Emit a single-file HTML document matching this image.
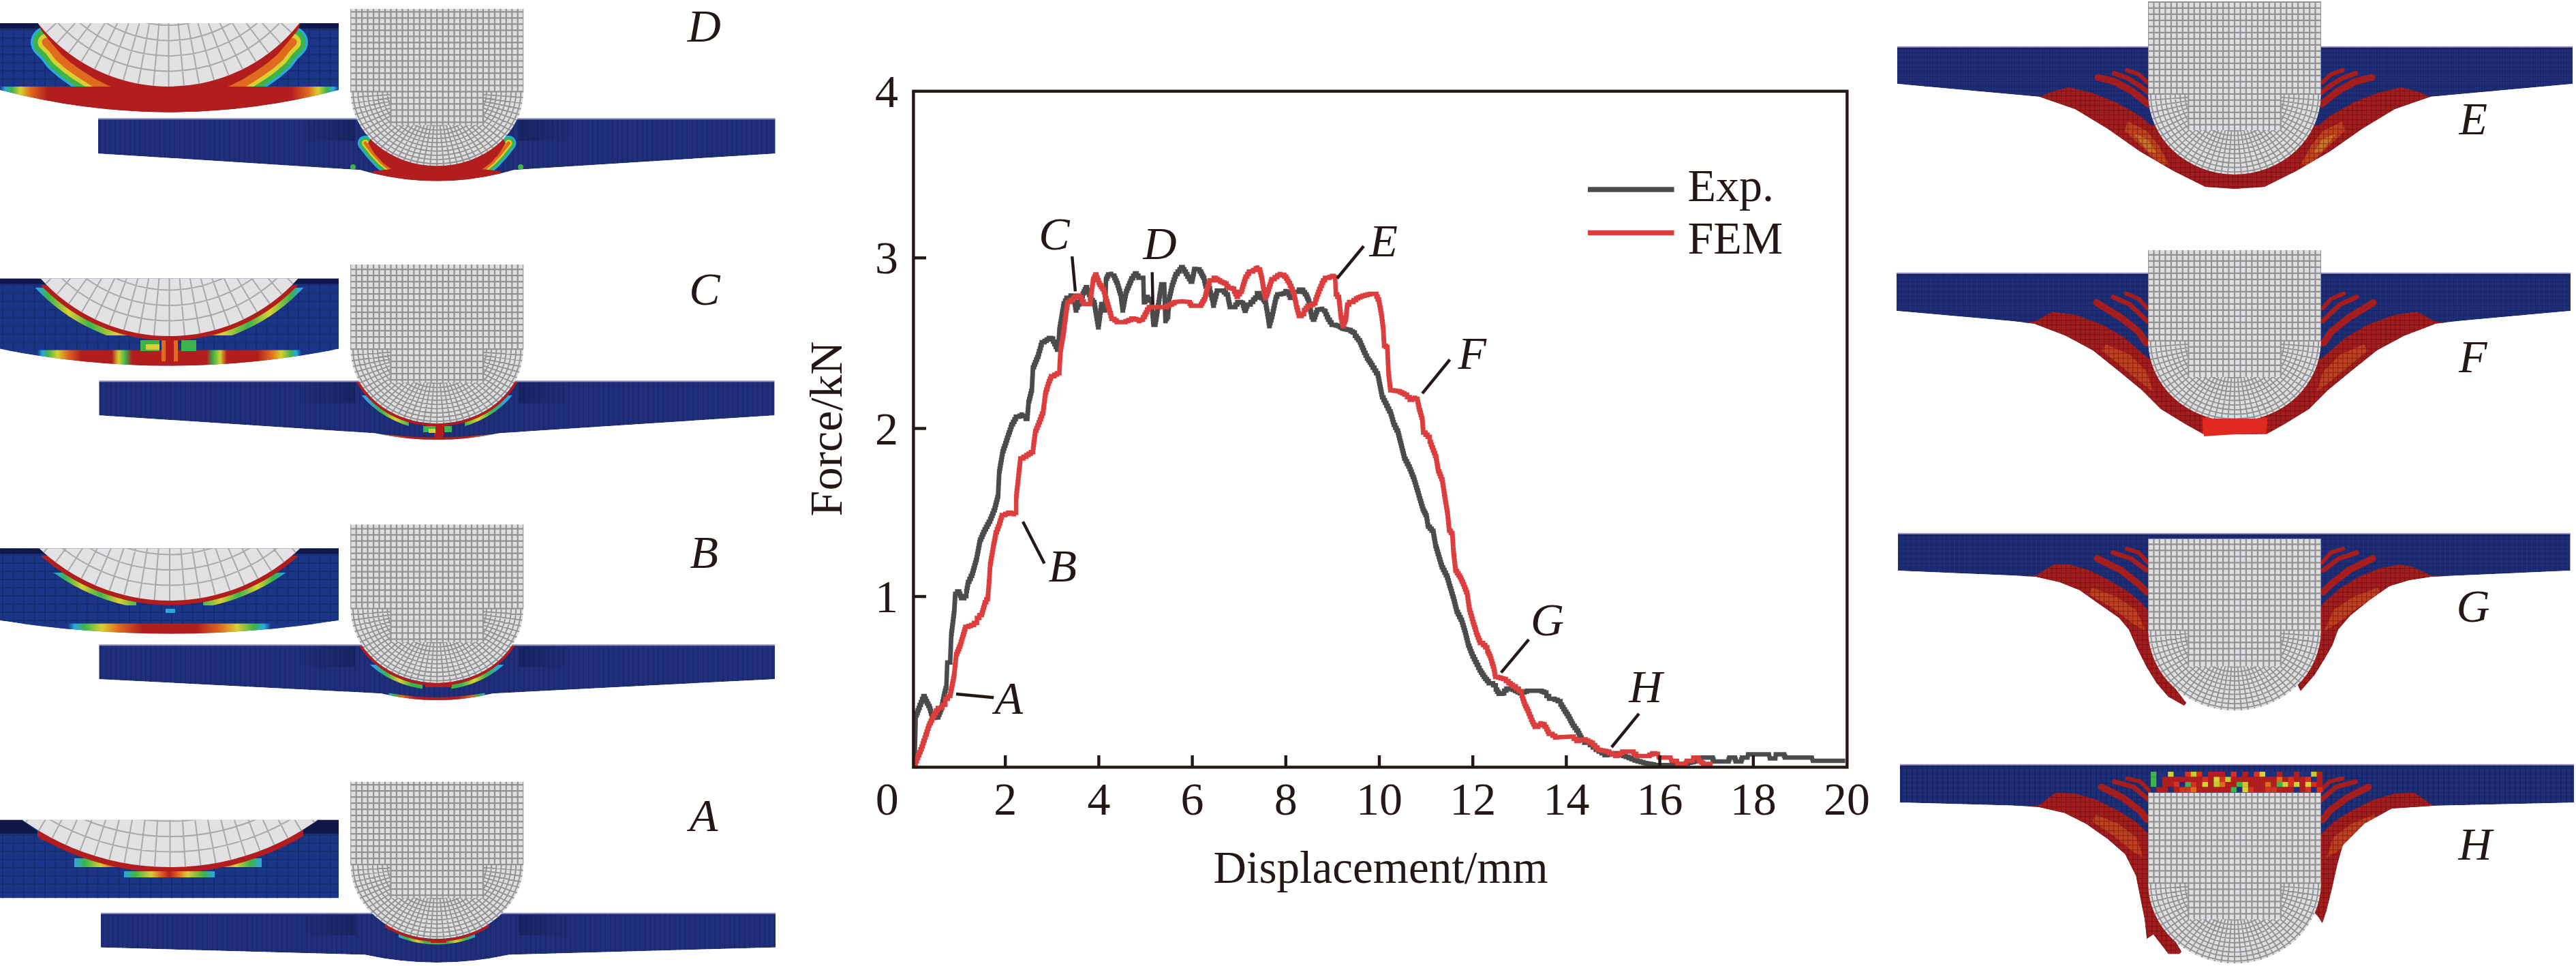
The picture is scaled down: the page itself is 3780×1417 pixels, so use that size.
<!DOCTYPE html>
<html><head><meta charset="utf-8"><title>Force-displacement</title>
<style>html,body{margin:0;padding:0;background:#fff;}svg{display:block;}</style></head>
<body>
<svg width="3780" height="1417" viewBox="0 0 3780 1417">
<defs>
<pattern id="redmesh" width="7" height="7" patternUnits="userSpaceOnUse"><path d="M0,0.5H7M0.5,0V7" stroke="#4a080c" stroke-width="1.5" opacity="0.42"/></pattern>
<pattern id="bluemesh" width="7.5" height="7" patternUnits="userSpaceOnUse"><path d="M0,0.5H7.5M0.5,0V7" stroke="#0c1440" stroke-width="1.2" opacity="0.35"/></pattern>
<linearGradient id="shL" x1="0" y1="0" x2="1" y2="0"><stop offset="0" stop-color="#0f1847" stop-opacity="0"/><stop offset="1" stop-color="#0f1847" stop-opacity="0.45"/></linearGradient>
<linearGradient id="shR" x1="0" y1="0" x2="1" y2="0"><stop offset="0" stop-color="#0f1847" stop-opacity="0.45"/><stop offset="1" stop-color="#0f1847" stop-opacity="0"/></linearGradient>
<linearGradient id="g1" gradientUnits="userSpaceOnUse" x1="0.0" y1="0" x2="497.0" y2="0"><stop offset="0.000" stop-color="#1b3688"/><stop offset="0.015" stop-color="#2aa8e0"/><stop offset="0.035" stop-color="#3cb44a"/><stop offset="0.060" stop-color="#d8d030"/><stop offset="0.090" stop-color="#e06a1e"/><stop offset="0.140" stop-color="#b21e1d"/><stop offset="0.860" stop-color="#b21e1d"/><stop offset="0.910" stop-color="#e06a1e"/><stop offset="0.940" stop-color="#d8d030"/><stop offset="0.965" stop-color="#3cb44a"/><stop offset="0.985" stop-color="#2aa8e0"/><stop offset="1.000" stop-color="#1b3688"/></linearGradient>
<linearGradient id="g2" gradientUnits="userSpaceOnUse" x1="55.0" y1="0" x2="442.0" y2="0"><stop offset="0.000" stop-color="#2aa8e0"/><stop offset="0.040" stop-color="#3cb44a"/><stop offset="0.120" stop-color="#d8d030"/><stop offset="0.200" stop-color="#3cb44a"/><stop offset="0.300" stop-color="#d8d030"/><stop offset="0.380" stop-color="#e06a1e"/><stop offset="0.620" stop-color="#e06a1e"/><stop offset="0.700" stop-color="#d8d030"/><stop offset="0.800" stop-color="#3cb44a"/><stop offset="0.880" stop-color="#d8d030"/><stop offset="0.960" stop-color="#3cb44a"/><stop offset="1.000" stop-color="#2aa8e0"/></linearGradient>
<linearGradient id="g3" gradientUnits="userSpaceOnUse" x1="0.0" y1="0" x2="497.0" y2="0"><stop offset="0.000" stop-color="#1b3688"/><stop offset="0.110" stop-color="#1b3688"/><stop offset="0.125" stop-color="#2aa8e0"/><stop offset="0.140" stop-color="#3cb44a"/><stop offset="0.170" stop-color="#d8d030"/><stop offset="0.200" stop-color="#e06a1e"/><stop offset="0.240" stop-color="#b21e1d"/><stop offset="0.330" stop-color="#b21e1d"/><stop offset="0.350" stop-color="#d8d030"/><stop offset="0.370" stop-color="#3cb44a"/><stop offset="0.390" stop-color="#b21e1d"/><stop offset="0.610" stop-color="#b21e1d"/><stop offset="0.630" stop-color="#3cb44a"/><stop offset="0.650" stop-color="#d8d030"/><stop offset="0.670" stop-color="#b21e1d"/><stop offset="0.760" stop-color="#b21e1d"/><stop offset="0.800" stop-color="#e06a1e"/><stop offset="0.830" stop-color="#d8d030"/><stop offset="0.860" stop-color="#3cb44a"/><stop offset="0.875" stop-color="#2aa8e0"/><stop offset="0.890" stop-color="#1b3688"/><stop offset="1.000" stop-color="#1b3688"/></linearGradient>
<clipPath id="cr4"><rect x="0.0" y="422.0" width="200.0" height="70.0"/><rect x="297.0" y="422.0" width="200.0" height="70.0"/></clipPath>
<clipPath id="cr5"><rect x="0.0" y="418.0" width="497.0" height="100.0"/></clipPath>
<linearGradient id="g6" gradientUnits="userSpaceOnUse" x1="540.0" y1="0" x2="742.0" y2="0"><stop offset="0.000" stop-color="#2aa8e0"/><stop offset="0.100" stop-color="#3cb44a"/><stop offset="0.200" stop-color="#d8d030"/><stop offset="0.300" stop-color="#3cb44a"/><stop offset="0.700" stop-color="#3cb44a"/><stop offset="0.800" stop-color="#d8d030"/><stop offset="0.900" stop-color="#3cb44a"/><stop offset="1.000" stop-color="#2aa8e0"/></linearGradient>
<clipPath id="cr7"><rect x="530.0" y="580.0" width="70.0" height="45.0"/><rect x="682.0" y="580.0" width="70.0" height="45.0"/></clipPath>
<linearGradient id="g8" gradientUnits="userSpaceOnUse" x1="555.0" y1="0" x2="727.0" y2="0"><stop offset="0.000" stop-color="#3cb44a"/><stop offset="0.100" stop-color="#e06a1e"/><stop offset="0.250" stop-color="#b21e1d"/><stop offset="0.750" stop-color="#b21e1d"/><stop offset="0.900" stop-color="#e06a1e"/><stop offset="1.000" stop-color="#3cb44a"/></linearGradient>
<linearGradient id="g9" gradientUnits="userSpaceOnUse" x1="80.0" y1="0" x2="418.0" y2="0"><stop offset="0.000" stop-color="#2aa8e0"/><stop offset="0.050" stop-color="#3cb44a"/><stop offset="0.120" stop-color="#d8d030"/><stop offset="0.200" stop-color="#3cb44a"/><stop offset="0.280" stop-color="#d8d030"/><stop offset="0.360" stop-color="#3cb44a"/><stop offset="0.400" stop-color="#2aa8e0"/><stop offset="0.600" stop-color="#2aa8e0"/><stop offset="0.640" stop-color="#3cb44a"/><stop offset="0.720" stop-color="#d8d030"/><stop offset="0.800" stop-color="#3cb44a"/><stop offset="0.880" stop-color="#d8d030"/><stop offset="0.950" stop-color="#3cb44a"/><stop offset="1.000" stop-color="#2aa8e0"/></linearGradient>
<linearGradient id="g10" gradientUnits="userSpaceOnUse" x1="0.0" y1="0" x2="497.0" y2="0"><stop offset="0.000" stop-color="#1b3688"/><stop offset="0.200" stop-color="#1b3688"/><stop offset="0.220" stop-color="#2aa8e0"/><stop offset="0.250" stop-color="#3cb44a"/><stop offset="0.300" stop-color="#d8d030"/><stop offset="0.350" stop-color="#e06a1e"/><stop offset="0.420" stop-color="#b21e1d"/><stop offset="0.580" stop-color="#b21e1d"/><stop offset="0.650" stop-color="#e06a1e"/><stop offset="0.700" stop-color="#d8d030"/><stop offset="0.750" stop-color="#3cb44a"/><stop offset="0.780" stop-color="#2aa8e0"/><stop offset="0.800" stop-color="#1b3688"/><stop offset="1.000" stop-color="#1b3688"/></linearGradient>
<clipPath id="cr11"><rect x="60.0" y="840.0" width="140.0" height="48.0"/><rect x="298.0" y="840.0" width="140.0" height="48.0"/></clipPath>
<clipPath id="cr12"><rect x="55.0" y="815.0" width="390.0" height="100.0"/></clipPath>
<linearGradient id="g13" gradientUnits="userSpaceOnUse" x1="550.0" y1="0" x2="732.0" y2="0"><stop offset="0.000" stop-color="#2aa8e0"/><stop offset="0.100" stop-color="#3cb44a"/><stop offset="0.200" stop-color="#d8d030"/><stop offset="0.300" stop-color="#3cb44a"/><stop offset="0.700" stop-color="#3cb44a"/><stop offset="0.800" stop-color="#d8d030"/><stop offset="0.900" stop-color="#3cb44a"/><stop offset="1.000" stop-color="#2aa8e0"/></linearGradient>
<clipPath id="cr14"><rect x="540.0" y="975.0" width="80.0" height="40.0"/><rect x="662.0" y="975.0" width="80.0" height="40.0"/></clipPath>
<linearGradient id="g15" gradientUnits="userSpaceOnUse" x1="570.0" y1="0" x2="712.0" y2="0"><stop offset="0.000" stop-color="#2aa8e0"/><stop offset="0.060" stop-color="#3cb44a"/><stop offset="0.140" stop-color="#e06a1e"/><stop offset="0.280" stop-color="#b21e1d"/><stop offset="0.720" stop-color="#b21e1d"/><stop offset="0.860" stop-color="#e06a1e"/><stop offset="0.940" stop-color="#3cb44a"/><stop offset="1.000" stop-color="#2aa8e0"/></linearGradient>
<linearGradient id="g16" gradientUnits="userSpaceOnUse" x1="109.0" y1="0" x2="384.0" y2="0"><stop offset="0.000" stop-color="#2aa8e0"/><stop offset="0.060" stop-color="#3cb44a"/><stop offset="0.140" stop-color="#d8d030"/><stop offset="0.200" stop-color="#e06a1e"/><stop offset="0.280" stop-color="#b21e1d"/><stop offset="0.720" stop-color="#b21e1d"/><stop offset="0.800" stop-color="#e06a1e"/><stop offset="0.860" stop-color="#d8d030"/><stop offset="0.940" stop-color="#3cb44a"/><stop offset="1.000" stop-color="#2aa8e0"/></linearGradient>
<linearGradient id="g17" gradientUnits="userSpaceOnUse" x1="182.0" y1="0" x2="315.0" y2="0"><stop offset="0.000" stop-color="#2aa8e0"/><stop offset="0.120" stop-color="#3cb44a"/><stop offset="0.300" stop-color="#d8d030"/><stop offset="0.400" stop-color="#e06a1e"/><stop offset="0.500" stop-color="#b21e1d"/><stop offset="0.600" stop-color="#e06a1e"/><stop offset="0.700" stop-color="#d8d030"/><stop offset="0.880" stop-color="#3cb44a"/><stop offset="1.000" stop-color="#2aa8e0"/></linearGradient>
<clipPath id="cr18"><rect x="55.0" y="1218.0" width="390.0" height="60.0"/></clipPath>
<linearGradient id="g19" gradientUnits="userSpaceOnUse" x1="585.0" y1="0" x2="697.0" y2="0"><stop offset="0.000" stop-color="#2aa8e0"/><stop offset="0.120" stop-color="#3cb44a"/><stop offset="0.250" stop-color="#d8d030"/><stop offset="0.350" stop-color="#3cb44a"/><stop offset="0.650" stop-color="#3cb44a"/><stop offset="0.750" stop-color="#d8d030"/><stop offset="0.880" stop-color="#3cb44a"/><stop offset="1.000" stop-color="#2aa8e0"/></linearGradient>
<clipPath id="cr20"><rect x="585.0" y="1360.0" width="112.0" height="30.0"/></clipPath>
<clipPath id="cr21"><rect x="565.0" y="1350.0" width="152.0" height="40.0"/></clipPath>
<clipPath id="ins22"><path d="M0,33.9 H497 V132.0 Q248.5,197.0 0,132.0 Z"/></clipPath>
<clipPath id="pl23"><path d="M143.9,174.4 H1137.7 V225.2 L754.2,249.3 Q641.2,281.9 528.2,249.3 L143.9,225.2 Z"/></clipPath>
<clipPath id="ind24"><path d="M514.2,13.0 H768.2 V134.3 A127.0,109.2 0 0 1 514.2,134.3 Z"/></clipPath>
<clipPath id="ring25"><path clip-rule="evenodd" d="M768.2,134.3 A127.0,109.2 0 0 1 514.2,134.3 Z M572.6,133.3 H709.8 V183.4 H572.6 Z"/></clipPath>
<clipPath id="ins26"><path d="M0,408.5 H497 V511.8 Q248.5,561.4 0,511.8 Z"/></clipPath>
<clipPath id="pl27"><path d="M145.3,559.4 H1136.6 V609.2 L732.4,635.5 Q641.2,654.5 550.0,635.5 L145.3,609.2 Z"/></clipPath>
<clipPath id="ind28"><path d="M514.2,388.0 H768.2 V512.2 A127.0,109.2 0 0 1 514.2,512.2 Z"/></clipPath>
<clipPath id="ring29"><path clip-rule="evenodd" d="M768.2,512.2 A127.0,109.2 0 0 1 514.2,512.2 Z M572.6,511.2 H709.8 V561.3 H572.6 Z"/></clipPath>
<clipPath id="ins30"><path d="M0,804.3 H497 V910.0 Q248.5,949.2 0,910.0 Z"/></clipPath>
<clipPath id="pl31"><path d="M145.3,946.4 H1137.0 V996.2 L723.4,1017.2 Q641.2,1036.8 559.0,1017.2 L145.3,996.2 Z"/></clipPath>
<clipPath id="ind32"><path d="M514.2,769.3 H768.2 V892.7 A127.0,109.2 0 0 1 514.2,892.7 Z"/></clipPath>
<clipPath id="ring33"><path clip-rule="evenodd" d="M768.2,892.7 A127.0,109.2 0 0 1 514.2,892.7 Z M572.6,891.7 H709.8 V941.8 H572.6 Z"/></clipPath>
<clipPath id="ins34"><path d="M0,1202.8 H497 V1317.6 H0 Z"/></clipPath>
<clipPath id="pl35"><path d="M148.0,1340.0 H1138.0 V1389.7 L746.7,1400.5 Q641.2,1423.5 535.7,1400.5 L148.0,1389.7 Z"/></clipPath>
<clipPath id="ind36"><path d="M514.2,1146.6 H768.2 V1268.1 A127.0,109.2 0 0 1 514.2,1268.1 Z"/></clipPath>
<clipPath id="ring37"><path clip-rule="evenodd" d="M768.2,1268.1 A127.0,109.2 0 0 1 514.2,1268.1 Z M572.6,1267.1 H709.8 V1317.2 H572.6 Z"/></clipPath>
<clipPath id="rp38"><path d="M2784.0,69.0 L3775.0,69.0 L3775.0,123.0 L3566.0,142.0 L3514.0,160.0 L3466.0,189.0 L3419.0,222.0 L3371.0,250.0 L3323.0,274.0 L3279.5,277.0 L3236.0,274.0 L3188.0,250.0 L3140.0,222.0 L3093.0,189.0 L3045.0,160.0 L2993.0,142.0 L2784.0,123.0 Z"/></clipPath>
<clipPath id="ind39"><path d="M3152.0,2.0 H3406.0 V137.9 A127.0,118.1 0 0 1 3152.0,137.9 Z"/></clipPath>
<clipPath id="ring40"><path clip-rule="evenodd" d="M3406.0,137.9 A127.0,118.1 0 0 1 3152.0,137.9 Z M3210.4,136.9 H3347.6 V191.0 H3210.4 Z"/></clipPath>
<clipPath id="rp41"><path d="M2783.0,401.0 L3772.0,401.0 L3772.0,456.0 L3609.0,470.8 L3574.0,474.8 L3528.2,492.3 L3487.8,513.9 L3447.5,546.2 L3415.1,573.1 L3388.2,600.0 L3353.2,621.6 L3326.3,636.4 L3279.5,637.0 L3232.7,636.4 L3205.8,621.6 L3170.8,600.0 L3143.9,573.1 L3111.5,546.2 L3071.2,513.9 L3030.8,492.3 L2985.0,474.8 L2950.0,470.8 L2783.0,456.0 Z"/></clipPath>
<clipPath id="ind42"><path d="M3152.0,367.0 H3406.0 V499.9 A127.0,118.1 0 0 1 3152.0,499.9 Z"/></clipPath>
<clipPath id="ring43"><path clip-rule="evenodd" d="M3406.0,499.9 A127.0,118.1 0 0 1 3152.0,499.9 Z M3210.4,498.9 H3347.6 V553.0 H3210.4 Z"/></clipPath>
<clipPath id="rp44"><path d="M2785.0,783.0 L3771.6,783.0 L3771.6,837.0 L3567.2,845.9 L3535.3,851.1 L3506.3,859.8 L3477.3,880.1 L3448.4,903.3 L3431.0,923.6 L3422.3,946.8 L3410.7,967.0 L3396.2,990.2 L3375.9,1013.4 L3370.1,1001.8 L3360.0,960.0 L3200.0,960.0 L3172.0,982.0 L3186.0,1002.0 L3208.0,1031.0 L3205.0,1035.1 L3181.8,1022.1 L3164.4,1001.8 L3150.0,978.6 L3135.5,949.7 L3123.9,923.6 L3109.4,906.2 L3080.4,885.9 L3051.4,865.6 L3022.4,854.0 L2987.7,845.9 L2950.0,843.9 L2785.0,837.0 Z"/></clipPath>
<clipPath id="ind45"><path d="M3152.0,790.3 H3406.0 V924.3 A127.0,118.1 0 0 1 3152.0,924.3 Z"/></clipPath>
<clipPath id="ring46"><path clip-rule="evenodd" d="M3406.0,924.3 A127.0,118.1 0 0 1 3152.0,924.3 Z M3210.4,923.3 H3347.6 V977.4 H3210.4 Z"/></clipPath>
<clipPath id="rp47"><path d="M2788.0,1122.0 L3777.0,1122.0 L3777.0,1177.2 L3569.7,1182.0 L3509.7,1186.0 L3469.7,1208.0 L3437.7,1240.0 L3429.7,1268.0 L3421.7,1304.0 L3413.7,1336.0 L3407.7,1354.0 L3402.0,1345.0 L3360.0,1300.0 L3200.0,1300.0 L3180.0,1360.0 L3201.0,1396.0 L3197.9,1399.3 L3182.0,1399.3 L3159.8,1370.6 L3150.3,1377.0 L3147.1,1348.4 L3140.7,1316.6 L3134.4,1284.8 L3118.5,1253.0 L3093.0,1230.8 L3061.3,1208.5 L3029.5,1192.6 L2991.3,1183.7 L2950.0,1181.5 L2788.0,1177.2 Z"/></clipPath>
<clipPath id="ind48"><path d="M3152.0,1162.4 H3406.0 V1295.4 A127.0,118.1 0 0 1 3152.0,1295.4 Z"/></clipPath>
<clipPath id="ring49"><path clip-rule="evenodd" d="M3406.0,1295.4 A127.0,118.1 0 0 1 3152.0,1295.4 Z M3210.4,1294.4 H3347.6 V1348.5 H3210.4 Z"/></clipPath>
</defs>
<rect width="3780" height="1417" fill="#fff"/>
<g clip-path="url(#ins22)">
<path d="M0,33.9 H497 V132.0 Q248.5,197.0 0,132.0 Z" fill="#1b3688"/>
<path d="M4.0,33.9V233.9M19.5,33.9V233.9M35.0,33.9V233.9M50.5,33.9V233.9M66.0,33.9V233.9M81.5,33.9V233.9M97.0,33.9V233.9M112.5,33.9V233.9M128.0,33.9V233.9M143.5,33.9V233.9M159.0,33.9V233.9M174.5,33.9V233.9M190.0,33.9V233.9M205.5,33.9V233.9M221.0,33.9V233.9M236.5,33.9V233.9M252.0,33.9V233.9M267.5,33.9V233.9M283.0,33.9V233.9M298.5,33.9V233.9M314.0,33.9V233.9M329.5,33.9V233.9M345.0,33.9V233.9M360.5,33.9V233.9M376.0,33.9V233.9M391.5,33.9V233.9M407.0,33.9V233.9M422.5,33.9V233.9M438.0,33.9V233.9M453.5,33.9V233.9M469.0,33.9V233.9M484.5,33.9V233.9M0,43.9H497M0,55.9H497M0,67.9H497M0,79.9H497M0,91.9H497M0,103.9H497M0,115.9H497M0,127.9H497M0,139.9H497M0,151.9H497M0,163.9H497M0,175.9H497M0,187.9H497M0,199.9H497M0,211.9H497M0,223.9H497" stroke="#141f55" stroke-width="1.6" opacity="0.5" fill="none"/>
<rect x="0" y="33.9" width="497" height="8" fill="#0f1847"/>
<polyline points="68.0,62.0 78.0,72.0 87.0,84.0 101.0,96.0 115.0,106.0 137.0,120.0 156.0,130.0" fill="none" stroke="#2aa8e0" stroke-width="46.0" stroke-linecap="round" stroke-linejoin="round"/>
<polyline points="429.0,62.0 419.0,72.0 410.0,84.0 396.0,96.0 382.0,106.0 360.0,120.0 341.0,130.0" fill="none" stroke="#2aa8e0" stroke-width="46.0" stroke-linecap="round" stroke-linejoin="round"/>
<polyline points="68.0,62.0 78.0,72.0 87.0,84.0 101.0,96.0 115.0,106.0 137.0,120.0 156.0,130.0" fill="none" stroke="#3cb44a" stroke-width="39.0" stroke-linecap="round" stroke-linejoin="round"/>
<polyline points="429.0,62.0 419.0,72.0 410.0,84.0 396.0,96.0 382.0,106.0 360.0,120.0 341.0,130.0" fill="none" stroke="#3cb44a" stroke-width="39.0" stroke-linecap="round" stroke-linejoin="round"/>
<polyline points="68.0,62.0 78.0,72.0 87.0,84.0 101.0,96.0 115.0,106.0 137.0,120.0 156.0,130.0" fill="none" stroke="#d8d030" stroke-width="25.0" stroke-linecap="round" stroke-linejoin="round"/>
<polyline points="429.0,62.0 419.0,72.0 410.0,84.0 396.0,96.0 382.0,106.0 360.0,120.0 341.0,130.0" fill="none" stroke="#d8d030" stroke-width="25.0" stroke-linecap="round" stroke-linejoin="round"/>
<polyline points="68.0,62.0 78.0,72.0 87.0,84.0 101.0,96.0 115.0,106.0 137.0,120.0 156.0,130.0" fill="none" stroke="#e06a1e" stroke-width="13.0" stroke-linecap="round" stroke-linejoin="round"/>
<polyline points="429.0,62.0 419.0,72.0 410.0,84.0 396.0,96.0 382.0,106.0 360.0,120.0 341.0,130.0" fill="none" stroke="#e06a1e" stroke-width="13.0" stroke-linecap="round" stroke-linejoin="round"/>
<rect x="0" y="127" width="497" height="45" fill="url(#g1)"/>
<path d="M56.0,34.0 L60.0,44.0 L68.0,54.0 L78.0,66.0 L90.0,80.0 L104.0,92.0 L118.0,102.0 L140.0,116.0 L160.0,126.0 L180.0,134.0 L248.5,300.0 L317.0,134.0 L337.0,126.0 L357.0,116.0 L379.0,102.0 L393.0,92.0 L407.0,80.0 L419.0,66.0 L429.0,54.0 L437.0,44.0 L441.0,34.0 Z" fill="#b21e1d" />
<circle cx="247.5" cy="-117.8" r="244.7" fill="#e2e2e4"/>
<path d="M25.3,-117.8 a222.2,222.2 0 1 0 444.4,0M47.8,-117.8 a199.7,199.7 0 1 0 399.4,0M70.3,-117.8 a177.2,177.2 0 1 0 354.4,0M92.8,-117.8 a154.7,154.7 0 1 0 309.4,0M115.3,-117.8 a132.2,132.2 0 1 0 264.4,0M137.8,-117.8 a109.7,109.7 0 1 0 219.4,0M160.3,-117.8 a87.2,87.2 0 1 0 174.4,0M182.8,-117.8 a64.7,64.7 0 1 0 129.4,0M247.5,-117.8L122.5,-328.1M247.5,-117.8L142.3,-338.7M247.5,-117.8L163.0,-347.5M247.5,-117.8L184.5,-354.2M247.5,-117.8L206.4,-359.0M247.5,-117.8L228.8,-361.8M247.5,-117.8L251.2,-362.5M247.5,-117.8L273.7,-361.1M247.5,-117.8L295.9,-357.7M247.5,-117.8L317.7,-352.2M247.5,-117.8L339.0,-344.8M247.5,-117.8L359.4,-335.4M247.5,-117.8L378.9,-324.2M247.5,-117.8L397.3,-311.3M247.5,-117.8L414.5,-296.7M247.5,-117.8L430.2,-280.6M247.5,-117.8L444.4,-263.1M247.5,-117.8L456.9,-244.5M247.5,-117.8L467.6,-224.7M247.5,-117.8L476.5,-204.0M247.5,-117.8L483.5,-182.6M247.5,-117.8L488.4,-160.7M247.5,-117.8L491.3,-138.4M247.5,-117.8L492.2,-115.9M247.5,-117.8L491.0,-93.5M247.5,-117.8L487.7,-71.2M247.5,-117.8L482.4,-49.4M247.5,-117.8L475.2,-28.1M247.5,-117.8L466.0,-7.5M247.5,-117.8L454.9,12.0M247.5,-117.8L442.1,30.5M247.5,-117.8L427.7,47.8M247.5,-117.8L411.7,63.6M247.5,-117.8L394.3,77.9M247.5,-117.8L375.8,90.6M247.5,-117.8L356.1,101.5M247.5,-117.8L335.5,110.5M247.5,-117.8L314.1,117.6M247.5,-117.8L292.2,122.8M247.5,-117.8L270.0,125.9M247.5,-117.8L247.5,126.9M247.5,-117.8L225.0,125.9M247.5,-117.8L202.8,122.8M247.5,-117.8L180.9,117.6M247.5,-117.8L159.5,110.5M247.5,-117.8L138.9,101.5M247.5,-117.8L119.2,90.6M247.5,-117.8L100.7,77.9M247.5,-117.8L83.3,63.6M247.5,-117.8L67.3,47.8M247.5,-117.8L52.9,30.5M247.5,-117.8L40.1,12.0M247.5,-117.8L29.0,-7.5M247.5,-117.8L19.8,-28.1M247.5,-117.8L12.6,-49.4M247.5,-117.8L7.3,-71.2M247.5,-117.8L4.0,-93.5M247.5,-117.8L2.8,-115.9M247.5,-117.8L3.7,-138.4M247.5,-117.8L6.6,-160.7M247.5,-117.8L11.5,-182.6M247.5,-117.8L18.5,-204.0M247.5,-117.8L27.4,-224.7M247.5,-117.8L38.1,-244.5M247.5,-117.8L50.6,-263.1M247.5,-117.8L64.8,-280.6M247.5,-117.8L80.5,-296.7M247.5,-117.8L97.7,-311.3M247.5,-117.8L116.1,-324.2M247.5,-117.8L135.6,-335.4M247.5,-117.8L156.0,-344.8M247.5,-117.8L177.3,-352.2M247.5,-117.8L199.1,-357.7M247.5,-117.8L221.3,-361.1M247.5,-117.8L243.8,-362.5M247.5,-117.8L266.2,-361.8M247.5,-117.8L288.6,-359.0M247.5,-117.8L310.5,-354.2M247.5,-117.8L332.0,-347.5M247.5,-117.8L352.7,-338.7M247.5,-117.8L372.5,-328.1" stroke="#a9a9a9" stroke-width="2" fill="none"/>
</g>
<g clip-path="url(#pl23)">
<path d="M143.9,174.4 H1137.7 V225.2 L754.2,249.3 Q641.2,281.9 528.2,249.3 L143.9,225.2 Z" fill="#1f2f7a"/>
<path d="M146.9,174.4V294.4M154.2,174.4V294.4M161.5,174.4V294.4M168.8,174.4V294.4M176.1,174.4V294.4M183.4,174.4V294.4M190.7,174.4V294.4M198.0,174.4V294.4M205.3,174.4V294.4M212.6,174.4V294.4M219.9,174.4V294.4M227.2,174.4V294.4M234.5,174.4V294.4M241.8,174.4V294.4M249.1,174.4V294.4M256.4,174.4V294.4M263.7,174.4V294.4M271.0,174.4V294.4M278.3,174.4V294.4M285.6,174.4V294.4M292.9,174.4V294.4M300.2,174.4V294.4M307.5,174.4V294.4M314.8,174.4V294.4M322.1,174.4V294.4M329.4,174.4V294.4M336.7,174.4V294.4M344.0,174.4V294.4M351.3,174.4V294.4M358.6,174.4V294.4M365.9,174.4V294.4M373.2,174.4V294.4M380.5,174.4V294.4M387.8,174.4V294.4M395.1,174.4V294.4M402.4,174.4V294.4M409.7,174.4V294.4M417.0,174.4V294.4M424.3,174.4V294.4M431.6,174.4V294.4M438.9,174.4V294.4M446.2,174.4V294.4M453.5,174.4V294.4M460.8,174.4V294.4M468.1,174.4V294.4M475.4,174.4V294.4M482.7,174.4V294.4M490.0,174.4V294.4M497.3,174.4V294.4M504.6,174.4V294.4M511.9,174.4V294.4M519.2,174.4V294.4M526.5,174.4V294.4M533.8,174.4V294.4M541.1,174.4V294.4M548.4,174.4V294.4M555.7,174.4V294.4M563.0,174.4V294.4M570.3,174.4V294.4M577.6,174.4V294.4M584.9,174.4V294.4M592.2,174.4V294.4M599.5,174.4V294.4M606.8,174.4V294.4M614.1,174.4V294.4M621.4,174.4V294.4M628.7,174.4V294.4M636.0,174.4V294.4M643.3,174.4V294.4M650.6,174.4V294.4M657.9,174.4V294.4M665.2,174.4V294.4M672.5,174.4V294.4M679.8,174.4V294.4M687.1,174.4V294.4M694.4,174.4V294.4M701.7,174.4V294.4M709.0,174.4V294.4M716.3,174.4V294.4M723.6,174.4V294.4M730.9,174.4V294.4M738.2,174.4V294.4M745.5,174.4V294.4M752.8,174.4V294.4M760.1,174.4V294.4M767.4,174.4V294.4M774.7,174.4V294.4M782.0,174.4V294.4M789.3,174.4V294.4M796.6,174.4V294.4M803.9,174.4V294.4M811.2,174.4V294.4M818.5,174.4V294.4M825.8,174.4V294.4M833.1,174.4V294.4M840.4,174.4V294.4M847.7,174.4V294.4M855.0,174.4V294.4M862.3,174.4V294.4M869.6,174.4V294.4M876.9,174.4V294.4M884.2,174.4V294.4M891.5,174.4V294.4M898.8,174.4V294.4M906.1,174.4V294.4M913.4,174.4V294.4M920.7,174.4V294.4M928.0,174.4V294.4M935.3,174.4V294.4M942.6,174.4V294.4M949.9,174.4V294.4M957.2,174.4V294.4M964.5,174.4V294.4M971.8,174.4V294.4M979.1,174.4V294.4M986.4,174.4V294.4M993.7,174.4V294.4M1001.0,174.4V294.4M1008.3,174.4V294.4M1015.6,174.4V294.4M1022.9,174.4V294.4M1030.2,174.4V294.4M1037.5,174.4V294.4M1044.8,174.4V294.4M1052.1,174.4V294.4M1059.4,174.4V294.4M1066.7,174.4V294.4M1074.0,174.4V294.4M1081.3,174.4V294.4M1088.6,174.4V294.4M1095.9,174.4V294.4M1103.2,174.4V294.4M1110.5,174.4V294.4M1117.8,174.4V294.4M1125.1,174.4V294.4M1132.4,174.4V294.4" stroke="#141f55" stroke-width="1.3" opacity="0.45" fill="none"/>
<rect x="441.2" y="176.4" width="80" height="30" fill="url(#shL)"/>
<rect x="761.2" y="176.4" width="80" height="30" fill="url(#shR)"/>
<polyline points="536.0,210.0 547.0,224.0 559.0,237.0 571.0,247.0" fill="none" stroke="#2aa8e0" stroke-width="22.0" stroke-linecap="round" stroke-linejoin="round"/>
<polyline points="746.4,210.0 735.4,224.0 723.4,237.0 711.4,247.0" fill="none" stroke="#2aa8e0" stroke-width="22.0" stroke-linecap="round" stroke-linejoin="round"/>
<polyline points="536.0,210.0 547.0,224.0 559.0,237.0 571.0,247.0" fill="none" stroke="#3cb44a" stroke-width="17.0" stroke-linecap="round" stroke-linejoin="round"/>
<polyline points="746.4,210.0 735.4,224.0 723.4,237.0 711.4,247.0" fill="none" stroke="#3cb44a" stroke-width="17.0" stroke-linecap="round" stroke-linejoin="round"/>
<polyline points="536.0,210.0 547.0,224.0 559.0,237.0 571.0,247.0" fill="none" stroke="#d8d030" stroke-width="10.0" stroke-linecap="round" stroke-linejoin="round"/>
<polyline points="746.4,210.0 735.4,224.0 723.4,237.0 711.4,247.0" fill="none" stroke="#d8d030" stroke-width="10.0" stroke-linecap="round" stroke-linejoin="round"/>
<polyline points="536.0,210.0 547.0,224.0 559.0,237.0 571.0,247.0" fill="none" stroke="#e06a1e" stroke-width="5.0" stroke-linecap="round" stroke-linejoin="round"/>
<polyline points="746.4,210.0 735.4,224.0 723.4,237.0 711.4,247.0" fill="none" stroke="#e06a1e" stroke-width="5.0" stroke-linecap="round" stroke-linejoin="round"/>
<circle cx="518" cy="245" r="4" fill="#3cb44a"/><circle cx="764" cy="245" r="4" fill="#3cb44a"/>
<path d="M548.0,196.0 L540.0,210.0 L550.0,226.0 L562.0,239.0 L574.0,248.0 L548.0,251.0 L535.0,275.0 L747.0,275.0 L734.0,251.0 L708.0,248.0 L720.0,239.0 L732.0,226.0 L742.0,210.0 L734.0,196.0 L641.0,150.0 Z" fill="#b21e1d" />
</g>
<rect x="143.9" y="173.2" width="993.8" height="2.2" fill="#8a84bd" opacity="0.85"/>
<g clip-path="url(#ind24)">
<path d="M514.2,13.0 H768.2 V134.3 A127.0,109.2 0 0 1 514.2,134.3 Z" fill="#dddee1"/>
<path d="M514.2,13.0V134.3M522.7,13.0V134.3M531.1,13.0V134.3M539.6,13.0V134.3M548.1,13.0V134.3M556.5,13.0V134.3M565.0,13.0V134.3M573.5,13.0V183.4M581.9,13.0V183.4M590.4,13.0V183.4M598.9,13.0V183.4M607.3,13.0V183.4M615.8,13.0V183.4M624.3,13.0V183.4M632.7,13.0V183.4M641.2,13.0V183.4M649.7,13.0V183.4M658.1,13.0V183.4M666.6,13.0V183.4M675.1,13.0V183.4M683.5,13.0V183.4M692.0,13.0V183.4M700.5,13.0V183.4M708.9,13.0V183.4M717.4,13.0V134.3M725.9,13.0V134.3M734.3,13.0V134.3M742.8,13.0V134.3M751.3,13.0V134.3M759.7,13.0V134.3M768.2,13.0V134.3M514.2,134.3H768.2M514.2,125.3H768.2M514.2,116.3H768.2M514.2,107.3H768.2M514.2,98.3H768.2M514.2,89.3H768.2M514.2,80.3H768.2M514.2,71.3H768.2M514.2,62.3H768.2M514.2,53.3H768.2M514.2,44.3H768.2M514.2,35.3H768.2M514.2,26.3H768.2M514.2,17.3H768.2M572.6,143.3H709.8M572.6,152.3H709.8M572.6,161.3H709.8M572.6,170.3H709.8M572.6,179.3H709.8" stroke="#929292" stroke-width="2.2" fill="none"/>
<g clip-path="url(#ring25)"><path d="M518.0,134.3 A123.2,105.9 0 0 0 764.4,134.3M525.2,134.3 A116.0,99.8 0 0 0 757.2,134.3M532.4,134.3 A108.8,93.6 0 0 0 750.0,134.3M539.6,134.3 A101.6,87.4 0 0 0 742.8,134.3M546.8,134.3 A94.4,81.2 0 0 0 735.6,134.3M554.0,134.3 A87.2,75.0 0 0 0 728.4,134.3M561.2,134.3 A80.0,68.8 0 0 0 721.2,134.3M568.4,134.3 A72.8,62.6 0 0 0 714.0,134.3M575.6,134.3 A65.6,56.4 0 0 0 706.8,134.3M582.8,134.3 A58.4,50.2 0 0 0 699.6,134.3M641.2,134.3L774.1,143.3M641.2,134.3L772.9,152.2M641.2,134.3L770.9,161.1M641.2,134.3L768.0,169.7M641.2,134.3L764.4,178.2M641.2,134.3L760.0,186.3M641.2,134.3L754.9,194.2M641.2,134.3L749.1,201.7M641.2,134.3L742.6,208.8M641.2,134.3L735.5,215.4M641.2,134.3L727.8,221.5M641.2,134.3L719.6,227.1M641.2,134.3L710.9,232.1M641.2,134.3L701.7,236.5M641.2,134.3L692.2,240.2M641.2,134.3L682.4,243.3M641.2,134.3L672.3,245.8M641.2,134.3L662.1,247.5M641.2,134.3L651.7,248.6M641.2,134.3L641.2,249.0M641.2,134.3L630.7,248.6M641.2,134.3L620.3,247.5M641.2,134.3L610.1,245.8M641.2,134.3L600.0,243.3M641.2,134.3L590.2,240.2M641.2,134.3L580.7,236.5M641.2,134.3L571.5,232.1M641.2,134.3L562.8,227.1M641.2,134.3L554.6,221.5M641.2,134.3L546.9,215.4M641.2,134.3L539.8,208.8M641.2,134.3L533.3,201.7M641.2,134.3L527.5,194.2M641.2,134.3L522.4,186.3M641.2,134.3L518.0,178.2M641.2,134.3L514.4,169.7M641.2,134.3L511.5,161.1M641.2,134.3L509.5,152.2M641.2,134.3L508.3,143.3" stroke="#929292" stroke-width="1.9" fill="none"/></g>
</g>
<text x="1008.8" y="61.4" style="font-family:'Liberation Serif',serif;font-style:italic;font-size:68px" fill="#231815">D</text>
<g clip-path="url(#ins26)">
<path d="M0,408.5 H497 V511.8 Q248.5,561.4 0,511.8 Z" fill="#1b3688"/>
<path d="M4.0,408.5V608.5M19.5,408.5V608.5M35.0,408.5V608.5M50.5,408.5V608.5M66.0,408.5V608.5M81.5,408.5V608.5M97.0,408.5V608.5M112.5,408.5V608.5M128.0,408.5V608.5M143.5,408.5V608.5M159.0,408.5V608.5M174.5,408.5V608.5M190.0,408.5V608.5M205.5,408.5V608.5M221.0,408.5V608.5M236.5,408.5V608.5M252.0,408.5V608.5M267.5,408.5V608.5M283.0,408.5V608.5M298.5,408.5V608.5M314.0,408.5V608.5M329.5,408.5V608.5M345.0,408.5V608.5M360.5,408.5V608.5M376.0,408.5V608.5M391.5,408.5V608.5M407.0,408.5V608.5M422.5,408.5V608.5M438.0,408.5V608.5M453.5,408.5V608.5M469.0,408.5V608.5M484.5,408.5V608.5M0,418.5H497M0,430.5H497M0,442.5H497M0,454.5H497M0,466.5H497M0,478.5H497M0,490.5H497M0,502.5H497M0,514.5H497M0,526.5H497M0,538.5H497M0,550.5H497M0,562.5H497M0,574.5H497M0,586.5H497M0,598.5H497" stroke="#141f55" stroke-width="1.6" opacity="0.5" fill="none"/>
<rect x="0" y="408.5" width="497" height="8" fill="#0f1847"/>
<circle cx="248.5" cy="239.4" r="263.6" fill="none" stroke="url(#g2)" stroke-width="10.0" clip-path="url(#cr4)"/>
<rect x="0" y="513.5" width="497" height="30" fill="url(#g3)"/>
<rect x="237" y="490" width="24" height="40" fill="#e06a1e"/>
<rect x="243" y="490" width="12" height="40" fill="#b21e1d"/>
<rect x="206" y="499" width="28" height="16" fill="#3cb44a"/>
<rect x="214" y="505" width="20" height="8" fill="#d8d030"/>
<rect x="266" y="499" width="22" height="16" fill="#3cb44a"/>
<circle cx="248.5" cy="239.4" r="256.6" fill="none" stroke="#b21e1d" stroke-width="7.0" clip-path="url(#cr5)"/>
<circle cx="248.5" cy="239.4" r="253.6" fill="#e2e2e4"/>
<path d="M17.4,239.4 a231.1,231.1 0 1 0 462.2,0M39.9,239.4 a208.6,208.6 0 1 0 417.2,0M62.4,239.4 a186.1,186.1 0 1 0 372.2,0M84.9,239.4 a163.6,163.6 0 1 0 327.2,0M107.4,239.4 a141.1,141.1 0 1 0 282.2,0M129.9,239.4 a118.6,118.6 0 1 0 237.2,0M152.4,239.4 a96.1,96.1 0 1 0 192.2,0M174.9,239.4 a73.6,73.6 0 1 0 147.2,0M248.5,239.4L148.0,6.5M248.5,239.4L169.1,-1.4M248.5,239.4L190.7,-7.5M248.5,239.4L212.8,-11.7M248.5,239.4L235.2,-13.9M248.5,239.4L257.7,-14.0M248.5,239.4L280.1,-12.2M248.5,239.4L302.3,-8.4M248.5,239.4L324.0,-2.7M248.5,239.4L345.2,5.0M248.5,239.4L365.6,14.4M248.5,239.4L385.1,25.7M248.5,239.4L403.5,38.6M248.5,239.4L420.6,53.2M248.5,239.4L436.5,69.2M248.5,239.4L450.8,86.5M248.5,239.4L463.6,105.0M248.5,239.4L474.6,124.6M248.5,239.4L483.9,145.1M248.5,239.4L491.3,166.3M248.5,239.4L496.9,188.1M248.5,239.4L500.4,210.3M248.5,239.4L502.0,232.8M248.5,239.4L501.6,255.2M248.5,239.4L499.2,277.6M248.5,239.4L494.8,299.7M248.5,239.4L488.5,321.3M248.5,239.4L480.3,342.2M248.5,239.4L470.3,362.3M248.5,239.4L458.5,381.5M248.5,239.4L445.1,399.6M248.5,239.4L430.2,416.4M248.5,239.4L413.8,431.8M248.5,239.4L396.1,445.6M248.5,239.4L377.2,457.9M248.5,239.4L357.3,468.5M248.5,239.4L336.6,477.2M248.5,239.4L315.2,484.1M248.5,239.4L293.3,489.0M248.5,239.4L271.0,492.0M248.5,239.4L248.5,493.0M248.5,239.4L226.0,492.0M248.5,239.4L203.7,489.0M248.5,239.4L181.8,484.1M248.5,239.4L160.4,477.2M248.5,239.4L139.7,468.5M248.5,239.4L119.8,457.9M248.5,239.4L100.9,445.6M248.5,239.4L83.2,431.8M248.5,239.4L66.8,416.4M248.5,239.4L51.9,399.6M248.5,239.4L38.5,381.5M248.5,239.4L26.7,362.3M248.5,239.4L16.7,342.2M248.5,239.4L8.5,321.3M248.5,239.4L2.2,299.7M248.5,239.4L-2.2,277.6M248.5,239.4L-4.6,255.2M248.5,239.4L-5.0,232.8M248.5,239.4L-3.4,210.3M248.5,239.4L0.1,188.1M248.5,239.4L5.7,166.3M248.5,239.4L13.1,145.1M248.5,239.4L22.4,124.6M248.5,239.4L33.4,105.0M248.5,239.4L46.2,86.5M248.5,239.4L60.5,69.2M248.5,239.4L76.4,53.2M248.5,239.4L93.5,38.6M248.5,239.4L111.9,25.7M248.5,239.4L131.4,14.4M248.5,239.4L151.8,5.0M248.5,239.4L173.0,-2.7M248.5,239.4L194.7,-8.4M248.5,239.4L216.9,-12.2M248.5,239.4L239.3,-14.0M248.5,239.4L261.8,-13.9M248.5,239.4L284.2,-11.7M248.5,239.4L306.3,-7.5M248.5,239.4L327.9,-1.4M248.5,239.4L349.0,6.5" stroke="#a9a9a9" stroke-width="2" fill="none"/>
</g>
<g clip-path="url(#pl27)">
<path d="M145.3,559.4 H1136.6 V609.2 L732.4,635.5 Q641.2,654.5 550.0,635.5 L145.3,609.2 Z" fill="#1f2f7a"/>
<path d="M148.3,559.4V679.4M155.6,559.4V679.4M162.9,559.4V679.4M170.2,559.4V679.4M177.5,559.4V679.4M184.8,559.4V679.4M192.1,559.4V679.4M199.4,559.4V679.4M206.7,559.4V679.4M214.0,559.4V679.4M221.3,559.4V679.4M228.6,559.4V679.4M235.9,559.4V679.4M243.2,559.4V679.4M250.5,559.4V679.4M257.8,559.4V679.4M265.1,559.4V679.4M272.4,559.4V679.4M279.7,559.4V679.4M287.0,559.4V679.4M294.3,559.4V679.4M301.6,559.4V679.4M308.9,559.4V679.4M316.2,559.4V679.4M323.5,559.4V679.4M330.8,559.4V679.4M338.1,559.4V679.4M345.4,559.4V679.4M352.7,559.4V679.4M360.0,559.4V679.4M367.3,559.4V679.4M374.6,559.4V679.4M381.9,559.4V679.4M389.2,559.4V679.4M396.5,559.4V679.4M403.8,559.4V679.4M411.1,559.4V679.4M418.4,559.4V679.4M425.7,559.4V679.4M433.0,559.4V679.4M440.3,559.4V679.4M447.6,559.4V679.4M454.9,559.4V679.4M462.2,559.4V679.4M469.5,559.4V679.4M476.8,559.4V679.4M484.1,559.4V679.4M491.4,559.4V679.4M498.7,559.4V679.4M506.0,559.4V679.4M513.3,559.4V679.4M520.6,559.4V679.4M527.9,559.4V679.4M535.2,559.4V679.4M542.5,559.4V679.4M549.8,559.4V679.4M557.1,559.4V679.4M564.4,559.4V679.4M571.7,559.4V679.4M579.0,559.4V679.4M586.3,559.4V679.4M593.6,559.4V679.4M600.9,559.4V679.4M608.2,559.4V679.4M615.5,559.4V679.4M622.8,559.4V679.4M630.1,559.4V679.4M637.4,559.4V679.4M644.7,559.4V679.4M652.0,559.4V679.4M659.3,559.4V679.4M666.6,559.4V679.4M673.9,559.4V679.4M681.2,559.4V679.4M688.5,559.4V679.4M695.8,559.4V679.4M703.1,559.4V679.4M710.4,559.4V679.4M717.7,559.4V679.4M725.0,559.4V679.4M732.3,559.4V679.4M739.6,559.4V679.4M746.9,559.4V679.4M754.2,559.4V679.4M761.5,559.4V679.4M768.8,559.4V679.4M776.1,559.4V679.4M783.4,559.4V679.4M790.7,559.4V679.4M798.0,559.4V679.4M805.3,559.4V679.4M812.6,559.4V679.4M819.9,559.4V679.4M827.2,559.4V679.4M834.5,559.4V679.4M841.8,559.4V679.4M849.1,559.4V679.4M856.4,559.4V679.4M863.7,559.4V679.4M871.0,559.4V679.4M878.3,559.4V679.4M885.6,559.4V679.4M892.9,559.4V679.4M900.2,559.4V679.4M907.5,559.4V679.4M914.8,559.4V679.4M922.1,559.4V679.4M929.4,559.4V679.4M936.7,559.4V679.4M944.0,559.4V679.4M951.3,559.4V679.4M958.6,559.4V679.4M965.9,559.4V679.4M973.2,559.4V679.4M980.5,559.4V679.4M987.8,559.4V679.4M995.1,559.4V679.4M1002.4,559.4V679.4M1009.7,559.4V679.4M1017.0,559.4V679.4M1024.3,559.4V679.4M1031.6,559.4V679.4M1038.9,559.4V679.4M1046.2,559.4V679.4M1053.5,559.4V679.4M1060.8,559.4V679.4M1068.1,559.4V679.4M1075.4,559.4V679.4M1082.7,559.4V679.4M1090.0,559.4V679.4M1097.3,559.4V679.4M1104.6,559.4V679.4M1111.9,559.4V679.4M1119.2,559.4V679.4M1126.5,559.4V679.4M1133.8,559.4V679.4" stroke="#141f55" stroke-width="1.3" opacity="0.45" fill="none"/>
<rect x="441.2" y="561.4" width="80" height="30" fill="url(#shL)"/>
<rect x="761.2" y="561.4" width="80" height="30" fill="url(#shR)"/>
<ellipse cx="641.2" cy="512.0" rx="132.0" ry="115.4" fill="none" stroke="url(#g6)" stroke-width="6.0" clip-path="url(#cr7)"/>
<ellipse cx="641.2" cy="512.0" rx="128.5" ry="111.5" fill="none" stroke="#b21e1d" stroke-width="4.0" />
<path d="M555,642 Q641,652 727,642" fill="none" stroke="url(#g8)" stroke-width="11"/>
<rect x="637" y="620" width="14" height="24" fill="#b21e1d"/>
<rect x="621" y="625" width="18" height="9" fill="#3cb44a"/>
<rect x="629" y="629" width="10" height="6" fill="#d8d030"/>
<rect x="652" y="625" width="11" height="9" fill="#3cb44a"/>
</g>
<rect x="145.3" y="558.2" width="991.3" height="2.2" fill="#8a84bd" opacity="0.85"/>
<g clip-path="url(#ind28)">
<path d="M514.2,388.0 H768.2 V512.2 A127.0,109.2 0 0 1 514.2,512.2 Z" fill="#dddee1"/>
<path d="M514.2,388.0V512.2M522.7,388.0V512.2M531.1,388.0V512.2M539.6,388.0V512.2M548.1,388.0V512.2M556.5,388.0V512.2M565.0,388.0V512.2M573.5,388.0V561.3M581.9,388.0V561.3M590.4,388.0V561.3M598.9,388.0V561.3M607.3,388.0V561.3M615.8,388.0V561.3M624.3,388.0V561.3M632.7,388.0V561.3M641.2,388.0V561.3M649.7,388.0V561.3M658.1,388.0V561.3M666.6,388.0V561.3M675.1,388.0V561.3M683.5,388.0V561.3M692.0,388.0V561.3M700.5,388.0V561.3M708.9,388.0V561.3M717.4,388.0V512.2M725.9,388.0V512.2M734.3,388.0V512.2M742.8,388.0V512.2M751.3,388.0V512.2M759.7,388.0V512.2M768.2,388.0V512.2M514.2,512.2H768.2M514.2,503.2H768.2M514.2,494.2H768.2M514.2,485.2H768.2M514.2,476.2H768.2M514.2,467.2H768.2M514.2,458.2H768.2M514.2,449.2H768.2M514.2,440.2H768.2M514.2,431.2H768.2M514.2,422.2H768.2M514.2,413.2H768.2M514.2,404.2H768.2M514.2,395.2H768.2M572.6,521.2H709.8M572.6,530.2H709.8M572.6,539.2H709.8M572.6,548.2H709.8M572.6,557.2H709.8" stroke="#929292" stroke-width="2.2" fill="none"/>
<g clip-path="url(#ring29)"><path d="M518.0,512.2 A123.2,105.9 0 0 0 764.4,512.2M525.2,512.2 A116.0,99.8 0 0 0 757.2,512.2M532.4,512.2 A108.8,93.6 0 0 0 750.0,512.2M539.6,512.2 A101.6,87.4 0 0 0 742.8,512.2M546.8,512.2 A94.4,81.2 0 0 0 735.6,512.2M554.0,512.2 A87.2,75.0 0 0 0 728.4,512.2M561.2,512.2 A80.0,68.8 0 0 0 721.2,512.2M568.4,512.2 A72.8,62.6 0 0 0 714.0,512.2M575.6,512.2 A65.6,56.4 0 0 0 706.8,512.2M582.8,512.2 A58.4,50.2 0 0 0 699.6,512.2M641.2,512.2L774.1,521.2M641.2,512.2L772.9,530.1M641.2,512.2L770.9,539.0M641.2,512.2L768.0,547.6M641.2,512.2L764.4,556.1M641.2,512.2L760.0,564.2M641.2,512.2L754.9,572.1M641.2,512.2L749.1,579.6M641.2,512.2L742.6,586.7M641.2,512.2L735.5,593.3M641.2,512.2L727.8,599.4M641.2,512.2L719.6,605.0M641.2,512.2L710.9,610.0M641.2,512.2L701.7,614.4M641.2,512.2L692.2,618.1M641.2,512.2L682.4,621.2M641.2,512.2L672.3,623.7M641.2,512.2L662.1,625.4M641.2,512.2L651.7,626.5M641.2,512.2L641.2,626.9M641.2,512.2L630.7,626.5M641.2,512.2L620.3,625.4M641.2,512.2L610.1,623.7M641.2,512.2L600.0,621.2M641.2,512.2L590.2,618.1M641.2,512.2L580.7,614.4M641.2,512.2L571.5,610.0M641.2,512.2L562.8,605.0M641.2,512.2L554.6,599.4M641.2,512.2L546.9,593.3M641.2,512.2L539.8,586.7M641.2,512.2L533.3,579.6M641.2,512.2L527.5,572.1M641.2,512.2L522.4,564.2M641.2,512.2L518.0,556.1M641.2,512.2L514.4,547.6M641.2,512.2L511.5,539.0M641.2,512.2L509.5,530.1M641.2,512.2L508.3,521.2" stroke="#929292" stroke-width="1.9" fill="none"/></g>
</g>
<text x="1011.2" y="447.0" style="font-family:'Liberation Serif',serif;font-style:italic;font-size:68px" fill="#231815">C</text>
<g clip-path="url(#ins30)">
<path d="M0,804.3 H497 V910.0 Q248.5,949.2 0,910.0 Z" fill="#1b3688"/>
<path d="M4.0,804.3V1004.3M19.5,804.3V1004.3M35.0,804.3V1004.3M50.5,804.3V1004.3M66.0,804.3V1004.3M81.5,804.3V1004.3M97.0,804.3V1004.3M112.5,804.3V1004.3M128.0,804.3V1004.3M143.5,804.3V1004.3M159.0,804.3V1004.3M174.5,804.3V1004.3M190.0,804.3V1004.3M205.5,804.3V1004.3M221.0,804.3V1004.3M236.5,804.3V1004.3M252.0,804.3V1004.3M267.5,804.3V1004.3M283.0,804.3V1004.3M298.5,804.3V1004.3M314.0,804.3V1004.3M329.5,804.3V1004.3M345.0,804.3V1004.3M360.5,804.3V1004.3M376.0,804.3V1004.3M391.5,804.3V1004.3M407.0,804.3V1004.3M422.5,804.3V1004.3M438.0,804.3V1004.3M453.5,804.3V1004.3M469.0,804.3V1004.3M484.5,804.3V1004.3M0,814.3H497M0,826.3H497M0,838.3H497M0,850.3H497M0,862.3H497M0,874.3H497M0,886.3H497M0,898.3H497M0,910.3H497M0,922.3H497M0,934.3H497M0,946.3H497M0,958.3H497M0,970.3H497M0,982.3H497M0,994.3H497" stroke="#141f55" stroke-width="1.6" opacity="0.5" fill="none"/>
<rect x="0" y="804.3" width="497" height="8" fill="#0f1847"/>
<circle cx="249.0" cy="603.6" r="287.4" fill="none" stroke="url(#g9)" stroke-width="8.0" clip-path="url(#cr11)"/>
<rect x="0" y="914.7" width="497" height="25" fill="url(#g10)"/>
<rect x="243" y="893" width="14" height="6" fill="#2aa8e0"/>
<circle cx="249.0" cy="603.6" r="280.4" fill="none" stroke="#b21e1d" stroke-width="7.0" clip-path="url(#cr12)"/>
<circle cx="249.0" cy="603.6" r="277.4" fill="#e2e2e4"/>
<path d="M-5.9,603.6 a254.9,254.9 0 1 0 509.8,0M16.6,603.6 a232.4,232.4 0 1 0 464.8,0M39.1,603.6 a209.9,209.9 0 1 0 419.8,0M61.6,603.6 a187.4,187.4 0 1 0 374.8,0M84.1,603.6 a164.9,164.9 0 1 0 329.8,0M106.6,603.6 a142.4,142.4 0 1 0 284.8,0M129.1,603.6 a119.9,119.9 0 1 0 239.8,0M151.6,603.6 a97.4,97.4 0 1 0 194.8,0M249.0,603.6L220.5,327.7M249.0,603.6L243.0,326.3M249.0,603.6L265.5,326.7M249.0,603.6L287.8,328.9M249.0,603.6L310.0,333.0M249.0,603.6L331.7,338.8M249.0,603.6L352.9,346.4M249.0,603.6L373.4,355.6M249.0,603.6L393.1,366.5M249.0,603.6L411.8,379.0M249.0,603.6L429.5,392.9M249.0,603.6L445.9,408.2M249.0,603.6L461.1,424.8M249.0,603.6L474.9,442.6M249.0,603.6L487.2,461.4M249.0,603.6L497.9,481.2M249.0,603.6L507.0,501.8M249.0,603.6L514.4,523.0M249.0,603.6L520.1,544.8M249.0,603.6L524.0,566.9M249.0,603.6L526.0,589.3M249.0,603.6L526.3,611.8M249.0,603.6L524.7,634.3M249.0,603.6L521.3,656.5M249.0,603.6L516.1,678.4M249.0,603.6L509.2,699.8M249.0,603.6L500.5,720.6M249.0,603.6L490.2,740.6M249.0,603.6L478.3,759.7M249.0,603.6L464.9,777.7M249.0,603.6L450.1,794.6M249.0,603.6L434.0,810.3M249.0,603.6L416.6,824.6M249.0,603.6L398.2,837.5M249.0,603.6L378.7,848.8M249.0,603.6L358.4,858.5M249.0,603.6L337.4,866.5M249.0,603.6L315.8,872.8M249.0,603.6L293.8,877.4M249.0,603.6L271.5,880.1M249.0,603.6L249.0,881.0M249.0,603.6L226.5,880.1M249.0,603.6L204.2,877.4M249.0,603.6L182.2,872.8M249.0,603.6L160.6,866.5M249.0,603.6L139.6,858.5M249.0,603.6L119.3,848.8M249.0,603.6L99.8,837.5M249.0,603.6L81.4,824.6M249.0,603.6L64.0,810.3M249.0,603.6L47.9,794.6M249.0,603.6L33.1,777.7M249.0,603.6L19.7,759.7M249.0,603.6L7.8,740.6M249.0,603.6L-2.5,720.6M249.0,603.6L-11.2,699.8M249.0,603.6L-18.1,678.4M249.0,603.6L-23.3,656.5M249.0,603.6L-26.7,634.3M249.0,603.6L-28.3,611.8M249.0,603.6L-28.0,589.3M249.0,603.6L-26.0,566.9M249.0,603.6L-22.1,544.8M249.0,603.6L-16.4,523.0M249.0,603.6L-9.0,501.8M249.0,603.6L0.1,481.2M249.0,603.6L10.8,461.4M249.0,603.6L23.1,442.6M249.0,603.6L36.9,424.8M249.0,603.6L52.1,408.2M249.0,603.6L68.5,392.9M249.0,603.6L86.2,379.0M249.0,603.6L104.9,366.5M249.0,603.6L124.6,355.6M249.0,603.6L145.1,346.4M249.0,603.6L166.3,338.8M249.0,603.6L188.0,333.0M249.0,603.6L210.2,328.9M249.0,603.6L232.5,326.7M249.0,603.6L255.0,326.3M249.0,603.6L277.5,327.7" stroke="#a9a9a9" stroke-width="2" fill="none"/>
</g>
<g clip-path="url(#pl31)">
<path d="M145.3,946.4 H1137.0 V996.2 L723.4,1017.2 Q641.2,1036.8 559.0,1017.2 L145.3,996.2 Z" fill="#1f2f7a"/>
<path d="M148.3,946.4V1066.4M155.6,946.4V1066.4M162.9,946.4V1066.4M170.2,946.4V1066.4M177.5,946.4V1066.4M184.8,946.4V1066.4M192.1,946.4V1066.4M199.4,946.4V1066.4M206.7,946.4V1066.4M214.0,946.4V1066.4M221.3,946.4V1066.4M228.6,946.4V1066.4M235.9,946.4V1066.4M243.2,946.4V1066.4M250.5,946.4V1066.4M257.8,946.4V1066.4M265.1,946.4V1066.4M272.4,946.4V1066.4M279.7,946.4V1066.4M287.0,946.4V1066.4M294.3,946.4V1066.4M301.6,946.4V1066.4M308.9,946.4V1066.4M316.2,946.4V1066.4M323.5,946.4V1066.4M330.8,946.4V1066.4M338.1,946.4V1066.4M345.4,946.4V1066.4M352.7,946.4V1066.4M360.0,946.4V1066.4M367.3,946.4V1066.4M374.6,946.4V1066.4M381.9,946.4V1066.4M389.2,946.4V1066.4M396.5,946.4V1066.4M403.8,946.4V1066.4M411.1,946.4V1066.4M418.4,946.4V1066.4M425.7,946.4V1066.4M433.0,946.4V1066.4M440.3,946.4V1066.4M447.6,946.4V1066.4M454.9,946.4V1066.4M462.2,946.4V1066.4M469.5,946.4V1066.4M476.8,946.4V1066.4M484.1,946.4V1066.4M491.4,946.4V1066.4M498.7,946.4V1066.4M506.0,946.4V1066.4M513.3,946.4V1066.4M520.6,946.4V1066.4M527.9,946.4V1066.4M535.2,946.4V1066.4M542.5,946.4V1066.4M549.8,946.4V1066.4M557.1,946.4V1066.4M564.4,946.4V1066.4M571.7,946.4V1066.4M579.0,946.4V1066.4M586.3,946.4V1066.4M593.6,946.4V1066.4M600.9,946.4V1066.4M608.2,946.4V1066.4M615.5,946.4V1066.4M622.8,946.4V1066.4M630.1,946.4V1066.4M637.4,946.4V1066.4M644.7,946.4V1066.4M652.0,946.4V1066.4M659.3,946.4V1066.4M666.6,946.4V1066.4M673.9,946.4V1066.4M681.2,946.4V1066.4M688.5,946.4V1066.4M695.8,946.4V1066.4M703.1,946.4V1066.4M710.4,946.4V1066.4M717.7,946.4V1066.4M725.0,946.4V1066.4M732.3,946.4V1066.4M739.6,946.4V1066.4M746.9,946.4V1066.4M754.2,946.4V1066.4M761.5,946.4V1066.4M768.8,946.4V1066.4M776.1,946.4V1066.4M783.4,946.4V1066.4M790.7,946.4V1066.4M798.0,946.4V1066.4M805.3,946.4V1066.4M812.6,946.4V1066.4M819.9,946.4V1066.4M827.2,946.4V1066.4M834.5,946.4V1066.4M841.8,946.4V1066.4M849.1,946.4V1066.4M856.4,946.4V1066.4M863.7,946.4V1066.4M871.0,946.4V1066.4M878.3,946.4V1066.4M885.6,946.4V1066.4M892.9,946.4V1066.4M900.2,946.4V1066.4M907.5,946.4V1066.4M914.8,946.4V1066.4M922.1,946.4V1066.4M929.4,946.4V1066.4M936.7,946.4V1066.4M944.0,946.4V1066.4M951.3,946.4V1066.4M958.6,946.4V1066.4M965.9,946.4V1066.4M973.2,946.4V1066.4M980.5,946.4V1066.4M987.8,946.4V1066.4M995.1,946.4V1066.4M1002.4,946.4V1066.4M1009.7,946.4V1066.4M1017.0,946.4V1066.4M1024.3,946.4V1066.4M1031.6,946.4V1066.4M1038.9,946.4V1066.4M1046.2,946.4V1066.4M1053.5,946.4V1066.4M1060.8,946.4V1066.4M1068.1,946.4V1066.4M1075.4,946.4V1066.4M1082.7,946.4V1066.4M1090.0,946.4V1066.4M1097.3,946.4V1066.4M1104.6,946.4V1066.4M1111.9,946.4V1066.4M1119.2,946.4V1066.4M1126.5,946.4V1066.4M1133.8,946.4V1066.4" stroke="#141f55" stroke-width="1.3" opacity="0.45" fill="none"/>
<rect x="441.2" y="948.4" width="80" height="30" fill="url(#shL)"/>
<rect x="761.2" y="948.4" width="80" height="30" fill="url(#shR)"/>
<ellipse cx="641.2" cy="892.5" rx="133.0" ry="116.4" fill="none" stroke="url(#g13)" stroke-width="6.0" clip-path="url(#cr14)"/>
<ellipse cx="641.2" cy="892.5" rx="128.5" ry="111.5" fill="none" stroke="#b21e1d" stroke-width="4.0" />
<rect x="624" y="1000" width="39" height="8" fill="#b21e1d"/>
<path d="M570,1021 Q641,1034 712,1021" fill="none" stroke="url(#g15)" stroke-width="9"/>
</g>
<rect x="145.3" y="945.2" width="991.7" height="2.2" fill="#8a84bd" opacity="0.85"/>
<g clip-path="url(#ind32)">
<path d="M514.2,769.3 H768.2 V892.7 A127.0,109.2 0 0 1 514.2,892.7 Z" fill="#dddee1"/>
<path d="M514.2,769.3V892.7M522.7,769.3V892.7M531.1,769.3V892.7M539.6,769.3V892.7M548.1,769.3V892.7M556.5,769.3V892.7M565.0,769.3V892.7M573.5,769.3V941.8M581.9,769.3V941.8M590.4,769.3V941.8M598.9,769.3V941.8M607.3,769.3V941.8M615.8,769.3V941.8M624.3,769.3V941.8M632.7,769.3V941.8M641.2,769.3V941.8M649.7,769.3V941.8M658.1,769.3V941.8M666.6,769.3V941.8M675.1,769.3V941.8M683.5,769.3V941.8M692.0,769.3V941.8M700.5,769.3V941.8M708.9,769.3V941.8M717.4,769.3V892.7M725.9,769.3V892.7M734.3,769.3V892.7M742.8,769.3V892.7M751.3,769.3V892.7M759.7,769.3V892.7M768.2,769.3V892.7M514.2,892.7H768.2M514.2,883.7H768.2M514.2,874.7H768.2M514.2,865.7H768.2M514.2,856.7H768.2M514.2,847.7H768.2M514.2,838.7H768.2M514.2,829.7H768.2M514.2,820.7H768.2M514.2,811.7H768.2M514.2,802.7H768.2M514.2,793.7H768.2M514.2,784.7H768.2M514.2,775.7H768.2M572.6,901.7H709.8M572.6,910.7H709.8M572.6,919.7H709.8M572.6,928.7H709.8M572.6,937.7H709.8" stroke="#929292" stroke-width="2.2" fill="none"/>
<g clip-path="url(#ring33)"><path d="M518.0,892.7 A123.2,105.9 0 0 0 764.4,892.7M525.2,892.7 A116.0,99.8 0 0 0 757.2,892.7M532.4,892.7 A108.8,93.6 0 0 0 750.0,892.7M539.6,892.7 A101.6,87.4 0 0 0 742.8,892.7M546.8,892.7 A94.4,81.2 0 0 0 735.6,892.7M554.0,892.7 A87.2,75.0 0 0 0 728.4,892.7M561.2,892.7 A80.0,68.8 0 0 0 721.2,892.7M568.4,892.7 A72.8,62.6 0 0 0 714.0,892.7M575.6,892.7 A65.6,56.4 0 0 0 706.8,892.7M582.8,892.7 A58.4,50.2 0 0 0 699.6,892.7M641.2,892.7L774.1,901.7M641.2,892.7L772.9,910.6M641.2,892.7L770.9,919.5M641.2,892.7L768.0,928.1M641.2,892.7L764.4,936.6M641.2,892.7L760.0,944.7M641.2,892.7L754.9,952.6M641.2,892.7L749.1,960.1M641.2,892.7L742.6,967.2M641.2,892.7L735.5,973.8M641.2,892.7L727.8,979.9M641.2,892.7L719.6,985.5M641.2,892.7L710.9,990.5M641.2,892.7L701.7,994.9M641.2,892.7L692.2,998.6M641.2,892.7L682.4,1001.7M641.2,892.7L672.3,1004.2M641.2,892.7L662.1,1005.9M641.2,892.7L651.7,1007.0M641.2,892.7L641.2,1007.4M641.2,892.7L630.7,1007.0M641.2,892.7L620.3,1005.9M641.2,892.7L610.1,1004.2M641.2,892.7L600.0,1001.7M641.2,892.7L590.2,998.6M641.2,892.7L580.7,994.9M641.2,892.7L571.5,990.5M641.2,892.7L562.8,985.5M641.2,892.7L554.6,979.9M641.2,892.7L546.9,973.8M641.2,892.7L539.8,967.2M641.2,892.7L533.3,960.1M641.2,892.7L527.5,952.6M641.2,892.7L522.4,944.7M641.2,892.7L518.0,936.6M641.2,892.7L514.4,928.1M641.2,892.7L511.5,919.5M641.2,892.7L509.5,910.6M641.2,892.7L508.3,901.7" stroke="#929292" stroke-width="1.9" fill="none"/></g>
</g>
<text x="1012.4" y="833.0" style="font-family:'Liberation Serif',serif;font-style:italic;font-size:68px" fill="#231815">B</text>
<g clip-path="url(#ins34)">
<path d="M0,1202.8 H497 V1317.6 H0 Z" fill="#1b3688"/>
<path d="M4.0,1202.8V1402.8M19.5,1202.8V1402.8M35.0,1202.8V1402.8M50.5,1202.8V1402.8M66.0,1202.8V1402.8M81.5,1202.8V1402.8M97.0,1202.8V1402.8M112.5,1202.8V1402.8M128.0,1202.8V1402.8M143.5,1202.8V1402.8M159.0,1202.8V1402.8M174.5,1202.8V1402.8M190.0,1202.8V1402.8M205.5,1202.8V1402.8M221.0,1202.8V1402.8M236.5,1202.8V1402.8M252.0,1202.8V1402.8M267.5,1202.8V1402.8M283.0,1202.8V1402.8M298.5,1202.8V1402.8M314.0,1202.8V1402.8M329.5,1202.8V1402.8M345.0,1202.8V1402.8M360.5,1202.8V1402.8M376.0,1202.8V1402.8M391.5,1202.8V1402.8M407.0,1202.8V1402.8M422.5,1202.8V1402.8M438.0,1202.8V1402.8M453.5,1202.8V1402.8M469.0,1202.8V1402.8M484.5,1202.8V1402.8M0,1212.8H497M0,1224.8H497M0,1236.8H497M0,1248.8H497M0,1260.8H497M0,1272.8H497M0,1284.8H497M0,1296.8H497M0,1308.8H497M0,1320.8H497M0,1332.8H497M0,1344.8H497M0,1356.8H497M0,1368.8H497M0,1380.8H497M0,1392.8H497" stroke="#141f55" stroke-width="1.6" opacity="0.5" fill="none"/>
<rect x="0" y="1202.8" width="497" height="8" fill="#0f1847"/>
<path d="M0.0,1202.0 L32.0,1202.0 L59.0,1223.0 L0.0,1223.0 Z" fill="#0f1847" />
<path d="M497.0,1202.0 L465.0,1202.0 L438.0,1223.0 L497.0,1223.0 Z" fill="#0f1847" />
<rect x="109" y="1259" width="275" height="13" fill="url(#g16)"/>
<rect x="182" y="1278" width="133" height="9" fill="url(#g17)"/>
<circle cx="249.5" cy="898.3" r="377.8" fill="none" stroke="#b21e1d" stroke-width="8.0" clip-path="url(#cr18)"/>
<path d="M60.0,1222.0 L92.0,1222.0 L92.0,1240.0 L60.0,1232.0 Z" fill="#b21e1d" />
<path d="M437.0,1222.0 L405.0,1222.0 L405.0,1240.0 L437.0,1232.0 Z" fill="#b21e1d" />
<circle cx="249.5" cy="898.3" r="373.8" fill="#e2e2e4"/>
<path d="M-101.8,898.3 a351.3,351.3 0 1 0 702.6,0M-79.3,898.3 a328.8,328.8 0 1 0 657.6,0M-56.8,898.3 a306.3,306.3 0 1 0 612.6,0M-34.3,898.3 a283.8,283.8 0 1 0 567.6,0M-11.8,898.3 a261.3,261.3 0 1 0 522.6,0M10.7,898.3 a238.8,238.8 0 1 0 477.6,0M33.2,898.3 a216.3,216.3 0 1 0 432.6,0M55.7,898.3 a193.8,193.8 0 1 0 387.6,0M249.5,898.3L499.9,620.7M249.5,898.3L516.1,636.3M249.5,898.3L531.4,652.8M249.5,898.3L545.6,670.2M249.5,898.3L558.8,688.4M249.5,898.3L570.9,707.4M249.5,898.3L581.8,727.1M249.5,898.3L591.5,747.4M249.5,898.3L599.9,768.2M249.5,898.3L607.1,789.6M249.5,898.3L613.0,811.3M249.5,898.3L617.6,833.3M249.5,898.3L620.8,855.6M249.5,898.3L622.7,878.0M249.5,898.3L623.3,900.5M249.5,898.3L622.5,922.9M249.5,898.3L620.3,945.3M249.5,898.3L616.8,967.6M249.5,898.3L612.0,989.5M249.5,898.3L605.9,1011.2M249.5,898.3L598.4,1032.4M249.5,898.3L589.7,1053.2M249.5,898.3L579.8,1073.3M249.5,898.3L568.7,1092.9M249.5,898.3L556.4,1111.7M249.5,898.3L543.0,1129.8M249.5,898.3L528.5,1147.0M249.5,898.3L513.1,1163.4M249.5,898.3L496.6,1178.8M249.5,898.3L479.3,1193.1M249.5,898.3L461.2,1206.4M249.5,898.3L442.2,1218.6M249.5,898.3L422.6,1229.6M249.5,898.3L402.4,1239.4M249.5,898.3L381.6,1248.0M249.5,898.3L360.3,1255.3M249.5,898.3L338.6,1261.3M249.5,898.3L316.6,1266.0M249.5,898.3L294.4,1269.4M249.5,898.3L272.0,1271.4M249.5,898.3L249.5,1272.1M249.5,898.3L227.0,1271.4M249.5,898.3L204.6,1269.4M249.5,898.3L182.4,1266.0M249.5,898.3L160.4,1261.3M249.5,898.3L138.7,1255.3M249.5,898.3L117.4,1248.0M249.5,898.3L96.6,1239.4M249.5,898.3L76.4,1229.6M249.5,898.3L56.8,1218.6M249.5,898.3L37.8,1206.4M249.5,898.3L19.7,1193.1M249.5,898.3L2.4,1178.8M249.5,898.3L-14.1,1163.4M249.5,898.3L-29.5,1147.0M249.5,898.3L-44.0,1129.8M249.5,898.3L-57.4,1111.7M249.5,898.3L-69.7,1092.9M249.5,898.3L-80.8,1073.3M249.5,898.3L-90.7,1053.2M249.5,898.3L-99.4,1032.4M249.5,898.3L-106.9,1011.2M249.5,898.3L-113.0,989.5M249.5,898.3L-117.8,967.6M249.5,898.3L-121.3,945.3M249.5,898.3L-123.5,922.9M249.5,898.3L-124.3,900.5M249.5,898.3L-123.7,878.0M249.5,898.3L-121.8,855.6M249.5,898.3L-118.6,833.3M249.5,898.3L-114.0,811.3M249.5,898.3L-108.1,789.6M249.5,898.3L-100.9,768.2M249.5,898.3L-92.5,747.4M249.5,898.3L-82.8,727.1M249.5,898.3L-71.9,707.4M249.5,898.3L-59.8,688.4M249.5,898.3L-46.6,670.2M249.5,898.3L-32.4,652.8M249.5,898.3L-17.1,636.3M249.5,898.3L-0.9,620.7" stroke="#a9a9a9" stroke-width="2" fill="none"/>
</g>
<g clip-path="url(#pl35)">
<path d="M148.0,1340.0 H1138.0 V1389.7 L746.7,1400.5 Q641.2,1423.5 535.7,1400.5 L148.0,1389.7 Z" fill="#1f2f7a"/>
<path d="M151.0,1340.0V1460.0M158.3,1340.0V1460.0M165.6,1340.0V1460.0M172.9,1340.0V1460.0M180.2,1340.0V1460.0M187.5,1340.0V1460.0M194.8,1340.0V1460.0M202.1,1340.0V1460.0M209.4,1340.0V1460.0M216.7,1340.0V1460.0M224.0,1340.0V1460.0M231.3,1340.0V1460.0M238.6,1340.0V1460.0M245.9,1340.0V1460.0M253.2,1340.0V1460.0M260.5,1340.0V1460.0M267.8,1340.0V1460.0M275.1,1340.0V1460.0M282.4,1340.0V1460.0M289.7,1340.0V1460.0M297.0,1340.0V1460.0M304.3,1340.0V1460.0M311.6,1340.0V1460.0M318.9,1340.0V1460.0M326.2,1340.0V1460.0M333.5,1340.0V1460.0M340.8,1340.0V1460.0M348.1,1340.0V1460.0M355.4,1340.0V1460.0M362.7,1340.0V1460.0M370.0,1340.0V1460.0M377.3,1340.0V1460.0M384.6,1340.0V1460.0M391.9,1340.0V1460.0M399.2,1340.0V1460.0M406.5,1340.0V1460.0M413.8,1340.0V1460.0M421.1,1340.0V1460.0M428.4,1340.0V1460.0M435.7,1340.0V1460.0M443.0,1340.0V1460.0M450.3,1340.0V1460.0M457.6,1340.0V1460.0M464.9,1340.0V1460.0M472.2,1340.0V1460.0M479.5,1340.0V1460.0M486.8,1340.0V1460.0M494.1,1340.0V1460.0M501.4,1340.0V1460.0M508.7,1340.0V1460.0M516.0,1340.0V1460.0M523.3,1340.0V1460.0M530.6,1340.0V1460.0M537.9,1340.0V1460.0M545.2,1340.0V1460.0M552.5,1340.0V1460.0M559.8,1340.0V1460.0M567.1,1340.0V1460.0M574.4,1340.0V1460.0M581.7,1340.0V1460.0M589.0,1340.0V1460.0M596.3,1340.0V1460.0M603.6,1340.0V1460.0M610.9,1340.0V1460.0M618.2,1340.0V1460.0M625.5,1340.0V1460.0M632.8,1340.0V1460.0M640.1,1340.0V1460.0M647.4,1340.0V1460.0M654.7,1340.0V1460.0M662.0,1340.0V1460.0M669.3,1340.0V1460.0M676.6,1340.0V1460.0M683.9,1340.0V1460.0M691.2,1340.0V1460.0M698.5,1340.0V1460.0M705.8,1340.0V1460.0M713.1,1340.0V1460.0M720.4,1340.0V1460.0M727.7,1340.0V1460.0M735.0,1340.0V1460.0M742.3,1340.0V1460.0M749.6,1340.0V1460.0M756.9,1340.0V1460.0M764.2,1340.0V1460.0M771.5,1340.0V1460.0M778.8,1340.0V1460.0M786.1,1340.0V1460.0M793.4,1340.0V1460.0M800.7,1340.0V1460.0M808.0,1340.0V1460.0M815.3,1340.0V1460.0M822.6,1340.0V1460.0M829.9,1340.0V1460.0M837.2,1340.0V1460.0M844.5,1340.0V1460.0M851.8,1340.0V1460.0M859.1,1340.0V1460.0M866.4,1340.0V1460.0M873.7,1340.0V1460.0M881.0,1340.0V1460.0M888.3,1340.0V1460.0M895.6,1340.0V1460.0M902.9,1340.0V1460.0M910.2,1340.0V1460.0M917.5,1340.0V1460.0M924.8,1340.0V1460.0M932.1,1340.0V1460.0M939.4,1340.0V1460.0M946.7,1340.0V1460.0M954.0,1340.0V1460.0M961.3,1340.0V1460.0M968.6,1340.0V1460.0M975.9,1340.0V1460.0M983.2,1340.0V1460.0M990.5,1340.0V1460.0M997.8,1340.0V1460.0M1005.1,1340.0V1460.0M1012.4,1340.0V1460.0M1019.7,1340.0V1460.0M1027.0,1340.0V1460.0M1034.3,1340.0V1460.0M1041.6,1340.0V1460.0M1048.9,1340.0V1460.0M1056.2,1340.0V1460.0M1063.5,1340.0V1460.0M1070.8,1340.0V1460.0M1078.1,1340.0V1460.0M1085.4,1340.0V1460.0M1092.7,1340.0V1460.0M1100.0,1340.0V1460.0M1107.3,1340.0V1460.0M1114.6,1340.0V1460.0M1121.9,1340.0V1460.0M1129.2,1340.0V1460.0M1136.5,1340.0V1460.0" stroke="#141f55" stroke-width="1.3" opacity="0.45" fill="none"/>
<rect x="441.2" y="1342.0" width="80" height="30" fill="url(#shL)"/>
<rect x="761.2" y="1342.0" width="80" height="30" fill="url(#shR)"/>
<ellipse cx="641.2" cy="1267.9" rx="132.0" ry="115.0" fill="none" stroke="url(#g19)" stroke-width="5.0" clip-path="url(#cr20)"/>
<ellipse cx="641.2" cy="1267.9" rx="128.5" ry="111.5" fill="none" stroke="#b21e1d" stroke-width="4.0" clip-path="url(#cr21)"/>
<rect x="632" y="1376" width="23" height="7" fill="#b21e1d"/>
</g>
<rect x="148.0" y="1338.8" width="990.0" height="2.2" fill="#8a84bd" opacity="0.85"/>
<g clip-path="url(#ind36)">
<path d="M514.2,1146.6 H768.2 V1268.1 A127.0,109.2 0 0 1 514.2,1268.1 Z" fill="#dddee1"/>
<path d="M514.2,1146.6V1268.1M522.7,1146.6V1268.1M531.1,1146.6V1268.1M539.6,1146.6V1268.1M548.1,1146.6V1268.1M556.5,1146.6V1268.1M565.0,1146.6V1268.1M573.5,1146.6V1317.2M581.9,1146.6V1317.2M590.4,1146.6V1317.2M598.9,1146.6V1317.2M607.3,1146.6V1317.2M615.8,1146.6V1317.2M624.3,1146.6V1317.2M632.7,1146.6V1317.2M641.2,1146.6V1317.2M649.7,1146.6V1317.2M658.1,1146.6V1317.2M666.6,1146.6V1317.2M675.1,1146.6V1317.2M683.5,1146.6V1317.2M692.0,1146.6V1317.2M700.5,1146.6V1317.2M708.9,1146.6V1317.2M717.4,1146.6V1268.1M725.9,1146.6V1268.1M734.3,1146.6V1268.1M742.8,1146.6V1268.1M751.3,1146.6V1268.1M759.7,1146.6V1268.1M768.2,1146.6V1268.1M514.2,1268.1H768.2M514.2,1259.1H768.2M514.2,1250.1H768.2M514.2,1241.1H768.2M514.2,1232.1H768.2M514.2,1223.1H768.2M514.2,1214.1H768.2M514.2,1205.1H768.2M514.2,1196.1H768.2M514.2,1187.1H768.2M514.2,1178.1H768.2M514.2,1169.1H768.2M514.2,1160.1H768.2M514.2,1151.1H768.2M572.6,1277.1H709.8M572.6,1286.1H709.8M572.6,1295.1H709.8M572.6,1304.1H709.8M572.6,1313.1H709.8" stroke="#929292" stroke-width="2.2" fill="none"/>
<g clip-path="url(#ring37)"><path d="M518.0,1268.1 A123.2,105.9 0 0 0 764.4,1268.1M525.2,1268.1 A116.0,99.8 0 0 0 757.2,1268.1M532.4,1268.1 A108.8,93.6 0 0 0 750.0,1268.1M539.6,1268.1 A101.6,87.4 0 0 0 742.8,1268.1M546.8,1268.1 A94.4,81.2 0 0 0 735.6,1268.1M554.0,1268.1 A87.2,75.0 0 0 0 728.4,1268.1M561.2,1268.1 A80.0,68.8 0 0 0 721.2,1268.1M568.4,1268.1 A72.8,62.6 0 0 0 714.0,1268.1M575.6,1268.1 A65.6,56.4 0 0 0 706.8,1268.1M582.8,1268.1 A58.4,50.2 0 0 0 699.6,1268.1M641.2,1268.1L774.1,1277.1M641.2,1268.1L772.9,1286.0M641.2,1268.1L770.9,1294.9M641.2,1268.1L768.0,1303.5M641.2,1268.1L764.4,1312.0M641.2,1268.1L760.0,1320.1M641.2,1268.1L754.9,1328.0M641.2,1268.1L749.1,1335.5M641.2,1268.1L742.6,1342.6M641.2,1268.1L735.5,1349.2M641.2,1268.1L727.8,1355.3M641.2,1268.1L719.6,1360.9M641.2,1268.1L710.9,1365.9M641.2,1268.1L701.7,1370.3M641.2,1268.1L692.2,1374.0M641.2,1268.1L682.4,1377.1M641.2,1268.1L672.3,1379.6M641.2,1268.1L662.1,1381.3M641.2,1268.1L651.7,1382.4M641.2,1268.1L641.2,1382.8M641.2,1268.1L630.7,1382.4M641.2,1268.1L620.3,1381.3M641.2,1268.1L610.1,1379.6M641.2,1268.1L600.0,1377.1M641.2,1268.1L590.2,1374.0M641.2,1268.1L580.7,1370.3M641.2,1268.1L571.5,1365.9M641.2,1268.1L562.8,1360.9M641.2,1268.1L554.6,1355.3M641.2,1268.1L546.9,1349.2M641.2,1268.1L539.8,1342.6M641.2,1268.1L533.3,1335.5M641.2,1268.1L527.5,1328.0M641.2,1268.1L522.4,1320.1M641.2,1268.1L518.0,1312.0M641.2,1268.1L514.4,1303.5M641.2,1268.1L511.5,1294.9M641.2,1268.1L509.5,1286.0M641.2,1268.1L508.3,1277.1" stroke="#929292" stroke-width="1.9" fill="none"/></g>
</g>
<text x="1011.7" y="1218.6" style="font-family:'Liberation Serif',serif;font-style:italic;font-size:68px" fill="#231815">A</text>
<g clip-path="url(#rp38)">
<path d="M2784.0,69.0 L3775.0,69.0 L3775.0,123.0 L3566.0,142.0 L3514.0,160.0 L3466.0,189.0 L3419.0,222.0 L3371.0,250.0 L3323.0,274.0 L3279.5,277.0 L3236.0,274.0 L3188.0,250.0 L3140.0,222.0 L3093.0,189.0 L3045.0,160.0 L2993.0,142.0 L2784.0,123.0 Z" fill="#1f2f7a"/>
<path d="M2787.0,69.0V369.0M2794.5,69.0V369.0M2802.0,69.0V369.0M2809.5,69.0V369.0M2817.0,69.0V369.0M2824.5,69.0V369.0M2832.0,69.0V369.0M2839.5,69.0V369.0M2847.0,69.0V369.0M2854.5,69.0V369.0M2862.0,69.0V369.0M2869.5,69.0V369.0M2877.0,69.0V369.0M2884.5,69.0V369.0M2892.0,69.0V369.0M2899.5,69.0V369.0M2907.0,69.0V369.0M2914.5,69.0V369.0M2922.0,69.0V369.0M2929.5,69.0V369.0M2937.0,69.0V369.0M2944.5,69.0V369.0M2952.0,69.0V369.0M2959.5,69.0V369.0M2967.0,69.0V369.0M2974.5,69.0V369.0M2982.0,69.0V369.0M2989.5,69.0V369.0M2997.0,69.0V369.0M3004.5,69.0V369.0M3012.0,69.0V369.0M3019.5,69.0V369.0M3027.0,69.0V369.0M3034.5,69.0V369.0M3042.0,69.0V369.0M3049.5,69.0V369.0M3057.0,69.0V369.0M3064.5,69.0V369.0M3072.0,69.0V369.0M3079.5,69.0V369.0M3087.0,69.0V369.0M3094.5,69.0V369.0M3102.0,69.0V369.0M3109.5,69.0V369.0M3117.0,69.0V369.0M3124.5,69.0V369.0M3132.0,69.0V369.0M3139.5,69.0V369.0M3147.0,69.0V369.0M3154.5,69.0V369.0M3162.0,69.0V369.0M3169.5,69.0V369.0M3177.0,69.0V369.0M3184.5,69.0V369.0M3192.0,69.0V369.0M3199.5,69.0V369.0M3207.0,69.0V369.0M3214.5,69.0V369.0M3222.0,69.0V369.0M3229.5,69.0V369.0M3237.0,69.0V369.0M3244.5,69.0V369.0M3252.0,69.0V369.0M3259.5,69.0V369.0M3267.0,69.0V369.0M3274.5,69.0V369.0M3282.0,69.0V369.0M3289.5,69.0V369.0M3297.0,69.0V369.0M3304.5,69.0V369.0M3312.0,69.0V369.0M3319.5,69.0V369.0M3327.0,69.0V369.0M3334.5,69.0V369.0M3342.0,69.0V369.0M3349.5,69.0V369.0M3357.0,69.0V369.0M3364.5,69.0V369.0M3372.0,69.0V369.0M3379.5,69.0V369.0M3387.0,69.0V369.0M3394.5,69.0V369.0M3402.0,69.0V369.0M3409.5,69.0V369.0M3417.0,69.0V369.0M3424.5,69.0V369.0M3432.0,69.0V369.0M3439.5,69.0V369.0M3447.0,69.0V369.0M3454.5,69.0V369.0M3462.0,69.0V369.0M3469.5,69.0V369.0M3477.0,69.0V369.0M3484.5,69.0V369.0M3492.0,69.0V369.0M3499.5,69.0V369.0M3507.0,69.0V369.0M3514.5,69.0V369.0M3522.0,69.0V369.0M3529.5,69.0V369.0M3537.0,69.0V369.0M3544.5,69.0V369.0M3552.0,69.0V369.0M3559.5,69.0V369.0M3567.0,69.0V369.0M3574.5,69.0V369.0M3582.0,69.0V369.0M3589.5,69.0V369.0M3597.0,69.0V369.0M3604.5,69.0V369.0M3612.0,69.0V369.0M3619.5,69.0V369.0M3627.0,69.0V369.0M3634.5,69.0V369.0M3642.0,69.0V369.0M3649.5,69.0V369.0M3657.0,69.0V369.0M3664.5,69.0V369.0M3672.0,69.0V369.0M3679.5,69.0V369.0M3687.0,69.0V369.0M3694.5,69.0V369.0M3702.0,69.0V369.0M3709.5,69.0V369.0M3717.0,69.0V369.0M3724.5,69.0V369.0M3732.0,69.0V369.0M3739.5,69.0V369.0M3747.0,69.0V369.0M3754.5,69.0V369.0M3762.0,69.0V369.0M3769.5,69.0V369.0" stroke="#141f55" stroke-width="1.2" opacity="0.35" fill="none"/>
<rect x="2784.0" y="69.0" width="991.0" height="4" fill="#0f1847" opacity="0.35"/>
<path d="M2784.0,69.0 L3775.0,69.0 L3775.0,123.0 L3566.0,142.0 L3514.0,160.0 L3466.0,189.0 L3419.0,222.0 L3371.0,250.0 L3323.0,274.0 L3279.5,277.0 L3236.0,274.0 L3188.0,250.0 L3140.0,222.0 L3093.0,189.0 L3045.0,160.0 L2993.0,142.0 L2784.0,123.0 Z" fill="url(#bluemesh)"/>
<path d="M2993.0,142.0 L3012.0,134.0 L3036.0,128.0 L3069.0,136.0 L3105.0,150.0 L3140.0,170.0 L3157.0,184.0 L3279.5,194.0 L3279.5,1500.0 L2953.0,1500.0 L2953.0,145.0 Z" fill="#a61d1e"/>
<path d="M3566.0,142.0 L3547.0,134.0 L3523.0,128.0 L3490.0,136.0 L3454.0,150.0 L3419.0,170.0 L3402.0,184.0 L3279.5,194.0 L3279.5,1500.0 L3606.0,1500.0 L3606.0,145.0 Z" fill="#a61d1e"/>
<path d="M3122.0,178.0 L3150.0,192.0 L3168.0,214.0 L3182.0,240.0 L3170.0,244.0 L3148.0,220.0 L3118.0,192.0 Z" fill="#e06a1e" opacity="0.5"/>
<path d="M3437.0,178.0 L3409.0,192.0 L3391.0,214.0 L3377.0,240.0 L3389.0,244.0 L3411.0,220.0 L3441.0,192.0 Z" fill="#e06a1e" opacity="0.5"/>
<path d="M3130.0,195.0 L3152.0,205.0 L3165.0,225.0 L3152.0,222.0 Z" fill="#d8d030" opacity="0.35"/>
<path d="M3429.0,195.0 L3407.0,205.0 L3394.0,225.0 L3407.0,222.0 Z" fill="#d8d030" opacity="0.35"/>
<polyline points="3078.6,113.6 3102.4,119.5 3128.6,133.8 3152.4,152.9" fill="none" stroke="#a61d1e" stroke-width="10.0" stroke-linecap="round"/>
<polyline points="3480.4,113.6 3456.6,119.5 3430.4,133.8 3406.6,152.9" fill="none" stroke="#a61d1e" stroke-width="10.0" stroke-linecap="round"/>
<polyline points="3102.4,107.6 3121.4,114.3 3140.5,126.2 3152.4,135.7" fill="none" stroke="#a61d1e" stroke-width="7.0" stroke-linecap="round"/>
<polyline points="3456.6,107.6 3437.6,114.3 3418.5,126.2 3406.6,135.7" fill="none" stroke="#a61d1e" stroke-width="7.0" stroke-linecap="round"/>
<polyline points="3121.4,102.9 3138.1,108.8 3151.2,120.7" fill="none" stroke="#a61d1e" stroke-width="6.0" stroke-linecap="round"/>
<polyline points="3437.6,102.9 3420.9,108.8 3407.8,120.7" fill="none" stroke="#a61d1e" stroke-width="6.0" stroke-linecap="round"/>
<path d="M2993.0,142.0 L3012.0,134.0 L3036.0,128.0 L3069.0,136.0 L3105.0,150.0 L3140.0,170.0 L3157.0,184.0 L3279.5,194.0 L3279.5,1500.0 L2953.0,1500.0 L2953.0,145.0 Z" fill="url(#redmesh)"/>
<path d="M3566.0,142.0 L3547.0,134.0 L3523.0,128.0 L3490.0,136.0 L3454.0,150.0 L3419.0,170.0 L3402.0,184.0 L3279.5,194.0 L3279.5,1500.0 L3606.0,1500.0 L3606.0,145.0 Z" fill="url(#redmesh)"/>
</g>
<rect x="2784.0" y="67.8" width="991.0" height="2.2" fill="#8a84bd" opacity="0.85"/>
<g clip-path="url(#ind39)">
<path d="M3152.0,2.0 H3406.0 V137.9 A127.0,118.1 0 0 1 3152.0,137.9 Z" fill="#dddee1"/>
<path d="M3152.0,2.0V137.9M3160.5,2.0V137.9M3168.9,2.0V137.9M3177.4,2.0V137.9M3185.9,2.0V137.9M3194.3,2.0V137.9M3202.8,2.0V137.9M3211.3,2.0V191.0M3219.7,2.0V191.0M3228.2,2.0V191.0M3236.7,2.0V191.0M3245.1,2.0V191.0M3253.6,2.0V191.0M3262.1,2.0V191.0M3270.5,2.0V191.0M3279.0,2.0V191.0M3287.5,2.0V191.0M3295.9,2.0V191.0M3304.4,2.0V191.0M3312.9,2.0V191.0M3321.3,2.0V191.0M3329.8,2.0V191.0M3338.3,2.0V191.0M3346.7,2.0V191.0M3355.2,2.0V137.9M3363.7,2.0V137.9M3372.1,2.0V137.9M3380.6,2.0V137.9M3389.1,2.0V137.9M3397.5,2.0V137.9M3406.0,2.0V137.9M3152.0,137.9H3406.0M3152.0,128.9H3406.0M3152.0,119.9H3406.0M3152.0,110.9H3406.0M3152.0,101.9H3406.0M3152.0,92.9H3406.0M3152.0,83.9H3406.0M3152.0,74.9H3406.0M3152.0,65.9H3406.0M3152.0,56.9H3406.0M3152.0,47.9H3406.0M3152.0,38.9H3406.0M3152.0,29.9H3406.0M3152.0,20.9H3406.0M3152.0,11.9H3406.0M3152.0,2.9H3406.0M3210.4,146.9H3347.6M3210.4,155.9H3347.6M3210.4,164.9H3347.6M3210.4,173.9H3347.6M3210.4,182.9H3347.6" stroke="#929292" stroke-width="2.2" fill="none"/>
<g clip-path="url(#ring40)"><path d="M3155.8,137.9 A123.2,114.6 0 0 0 3402.2,137.9M3163.0,137.9 A116.0,107.9 0 0 0 3395.0,137.9M3170.2,137.9 A108.8,101.2 0 0 0 3387.8,137.9M3177.4,137.9 A101.6,94.5 0 0 0 3380.6,137.9M3184.6,137.9 A94.4,87.8 0 0 0 3373.4,137.9M3191.8,137.9 A87.2,81.1 0 0 0 3366.2,137.9M3199.0,137.9 A80.0,74.4 0 0 0 3359.0,137.9M3206.2,137.9 A72.8,67.7 0 0 0 3351.8,137.9M3213.4,137.9 A65.6,61.0 0 0 0 3344.6,137.9M3220.6,137.9 A58.4,54.3 0 0 0 3337.4,137.9M3279.0,137.9L3411.9,147.6M3279.0,137.9L3410.7,157.3M3279.0,137.9L3408.7,166.8M3279.0,137.9L3405.8,176.2M3279.0,137.9L3402.2,185.3M3279.0,137.9L3397.8,194.2M3279.0,137.9L3392.7,202.7M3279.0,137.9L3386.9,210.8M3279.0,137.9L3380.4,218.4M3279.0,137.9L3373.3,225.6M3279.0,137.9L3365.6,232.2M3279.0,137.9L3357.4,238.2M3279.0,137.9L3348.7,243.6M3279.0,137.9L3339.5,248.4M3279.0,137.9L3330.0,252.5M3279.0,137.9L3320.2,255.8M3279.0,137.9L3310.1,258.5M3279.0,137.9L3299.9,260.4M3279.0,137.9L3289.5,261.5M3279.0,137.9L3279.0,261.9M3279.0,137.9L3268.5,261.5M3279.0,137.9L3258.1,260.4M3279.0,137.9L3247.9,258.5M3279.0,137.9L3237.8,255.8M3279.0,137.9L3228.0,252.5M3279.0,137.9L3218.5,248.4M3279.0,137.9L3209.3,243.6M3279.0,137.9L3200.6,238.2M3279.0,137.9L3192.4,232.2M3279.0,137.9L3184.7,225.6M3279.0,137.9L3177.6,218.4M3279.0,137.9L3171.1,210.8M3279.0,137.9L3165.3,202.7M3279.0,137.9L3160.2,194.2M3279.0,137.9L3155.8,185.3M3279.0,137.9L3152.2,176.2M3279.0,137.9L3149.3,166.8M3279.0,137.9L3147.3,157.3M3279.0,137.9L3146.1,147.6" stroke="#929292" stroke-width="1.9" fill="none"/></g>
</g>
<text x="3608.4" y="196.7" style="font-family:'Liberation Serif',serif;font-style:italic;font-size:68px" fill="#231815">E</text>
<g clip-path="url(#rp41)">
<path d="M2783.0,401.0 L3772.0,401.0 L3772.0,456.0 L3609.0,470.8 L3574.0,474.8 L3528.2,492.3 L3487.8,513.9 L3447.5,546.2 L3415.1,573.1 L3388.2,600.0 L3353.2,621.6 L3326.3,636.4 L3279.5,637.0 L3232.7,636.4 L3205.8,621.6 L3170.8,600.0 L3143.9,573.1 L3111.5,546.2 L3071.2,513.9 L3030.8,492.3 L2985.0,474.8 L2950.0,470.8 L2783.0,456.0 Z" fill="#1f2f7a"/>
<path d="M2786.0,401.0V701.0M2793.5,401.0V701.0M2801.0,401.0V701.0M2808.5,401.0V701.0M2816.0,401.0V701.0M2823.5,401.0V701.0M2831.0,401.0V701.0M2838.5,401.0V701.0M2846.0,401.0V701.0M2853.5,401.0V701.0M2861.0,401.0V701.0M2868.5,401.0V701.0M2876.0,401.0V701.0M2883.5,401.0V701.0M2891.0,401.0V701.0M2898.5,401.0V701.0M2906.0,401.0V701.0M2913.5,401.0V701.0M2921.0,401.0V701.0M2928.5,401.0V701.0M2936.0,401.0V701.0M2943.5,401.0V701.0M2951.0,401.0V701.0M2958.5,401.0V701.0M2966.0,401.0V701.0M2973.5,401.0V701.0M2981.0,401.0V701.0M2988.5,401.0V701.0M2996.0,401.0V701.0M3003.5,401.0V701.0M3011.0,401.0V701.0M3018.5,401.0V701.0M3026.0,401.0V701.0M3033.5,401.0V701.0M3041.0,401.0V701.0M3048.5,401.0V701.0M3056.0,401.0V701.0M3063.5,401.0V701.0M3071.0,401.0V701.0M3078.5,401.0V701.0M3086.0,401.0V701.0M3093.5,401.0V701.0M3101.0,401.0V701.0M3108.5,401.0V701.0M3116.0,401.0V701.0M3123.5,401.0V701.0M3131.0,401.0V701.0M3138.5,401.0V701.0M3146.0,401.0V701.0M3153.5,401.0V701.0M3161.0,401.0V701.0M3168.5,401.0V701.0M3176.0,401.0V701.0M3183.5,401.0V701.0M3191.0,401.0V701.0M3198.5,401.0V701.0M3206.0,401.0V701.0M3213.5,401.0V701.0M3221.0,401.0V701.0M3228.5,401.0V701.0M3236.0,401.0V701.0M3243.5,401.0V701.0M3251.0,401.0V701.0M3258.5,401.0V701.0M3266.0,401.0V701.0M3273.5,401.0V701.0M3281.0,401.0V701.0M3288.5,401.0V701.0M3296.0,401.0V701.0M3303.5,401.0V701.0M3311.0,401.0V701.0M3318.5,401.0V701.0M3326.0,401.0V701.0M3333.5,401.0V701.0M3341.0,401.0V701.0M3348.5,401.0V701.0M3356.0,401.0V701.0M3363.5,401.0V701.0M3371.0,401.0V701.0M3378.5,401.0V701.0M3386.0,401.0V701.0M3393.5,401.0V701.0M3401.0,401.0V701.0M3408.5,401.0V701.0M3416.0,401.0V701.0M3423.5,401.0V701.0M3431.0,401.0V701.0M3438.5,401.0V701.0M3446.0,401.0V701.0M3453.5,401.0V701.0M3461.0,401.0V701.0M3468.5,401.0V701.0M3476.0,401.0V701.0M3483.5,401.0V701.0M3491.0,401.0V701.0M3498.5,401.0V701.0M3506.0,401.0V701.0M3513.5,401.0V701.0M3521.0,401.0V701.0M3528.5,401.0V701.0M3536.0,401.0V701.0M3543.5,401.0V701.0M3551.0,401.0V701.0M3558.5,401.0V701.0M3566.0,401.0V701.0M3573.5,401.0V701.0M3581.0,401.0V701.0M3588.5,401.0V701.0M3596.0,401.0V701.0M3603.5,401.0V701.0M3611.0,401.0V701.0M3618.5,401.0V701.0M3626.0,401.0V701.0M3633.5,401.0V701.0M3641.0,401.0V701.0M3648.5,401.0V701.0M3656.0,401.0V701.0M3663.5,401.0V701.0M3671.0,401.0V701.0M3678.5,401.0V701.0M3686.0,401.0V701.0M3693.5,401.0V701.0M3701.0,401.0V701.0M3708.5,401.0V701.0M3716.0,401.0V701.0M3723.5,401.0V701.0M3731.0,401.0V701.0M3738.5,401.0V701.0M3746.0,401.0V701.0M3753.5,401.0V701.0M3761.0,401.0V701.0M3768.5,401.0V701.0" stroke="#141f55" stroke-width="1.2" opacity="0.35" fill="none"/>
<rect x="2783.0" y="401.0" width="989.0" height="4" fill="#0f1847" opacity="0.35"/>
<path d="M2783.0,401.0 L3772.0,401.0 L3772.0,456.0 L3609.0,470.8 L3574.0,474.8 L3528.2,492.3 L3487.8,513.9 L3447.5,546.2 L3415.1,573.1 L3388.2,600.0 L3353.2,621.6 L3326.3,636.4 L3279.5,637.0 L3232.7,636.4 L3205.8,621.6 L3170.8,600.0 L3143.9,573.1 L3111.5,546.2 L3071.2,513.9 L3030.8,492.3 L2985.0,474.8 L2950.0,470.8 L2783.0,456.0 Z" fill="url(#bluemesh)"/>
<path d="M2985.0,472.0 L3011.9,457.3 L3044.2,461.4 L3084.6,476.2 L3116.9,495.0 L3138.5,513.9 L3153.0,526.0 L3279.5,536.0 L3279.5,1500.0 L2945.0,1500.0 L2945.0,475.0 Z" fill="#a61d1e"/>
<path d="M3574.0,472.0 L3547.1,457.3 L3514.8,461.4 L3474.4,476.2 L3442.1,495.0 L3420.5,513.9 L3406.0,526.0 L3279.5,536.0 L3279.5,1500.0 L3614.0,1500.0 L3614.0,475.0 Z" fill="#a61d1e"/>
<path d="M3090.0,505.0 L3125.0,520.0 L3150.0,545.0 L3160.0,575.0 L3140.0,560.0 L3110.0,535.0 L3085.0,515.0 Z" fill="#e06a1e" opacity="0.45"/>
<path d="M3469.0,505.0 L3434.0,520.0 L3409.0,545.0 L3399.0,575.0 L3419.0,560.0 L3449.0,535.0 L3474.0,515.0 Z" fill="#e06a1e" opacity="0.45"/>
<path d="M3232,612 L3327,612 L3327,636 L3232,638 Z" fill="#e02a20"/>
<polyline points="3076.5,443.9 3111.5,465.4 3138.5,486.9 3149.2,503.1" fill="none" stroke="#a61d1e" stroke-width="10.0" stroke-linecap="round"/>
<polyline points="3482.5,443.9 3447.5,465.4 3420.5,486.9 3409.8,503.1" fill="none" stroke="#a61d1e" stroke-width="10.0" stroke-linecap="round"/>
<polyline points="3100.8,435.8 3125.0,446.5 3150.6,470.8" fill="none" stroke="#a61d1e" stroke-width="7.0" stroke-linecap="round"/>
<polyline points="3458.2,435.8 3434.0,446.5 3408.4,470.8" fill="none" stroke="#a61d1e" stroke-width="7.0" stroke-linecap="round"/>
<polyline points="3119.6,430.4 3138.5,438.5 3150.6,451.9" fill="none" stroke="#a61d1e" stroke-width="6.0" stroke-linecap="round"/>
<polyline points="3439.4,430.4 3420.5,438.5 3408.4,451.9" fill="none" stroke="#a61d1e" stroke-width="6.0" stroke-linecap="round"/>
<path d="M2985.0,472.0 L3011.9,457.3 L3044.2,461.4 L3084.6,476.2 L3116.9,495.0 L3138.5,513.9 L3153.0,526.0 L3279.5,536.0 L3279.5,1500.0 L2945.0,1500.0 L2945.0,475.0 Z" fill="url(#redmesh)"/>
<path d="M3574.0,472.0 L3547.1,457.3 L3514.8,461.4 L3474.4,476.2 L3442.1,495.0 L3420.5,513.9 L3406.0,526.0 L3279.5,536.0 L3279.5,1500.0 L3614.0,1500.0 L3614.0,475.0 Z" fill="url(#redmesh)"/>
</g>
<rect x="2783.0" y="399.8" width="989.0" height="2.2" fill="#8a84bd" opacity="0.85"/>
<g clip-path="url(#ind42)">
<path d="M3152.0,367.0 H3406.0 V499.9 A127.0,118.1 0 0 1 3152.0,499.9 Z" fill="#dddee1"/>
<path d="M3152.0,367.0V499.9M3160.5,367.0V499.9M3168.9,367.0V499.9M3177.4,367.0V499.9M3185.9,367.0V499.9M3194.3,367.0V499.9M3202.8,367.0V499.9M3211.3,367.0V553.0M3219.7,367.0V553.0M3228.2,367.0V553.0M3236.7,367.0V553.0M3245.1,367.0V553.0M3253.6,367.0V553.0M3262.1,367.0V553.0M3270.5,367.0V553.0M3279.0,367.0V553.0M3287.5,367.0V553.0M3295.9,367.0V553.0M3304.4,367.0V553.0M3312.9,367.0V553.0M3321.3,367.0V553.0M3329.8,367.0V553.0M3338.3,367.0V553.0M3346.7,367.0V553.0M3355.2,367.0V499.9M3363.7,367.0V499.9M3372.1,367.0V499.9M3380.6,367.0V499.9M3389.1,367.0V499.9M3397.5,367.0V499.9M3406.0,367.0V499.9M3152.0,499.9H3406.0M3152.0,490.9H3406.0M3152.0,481.9H3406.0M3152.0,472.9H3406.0M3152.0,463.9H3406.0M3152.0,454.9H3406.0M3152.0,445.9H3406.0M3152.0,436.9H3406.0M3152.0,427.9H3406.0M3152.0,418.9H3406.0M3152.0,409.9H3406.0M3152.0,400.9H3406.0M3152.0,391.9H3406.0M3152.0,382.9H3406.0M3152.0,373.9H3406.0M3210.4,508.9H3347.6M3210.4,517.9H3347.6M3210.4,526.9H3347.6M3210.4,535.9H3347.6M3210.4,544.9H3347.6" stroke="#929292" stroke-width="2.2" fill="none"/>
<g clip-path="url(#ring43)"><path d="M3155.8,499.9 A123.2,114.6 0 0 0 3402.2,499.9M3163.0,499.9 A116.0,107.9 0 0 0 3395.0,499.9M3170.2,499.9 A108.8,101.2 0 0 0 3387.8,499.9M3177.4,499.9 A101.6,94.5 0 0 0 3380.6,499.9M3184.6,499.9 A94.4,87.8 0 0 0 3373.4,499.9M3191.8,499.9 A87.2,81.1 0 0 0 3366.2,499.9M3199.0,499.9 A80.0,74.4 0 0 0 3359.0,499.9M3206.2,499.9 A72.8,67.7 0 0 0 3351.8,499.9M3213.4,499.9 A65.6,61.0 0 0 0 3344.6,499.9M3220.6,499.9 A58.4,54.3 0 0 0 3337.4,499.9M3279.0,499.9L3411.9,509.6M3279.0,499.9L3410.7,519.3M3279.0,499.9L3408.7,528.8M3279.0,499.9L3405.8,538.2M3279.0,499.9L3402.2,547.3M3279.0,499.9L3397.8,556.2M3279.0,499.9L3392.7,564.7M3279.0,499.9L3386.9,572.8M3279.0,499.9L3380.4,580.4M3279.0,499.9L3373.3,587.6M3279.0,499.9L3365.6,594.2M3279.0,499.9L3357.4,600.2M3279.0,499.9L3348.7,605.6M3279.0,499.9L3339.5,610.4M3279.0,499.9L3330.0,614.5M3279.0,499.9L3320.2,617.8M3279.0,499.9L3310.1,620.5M3279.0,499.9L3299.9,622.4M3279.0,499.9L3289.5,623.5M3279.0,499.9L3279.0,623.9M3279.0,499.9L3268.5,623.5M3279.0,499.9L3258.1,622.4M3279.0,499.9L3247.9,620.5M3279.0,499.9L3237.8,617.8M3279.0,499.9L3228.0,614.5M3279.0,499.9L3218.5,610.4M3279.0,499.9L3209.3,605.6M3279.0,499.9L3200.6,600.2M3279.0,499.9L3192.4,594.2M3279.0,499.9L3184.7,587.6M3279.0,499.9L3177.6,580.4M3279.0,499.9L3171.1,572.8M3279.0,499.9L3165.3,564.7M3279.0,499.9L3160.2,556.2M3279.0,499.9L3155.8,547.3M3279.0,499.9L3152.2,538.2M3279.0,499.9L3149.3,528.8M3279.0,499.9L3147.3,519.3M3279.0,499.9L3146.1,509.6" stroke="#929292" stroke-width="1.9" fill="none"/></g>
</g>
<path d="M3232,614 L3327,614 L3325,634 L3234,640 Z" fill="#e02a20"/>
<text x="3608.0" y="546.0" style="font-family:'Liberation Serif',serif;font-style:italic;font-size:68px" fill="#231815">F</text>
<g clip-path="url(#rp44)">
<path d="M2785.0,783.0 L3771.6,783.0 L3771.6,837.0 L3567.2,845.9 L3535.3,851.1 L3506.3,859.8 L3477.3,880.1 L3448.4,903.3 L3431.0,923.6 L3422.3,946.8 L3410.7,967.0 L3396.2,990.2 L3375.9,1013.4 L3370.1,1001.8 L3360.0,960.0 L3200.0,960.0 L3172.0,982.0 L3186.0,1002.0 L3208.0,1031.0 L3205.0,1035.1 L3181.8,1022.1 L3164.4,1001.8 L3150.0,978.6 L3135.5,949.7 L3123.9,923.6 L3109.4,906.2 L3080.4,885.9 L3051.4,865.6 L3022.4,854.0 L2987.7,845.9 L2950.0,843.9 L2785.0,837.0 Z" fill="#1f2f7a"/>
<path d="M2788.0,783.0V1083.0M2795.5,783.0V1083.0M2803.0,783.0V1083.0M2810.5,783.0V1083.0M2818.0,783.0V1083.0M2825.5,783.0V1083.0M2833.0,783.0V1083.0M2840.5,783.0V1083.0M2848.0,783.0V1083.0M2855.5,783.0V1083.0M2863.0,783.0V1083.0M2870.5,783.0V1083.0M2878.0,783.0V1083.0M2885.5,783.0V1083.0M2893.0,783.0V1083.0M2900.5,783.0V1083.0M2908.0,783.0V1083.0M2915.5,783.0V1083.0M2923.0,783.0V1083.0M2930.5,783.0V1083.0M2938.0,783.0V1083.0M2945.5,783.0V1083.0M2953.0,783.0V1083.0M2960.5,783.0V1083.0M2968.0,783.0V1083.0M2975.5,783.0V1083.0M2983.0,783.0V1083.0M2990.5,783.0V1083.0M2998.0,783.0V1083.0M3005.5,783.0V1083.0M3013.0,783.0V1083.0M3020.5,783.0V1083.0M3028.0,783.0V1083.0M3035.5,783.0V1083.0M3043.0,783.0V1083.0M3050.5,783.0V1083.0M3058.0,783.0V1083.0M3065.5,783.0V1083.0M3073.0,783.0V1083.0M3080.5,783.0V1083.0M3088.0,783.0V1083.0M3095.5,783.0V1083.0M3103.0,783.0V1083.0M3110.5,783.0V1083.0M3118.0,783.0V1083.0M3125.5,783.0V1083.0M3133.0,783.0V1083.0M3140.5,783.0V1083.0M3148.0,783.0V1083.0M3155.5,783.0V1083.0M3163.0,783.0V1083.0M3170.5,783.0V1083.0M3178.0,783.0V1083.0M3185.5,783.0V1083.0M3193.0,783.0V1083.0M3200.5,783.0V1083.0M3208.0,783.0V1083.0M3215.5,783.0V1083.0M3223.0,783.0V1083.0M3230.5,783.0V1083.0M3238.0,783.0V1083.0M3245.5,783.0V1083.0M3253.0,783.0V1083.0M3260.5,783.0V1083.0M3268.0,783.0V1083.0M3275.5,783.0V1083.0M3283.0,783.0V1083.0M3290.5,783.0V1083.0M3298.0,783.0V1083.0M3305.5,783.0V1083.0M3313.0,783.0V1083.0M3320.5,783.0V1083.0M3328.0,783.0V1083.0M3335.5,783.0V1083.0M3343.0,783.0V1083.0M3350.5,783.0V1083.0M3358.0,783.0V1083.0M3365.5,783.0V1083.0M3373.0,783.0V1083.0M3380.5,783.0V1083.0M3388.0,783.0V1083.0M3395.5,783.0V1083.0M3403.0,783.0V1083.0M3410.5,783.0V1083.0M3418.0,783.0V1083.0M3425.5,783.0V1083.0M3433.0,783.0V1083.0M3440.5,783.0V1083.0M3448.0,783.0V1083.0M3455.5,783.0V1083.0M3463.0,783.0V1083.0M3470.5,783.0V1083.0M3478.0,783.0V1083.0M3485.5,783.0V1083.0M3493.0,783.0V1083.0M3500.5,783.0V1083.0M3508.0,783.0V1083.0M3515.5,783.0V1083.0M3523.0,783.0V1083.0M3530.5,783.0V1083.0M3538.0,783.0V1083.0M3545.5,783.0V1083.0M3553.0,783.0V1083.0M3560.5,783.0V1083.0M3568.0,783.0V1083.0M3575.5,783.0V1083.0M3583.0,783.0V1083.0M3590.5,783.0V1083.0M3598.0,783.0V1083.0M3605.5,783.0V1083.0M3613.0,783.0V1083.0M3620.5,783.0V1083.0M3628.0,783.0V1083.0M3635.5,783.0V1083.0M3643.0,783.0V1083.0M3650.5,783.0V1083.0M3658.0,783.0V1083.0M3665.5,783.0V1083.0M3673.0,783.0V1083.0M3680.5,783.0V1083.0M3688.0,783.0V1083.0M3695.5,783.0V1083.0M3703.0,783.0V1083.0M3710.5,783.0V1083.0M3718.0,783.0V1083.0M3725.5,783.0V1083.0M3733.0,783.0V1083.0M3740.5,783.0V1083.0M3748.0,783.0V1083.0M3755.5,783.0V1083.0M3763.0,783.0V1083.0M3770.5,783.0V1083.0" stroke="#141f55" stroke-width="1.2" opacity="0.35" fill="none"/>
<rect x="2785.0" y="783.0" width="986.6" height="4" fill="#0f1847" opacity="0.35"/>
<path d="M2785.0,783.0 L3771.6,783.0 L3771.6,837.0 L3567.2,845.9 L3535.3,851.1 L3506.3,859.8 L3477.3,880.1 L3448.4,903.3 L3431.0,923.6 L3422.3,946.8 L3410.7,967.0 L3396.2,990.2 L3375.9,1013.4 L3370.1,1001.8 L3360.0,960.0 L3200.0,960.0 L3172.0,982.0 L3186.0,1002.0 L3208.0,1031.0 L3205.0,1035.1 L3181.8,1022.1 L3164.4,1001.8 L3150.0,978.6 L3135.5,949.7 L3123.9,923.6 L3109.4,906.2 L3080.4,885.9 L3051.4,865.6 L3022.4,854.0 L2987.7,845.9 L2950.0,843.9 L2785.0,837.0 Z" fill="url(#bluemesh)"/>
<path d="M2987.7,843.9 L3013.7,828.0 L3036.9,828.0 L3065.9,836.6 L3094.9,851.1 L3123.9,868.5 L3141.2,883.0 L3153.0,896.0 L3279.5,906.0 L3279.5,1500.0 L2947.7,1500.0 L2947.7,846.9 Z" fill="#a61d1e"/>
<path d="M3567.2,843.9 L3538.2,830.9 L3520.8,828.0 L3491.8,833.7 L3462.8,845.3 L3433.9,862.7 L3410.7,883.0 L3404.0,892.0 L3279.5,902.0 L3279.5,1500.0 L3607.2,1500.0 L3607.2,846.9 Z" fill="#a61d1e"/>
<path d="M3070.0,862.0 L3105.0,875.0 L3135.0,895.0 L3148.0,925.0 L3130.0,915.0 L3100.0,892.0 L3065.0,872.0 Z" fill="#e06a1e" opacity="0.45"/>
<path d="M3489.0,862.0 L3454.0,875.0 L3424.0,895.0 L3411.0,925.0 L3429.0,915.0 L3459.0,892.0 L3494.0,872.0 Z" fill="#e06a1e" opacity="0.45"/>
<polyline points="3077.5,819.3 3112.3,836.6 3138.4,856.9 3150.0,868.5" fill="none" stroke="#a61d1e" stroke-width="10.0" stroke-linecap="round"/>
<polyline points="3481.5,819.3 3446.7,836.6 3420.6,856.9 3409.0,868.5" fill="none" stroke="#a61d1e" stroke-width="10.0" stroke-linecap="round"/>
<polyline points="3100.7,810.6 3126.8,819.3 3150.0,836.6" fill="none" stroke="#a61d1e" stroke-width="7.0" stroke-linecap="round"/>
<polyline points="3458.3,810.6 3432.2,819.3 3409.0,836.6" fill="none" stroke="#a61d1e" stroke-width="7.0" stroke-linecap="round"/>
<polyline points="3121.0,804.8 3138.4,810.6 3151.4,825.1" fill="none" stroke="#a61d1e" stroke-width="6.0" stroke-linecap="round"/>
<polyline points="3438.0,804.8 3420.6,810.6 3407.6,825.1" fill="none" stroke="#a61d1e" stroke-width="6.0" stroke-linecap="round"/>
<path d="M2987.7,843.9 L3013.7,828.0 L3036.9,828.0 L3065.9,836.6 L3094.9,851.1 L3123.9,868.5 L3141.2,883.0 L3153.0,896.0 L3279.5,906.0 L3279.5,1500.0 L2947.7,1500.0 L2947.7,846.9 Z" fill="url(#redmesh)"/>
<path d="M3567.2,843.9 L3538.2,830.9 L3520.8,828.0 L3491.8,833.7 L3462.8,845.3 L3433.9,862.7 L3410.7,883.0 L3404.0,892.0 L3279.5,902.0 L3279.5,1500.0 L3607.2,1500.0 L3607.2,846.9 Z" fill="url(#redmesh)"/>
</g>
<rect x="2785.0" y="781.8" width="986.6" height="2.2" fill="#8a84bd" opacity="0.85"/>
<g clip-path="url(#ind45)">
<path d="M3152.0,790.3 H3406.0 V924.3 A127.0,118.1 0 0 1 3152.0,924.3 Z" fill="#dddee1"/>
<path d="M3152.0,790.3V924.3M3160.5,790.3V924.3M3168.9,790.3V924.3M3177.4,790.3V924.3M3185.9,790.3V924.3M3194.3,790.3V924.3M3202.8,790.3V924.3M3211.3,790.3V977.4M3219.7,790.3V977.4M3228.2,790.3V977.4M3236.7,790.3V977.4M3245.1,790.3V977.4M3253.6,790.3V977.4M3262.1,790.3V977.4M3270.5,790.3V977.4M3279.0,790.3V977.4M3287.5,790.3V977.4M3295.9,790.3V977.4M3304.4,790.3V977.4M3312.9,790.3V977.4M3321.3,790.3V977.4M3329.8,790.3V977.4M3338.3,790.3V977.4M3346.7,790.3V977.4M3355.2,790.3V924.3M3363.7,790.3V924.3M3372.1,790.3V924.3M3380.6,790.3V924.3M3389.1,790.3V924.3M3397.5,790.3V924.3M3406.0,790.3V924.3M3152.0,924.3H3406.0M3152.0,915.3H3406.0M3152.0,906.3H3406.0M3152.0,897.3H3406.0M3152.0,888.3H3406.0M3152.0,879.3H3406.0M3152.0,870.3H3406.0M3152.0,861.3H3406.0M3152.0,852.3H3406.0M3152.0,843.3H3406.0M3152.0,834.3H3406.0M3152.0,825.3H3406.0M3152.0,816.3H3406.0M3152.0,807.3H3406.0M3152.0,798.3H3406.0M3210.4,933.3H3347.6M3210.4,942.3H3347.6M3210.4,951.3H3347.6M3210.4,960.3H3347.6M3210.4,969.3H3347.6" stroke="#929292" stroke-width="2.2" fill="none"/>
<g clip-path="url(#ring46)"><path d="M3155.8,924.3 A123.2,114.6 0 0 0 3402.2,924.3M3163.0,924.3 A116.0,107.9 0 0 0 3395.0,924.3M3170.2,924.3 A108.8,101.2 0 0 0 3387.8,924.3M3177.4,924.3 A101.6,94.5 0 0 0 3380.6,924.3M3184.6,924.3 A94.4,87.8 0 0 0 3373.4,924.3M3191.8,924.3 A87.2,81.1 0 0 0 3366.2,924.3M3199.0,924.3 A80.0,74.4 0 0 0 3359.0,924.3M3206.2,924.3 A72.8,67.7 0 0 0 3351.8,924.3M3213.4,924.3 A65.6,61.0 0 0 0 3344.6,924.3M3220.6,924.3 A58.4,54.3 0 0 0 3337.4,924.3M3279.0,924.3L3411.9,934.0M3279.0,924.3L3410.7,943.7M3279.0,924.3L3408.7,953.2M3279.0,924.3L3405.8,962.6M3279.0,924.3L3402.2,971.7M3279.0,924.3L3397.8,980.6M3279.0,924.3L3392.7,989.1M3279.0,924.3L3386.9,997.2M3279.0,924.3L3380.4,1004.8M3279.0,924.3L3373.3,1012.0M3279.0,924.3L3365.6,1018.6M3279.0,924.3L3357.4,1024.6M3279.0,924.3L3348.7,1030.0M3279.0,924.3L3339.5,1034.8M3279.0,924.3L3330.0,1038.9M3279.0,924.3L3320.2,1042.2M3279.0,924.3L3310.1,1044.9M3279.0,924.3L3299.9,1046.8M3279.0,924.3L3289.5,1047.9M3279.0,924.3L3279.0,1048.3M3279.0,924.3L3268.5,1047.9M3279.0,924.3L3258.1,1046.8M3279.0,924.3L3247.9,1044.9M3279.0,924.3L3237.8,1042.2M3279.0,924.3L3228.0,1038.9M3279.0,924.3L3218.5,1034.8M3279.0,924.3L3209.3,1030.0M3279.0,924.3L3200.6,1024.6M3279.0,924.3L3192.4,1018.6M3279.0,924.3L3184.7,1012.0M3279.0,924.3L3177.6,1004.8M3279.0,924.3L3171.1,997.2M3279.0,924.3L3165.3,989.1M3279.0,924.3L3160.2,980.6M3279.0,924.3L3155.8,971.7M3279.0,924.3L3152.2,962.6M3279.0,924.3L3149.3,953.2M3279.0,924.3L3147.3,943.7M3279.0,924.3L3146.1,934.0" stroke="#929292" stroke-width="1.9" fill="none"/></g>
</g>
<text x="3604.5" y="911.6" style="font-family:'Liberation Serif',serif;font-style:italic;font-size:68px" fill="#231815">G</text>
<g clip-path="url(#rp47)">
<path d="M2788.0,1122.0 L3777.0,1122.0 L3777.0,1177.2 L3569.7,1182.0 L3509.7,1186.0 L3469.7,1208.0 L3437.7,1240.0 L3429.7,1268.0 L3421.7,1304.0 L3413.7,1336.0 L3407.7,1354.0 L3402.0,1345.0 L3360.0,1300.0 L3200.0,1300.0 L3180.0,1360.0 L3201.0,1396.0 L3197.9,1399.3 L3182.0,1399.3 L3159.8,1370.6 L3150.3,1377.0 L3147.1,1348.4 L3140.7,1316.6 L3134.4,1284.8 L3118.5,1253.0 L3093.0,1230.8 L3061.3,1208.5 L3029.5,1192.6 L2991.3,1183.7 L2950.0,1181.5 L2788.0,1177.2 Z" fill="#1f2f7a"/>
<path d="M2791.0,1122.0V1422.0M2798.5,1122.0V1422.0M2806.0,1122.0V1422.0M2813.5,1122.0V1422.0M2821.0,1122.0V1422.0M2828.5,1122.0V1422.0M2836.0,1122.0V1422.0M2843.5,1122.0V1422.0M2851.0,1122.0V1422.0M2858.5,1122.0V1422.0M2866.0,1122.0V1422.0M2873.5,1122.0V1422.0M2881.0,1122.0V1422.0M2888.5,1122.0V1422.0M2896.0,1122.0V1422.0M2903.5,1122.0V1422.0M2911.0,1122.0V1422.0M2918.5,1122.0V1422.0M2926.0,1122.0V1422.0M2933.5,1122.0V1422.0M2941.0,1122.0V1422.0M2948.5,1122.0V1422.0M2956.0,1122.0V1422.0M2963.5,1122.0V1422.0M2971.0,1122.0V1422.0M2978.5,1122.0V1422.0M2986.0,1122.0V1422.0M2993.5,1122.0V1422.0M3001.0,1122.0V1422.0M3008.5,1122.0V1422.0M3016.0,1122.0V1422.0M3023.5,1122.0V1422.0M3031.0,1122.0V1422.0M3038.5,1122.0V1422.0M3046.0,1122.0V1422.0M3053.5,1122.0V1422.0M3061.0,1122.0V1422.0M3068.5,1122.0V1422.0M3076.0,1122.0V1422.0M3083.5,1122.0V1422.0M3091.0,1122.0V1422.0M3098.5,1122.0V1422.0M3106.0,1122.0V1422.0M3113.5,1122.0V1422.0M3121.0,1122.0V1422.0M3128.5,1122.0V1422.0M3136.0,1122.0V1422.0M3143.5,1122.0V1422.0M3151.0,1122.0V1422.0M3158.5,1122.0V1422.0M3166.0,1122.0V1422.0M3173.5,1122.0V1422.0M3181.0,1122.0V1422.0M3188.5,1122.0V1422.0M3196.0,1122.0V1422.0M3203.5,1122.0V1422.0M3211.0,1122.0V1422.0M3218.5,1122.0V1422.0M3226.0,1122.0V1422.0M3233.5,1122.0V1422.0M3241.0,1122.0V1422.0M3248.5,1122.0V1422.0M3256.0,1122.0V1422.0M3263.5,1122.0V1422.0M3271.0,1122.0V1422.0M3278.5,1122.0V1422.0M3286.0,1122.0V1422.0M3293.5,1122.0V1422.0M3301.0,1122.0V1422.0M3308.5,1122.0V1422.0M3316.0,1122.0V1422.0M3323.5,1122.0V1422.0M3331.0,1122.0V1422.0M3338.5,1122.0V1422.0M3346.0,1122.0V1422.0M3353.5,1122.0V1422.0M3361.0,1122.0V1422.0M3368.5,1122.0V1422.0M3376.0,1122.0V1422.0M3383.5,1122.0V1422.0M3391.0,1122.0V1422.0M3398.5,1122.0V1422.0M3406.0,1122.0V1422.0M3413.5,1122.0V1422.0M3421.0,1122.0V1422.0M3428.5,1122.0V1422.0M3436.0,1122.0V1422.0M3443.5,1122.0V1422.0M3451.0,1122.0V1422.0M3458.5,1122.0V1422.0M3466.0,1122.0V1422.0M3473.5,1122.0V1422.0M3481.0,1122.0V1422.0M3488.5,1122.0V1422.0M3496.0,1122.0V1422.0M3503.5,1122.0V1422.0M3511.0,1122.0V1422.0M3518.5,1122.0V1422.0M3526.0,1122.0V1422.0M3533.5,1122.0V1422.0M3541.0,1122.0V1422.0M3548.5,1122.0V1422.0M3556.0,1122.0V1422.0M3563.5,1122.0V1422.0M3571.0,1122.0V1422.0M3578.5,1122.0V1422.0M3586.0,1122.0V1422.0M3593.5,1122.0V1422.0M3601.0,1122.0V1422.0M3608.5,1122.0V1422.0M3616.0,1122.0V1422.0M3623.5,1122.0V1422.0M3631.0,1122.0V1422.0M3638.5,1122.0V1422.0M3646.0,1122.0V1422.0M3653.5,1122.0V1422.0M3661.0,1122.0V1422.0M3668.5,1122.0V1422.0M3676.0,1122.0V1422.0M3683.5,1122.0V1422.0M3691.0,1122.0V1422.0M3698.5,1122.0V1422.0M3706.0,1122.0V1422.0M3713.5,1122.0V1422.0M3721.0,1122.0V1422.0M3728.5,1122.0V1422.0M3736.0,1122.0V1422.0M3743.5,1122.0V1422.0M3751.0,1122.0V1422.0M3758.5,1122.0V1422.0M3766.0,1122.0V1422.0M3773.5,1122.0V1422.0" stroke="#141f55" stroke-width="1.2" opacity="0.35" fill="none"/>
<rect x="2788.0" y="1122.0" width="989.0" height="4" fill="#0f1847" opacity="0.35"/>
<path d="M2788.0,1122.0 L3777.0,1122.0 L3777.0,1177.2 L3569.7,1182.0 L3509.7,1186.0 L3469.7,1208.0 L3437.7,1240.0 L3429.7,1268.0 L3421.7,1304.0 L3413.7,1336.0 L3407.7,1354.0 L3402.0,1345.0 L3360.0,1300.0 L3200.0,1300.0 L3180.0,1360.0 L3201.0,1396.0 L3197.9,1399.3 L3182.0,1399.3 L3159.8,1370.6 L3150.3,1377.0 L3147.1,1348.4 L3140.7,1316.6 L3134.4,1284.8 L3118.5,1253.0 L3093.0,1230.8 L3061.3,1208.5 L3029.5,1192.6 L2991.3,1183.7 L2950.0,1181.5 L2788.0,1177.2 Z" fill="url(#bluemesh)"/>
<path d="M2991.3,1181.5 L3016.8,1162.4 L3045.4,1164.0 L3077.1,1173.6 L3108.9,1189.5 L3134.4,1205.4 L3147.1,1218.1 L3157.0,1226.0 L3279.5,1236.0 L3279.5,1500.0 L2951.3,1500.0 L2951.3,1184.5 Z" fill="#a61d1e"/>
<path d="M3569.7,1181.5 L3542.2,1162.4 L3513.6,1164.0 L3481.9,1173.6 L3450.1,1189.5 L3424.6,1205.4 L3411.9,1218.1 L3403.0,1226.0 L3279.5,1236.0 L3279.5,1500.0 L3609.7,1500.0 L3609.7,1184.5 Z" fill="#a61d1e"/>
<path d="M3075.0,1195.0 L3108.0,1208.0 L3135.0,1228.0 L3145.0,1258.0 L3128.0,1248.0 L3100.0,1225.0 L3070.0,1205.0 Z" fill="#e06a1e" opacity="0.45"/>
<path d="M3484.0,1195.0 L3451.0,1208.0 L3424.0,1228.0 L3414.0,1258.0 L3431.0,1248.0 L3459.0,1225.0 L3489.0,1205.0 Z" fill="#e06a1e" opacity="0.45"/>
<polyline points="3083.5,1154.5 3115.3,1170.4 3140.7,1189.5 3150.3,1202.2" fill="none" stroke="#a61d1e" stroke-width="10.0" stroke-linecap="round"/>
<polyline points="3475.5,1154.5 3443.7,1170.4 3418.3,1189.5 3408.7,1202.2" fill="none" stroke="#a61d1e" stroke-width="10.0" stroke-linecap="round"/>
<polyline points="3102.6,1146.6 3131.2,1154.5 3153.4,1173.6" fill="none" stroke="#a61d1e" stroke-width="7.0" stroke-linecap="round"/>
<polyline points="3456.4,1146.6 3427.8,1154.5 3405.6,1173.6" fill="none" stroke="#a61d1e" stroke-width="7.0" stroke-linecap="round"/>
<polyline points="3121.6,1141.8 3140.7,1146.6 3155.0,1160.9" fill="none" stroke="#a61d1e" stroke-width="6.0" stroke-linecap="round"/>
<polyline points="3437.4,1141.8 3418.3,1146.6 3404.0,1160.9" fill="none" stroke="#a61d1e" stroke-width="6.0" stroke-linecap="round"/>
<path d="M2991.3,1181.5 L3016.8,1162.4 L3045.4,1164.0 L3077.1,1173.6 L3108.9,1189.5 L3134.4,1205.4 L3147.1,1218.1 L3157.0,1226.0 L3279.5,1236.0 L3279.5,1500.0 L2951.3,1500.0 L2951.3,1184.5 Z" fill="url(#redmesh)"/>
<path d="M3569.7,1181.5 L3542.2,1162.4 L3513.6,1164.0 L3481.9,1173.6 L3450.1,1189.5 L3424.6,1205.4 L3411.9,1218.1 L3403.0,1226.0 L3279.5,1236.0 L3279.5,1500.0 L3609.7,1500.0 L3609.7,1184.5 Z" fill="url(#redmesh)"/>
</g>
<rect x="2788.0" y="1120.8" width="989.0" height="2.2" fill="#8a84bd" opacity="0.85"/>
<g clip-path="url(#ind48)">
<path d="M3152.0,1162.4 H3406.0 V1295.4 A127.0,118.1 0 0 1 3152.0,1295.4 Z" fill="#dddee1"/>
<path d="M3152.0,1162.4V1295.4M3160.5,1162.4V1295.4M3168.9,1162.4V1295.4M3177.4,1162.4V1295.4M3185.9,1162.4V1295.4M3194.3,1162.4V1295.4M3202.8,1162.4V1295.4M3211.3,1162.4V1348.5M3219.7,1162.4V1348.5M3228.2,1162.4V1348.5M3236.7,1162.4V1348.5M3245.1,1162.4V1348.5M3253.6,1162.4V1348.5M3262.1,1162.4V1348.5M3270.5,1162.4V1348.5M3279.0,1162.4V1348.5M3287.5,1162.4V1348.5M3295.9,1162.4V1348.5M3304.4,1162.4V1348.5M3312.9,1162.4V1348.5M3321.3,1162.4V1348.5M3329.8,1162.4V1348.5M3338.3,1162.4V1348.5M3346.7,1162.4V1348.5M3355.2,1162.4V1295.4M3363.7,1162.4V1295.4M3372.1,1162.4V1295.4M3380.6,1162.4V1295.4M3389.1,1162.4V1295.4M3397.5,1162.4V1295.4M3406.0,1162.4V1295.4M3152.0,1295.4H3406.0M3152.0,1286.4H3406.0M3152.0,1277.4H3406.0M3152.0,1268.4H3406.0M3152.0,1259.4H3406.0M3152.0,1250.4H3406.0M3152.0,1241.4H3406.0M3152.0,1232.4H3406.0M3152.0,1223.4H3406.0M3152.0,1214.4H3406.0M3152.0,1205.4H3406.0M3152.0,1196.4H3406.0M3152.0,1187.4H3406.0M3152.0,1178.4H3406.0M3152.0,1169.4H3406.0M3210.4,1304.4H3347.6M3210.4,1313.4H3347.6M3210.4,1322.4H3347.6M3210.4,1331.4H3347.6M3210.4,1340.4H3347.6" stroke="#929292" stroke-width="2.2" fill="none"/>
<g clip-path="url(#ring49)"><path d="M3155.8,1295.4 A123.2,114.6 0 0 0 3402.2,1295.4M3163.0,1295.4 A116.0,107.9 0 0 0 3395.0,1295.4M3170.2,1295.4 A108.8,101.2 0 0 0 3387.8,1295.4M3177.4,1295.4 A101.6,94.5 0 0 0 3380.6,1295.4M3184.6,1295.4 A94.4,87.8 0 0 0 3373.4,1295.4M3191.8,1295.4 A87.2,81.1 0 0 0 3366.2,1295.4M3199.0,1295.4 A80.0,74.4 0 0 0 3359.0,1295.4M3206.2,1295.4 A72.8,67.7 0 0 0 3351.8,1295.4M3213.4,1295.4 A65.6,61.0 0 0 0 3344.6,1295.4M3220.6,1295.4 A58.4,54.3 0 0 0 3337.4,1295.4M3279.0,1295.4L3411.9,1305.1M3279.0,1295.4L3410.7,1314.8M3279.0,1295.4L3408.7,1324.3M3279.0,1295.4L3405.8,1333.7M3279.0,1295.4L3402.2,1342.8M3279.0,1295.4L3397.8,1351.7M3279.0,1295.4L3392.7,1360.2M3279.0,1295.4L3386.9,1368.3M3279.0,1295.4L3380.4,1375.9M3279.0,1295.4L3373.3,1383.1M3279.0,1295.4L3365.6,1389.7M3279.0,1295.4L3357.4,1395.7M3279.0,1295.4L3348.7,1401.1M3279.0,1295.4L3339.5,1405.9M3279.0,1295.4L3330.0,1410.0M3279.0,1295.4L3320.2,1413.3M3279.0,1295.4L3310.1,1416.0M3279.0,1295.4L3299.9,1417.9M3279.0,1295.4L3289.5,1419.0M3279.0,1295.4L3279.0,1419.4M3279.0,1295.4L3268.5,1419.0M3279.0,1295.4L3258.1,1417.9M3279.0,1295.4L3247.9,1416.0M3279.0,1295.4L3237.8,1413.3M3279.0,1295.4L3228.0,1410.0M3279.0,1295.4L3218.5,1405.9M3279.0,1295.4L3209.3,1401.1M3279.0,1295.4L3200.6,1395.7M3279.0,1295.4L3192.4,1389.7M3279.0,1295.4L3184.7,1383.1M3279.0,1295.4L3177.6,1375.9M3279.0,1295.4L3171.1,1368.3M3279.0,1295.4L3165.3,1360.2M3279.0,1295.4L3160.2,1351.7M3279.0,1295.4L3155.8,1342.8M3279.0,1295.4L3152.2,1333.7M3279.0,1295.4L3149.3,1324.3M3279.0,1295.4L3147.3,1314.8M3279.0,1295.4L3146.1,1305.1" stroke="#929292" stroke-width="1.9" fill="none"/></g>
</g>
<rect x="3156.0" y="1132.0" width="8.6" height="7.6" fill="#3cb44a"/>
<rect x="3156.0" y="1139.5" width="8.6" height="7.6" fill="#3cb44a"/>
<rect x="3156.0" y="1147.0" width="8.6" height="7.6" fill="#3cb44a"/>
<rect x="3156.0" y="1154.5" width="8.6" height="7.6" fill="#1f2f7a"/>
<rect x="3164.4" y="1132.0" width="8.6" height="7.6" fill="#1f2f7a"/>
<rect x="3164.4" y="1139.5" width="8.6" height="7.6" fill="#1f2f7a"/>
<rect x="3164.4" y="1147.0" width="8.6" height="7.6" fill="#1f2f7a"/>
<rect x="3164.4" y="1154.5" width="8.6" height="7.6" fill="#b21e1d"/>
<rect x="3172.8" y="1132.0" width="8.6" height="7.6" fill="#1f2f7a"/>
<rect x="3172.8" y="1139.5" width="8.6" height="7.6" fill="#b21e1d"/>
<rect x="3172.8" y="1147.0" width="8.6" height="7.6" fill="#b21e1d"/>
<rect x="3172.8" y="1154.5" width="8.6" height="7.6" fill="#b21e1d"/>
<rect x="3181.2" y="1132.0" width="8.6" height="7.6" fill="#d8d030"/>
<rect x="3181.2" y="1139.5" width="8.6" height="7.6" fill="#b21e1d"/>
<rect x="3181.2" y="1147.0" width="8.6" height="7.6" fill="#b21e1d"/>
<rect x="3181.2" y="1154.5" width="8.6" height="7.6" fill="#1f2f7a"/>
<rect x="3189.6" y="1132.0" width="8.6" height="7.6" fill="#1f2f7a"/>
<rect x="3189.6" y="1139.5" width="8.6" height="7.6" fill="#b21e1d"/>
<rect x="3189.6" y="1147.0" width="8.6" height="7.6" fill="#d83020"/>
<rect x="3189.6" y="1154.5" width="8.6" height="7.6" fill="#b21e1d"/>
<rect x="3198.0" y="1132.0" width="8.6" height="7.6" fill="#1f2f7a"/>
<rect x="3198.0" y="1139.5" width="8.6" height="7.6" fill="#b21e1d"/>
<rect x="3198.0" y="1147.0" width="8.6" height="7.6" fill="#1f2f7a"/>
<rect x="3198.0" y="1154.5" width="8.6" height="7.6" fill="#d83020"/>
<rect x="3206.4" y="1132.0" width="8.6" height="7.6" fill="#d83020"/>
<rect x="3206.4" y="1139.5" width="8.6" height="7.6" fill="#b21e1d"/>
<rect x="3206.4" y="1147.0" width="8.6" height="7.6" fill="#3cb44a"/>
<rect x="3206.4" y="1154.5" width="8.6" height="7.6" fill="#d83020"/>
<rect x="3214.8" y="1132.0" width="8.6" height="7.6" fill="#c8c830"/>
<rect x="3214.8" y="1139.5" width="8.6" height="7.6" fill="#b21e1d"/>
<rect x="3214.8" y="1147.0" width="8.6" height="7.6" fill="#d83020"/>
<rect x="3214.8" y="1154.5" width="8.6" height="7.6" fill="#e06a1e"/>
<rect x="3223.2" y="1132.0" width="8.6" height="7.6" fill="#d83020"/>
<rect x="3223.2" y="1139.5" width="8.6" height="7.6" fill="#b21e1d"/>
<rect x="3223.2" y="1147.0" width="8.6" height="7.6" fill="#b21e1d"/>
<rect x="3223.2" y="1154.5" width="8.6" height="7.6" fill="#b21e1d"/>
<rect x="3231.6" y="1132.0" width="8.6" height="7.6" fill="#1f2f7a"/>
<rect x="3231.6" y="1139.5" width="8.6" height="7.6" fill="#d83020"/>
<rect x="3231.6" y="1147.0" width="8.6" height="7.6" fill="#d8d030"/>
<rect x="3231.6" y="1154.5" width="8.6" height="7.6" fill="#b21e1d"/>
<rect x="3240.0" y="1132.0" width="8.6" height="7.6" fill="#b21e1d"/>
<rect x="3240.0" y="1139.5" width="8.6" height="7.6" fill="#b21e1d"/>
<rect x="3240.0" y="1147.0" width="8.6" height="7.6" fill="#b21e1d"/>
<rect x="3240.0" y="1154.5" width="8.6" height="7.6" fill="#b21e1d"/>
<rect x="3248.4" y="1132.0" width="8.6" height="7.6" fill="#b21e1d"/>
<rect x="3248.4" y="1139.5" width="8.6" height="7.6" fill="#d8d030"/>
<rect x="3248.4" y="1147.0" width="8.6" height="7.6" fill="#c8c830"/>
<rect x="3248.4" y="1154.5" width="8.6" height="7.6" fill="#b21e1d"/>
<rect x="3256.8" y="1132.0" width="8.6" height="7.6" fill="#b21e1d"/>
<rect x="3256.8" y="1139.5" width="8.6" height="7.6" fill="#d83020"/>
<rect x="3256.8" y="1147.0" width="8.6" height="7.6" fill="#e06a1e"/>
<rect x="3256.8" y="1154.5" width="8.6" height="7.6" fill="#b21e1d"/>
<rect x="3265.2" y="1132.0" width="8.6" height="7.6" fill="#1f2f7a"/>
<rect x="3265.2" y="1139.5" width="8.6" height="7.6" fill="#c8c830"/>
<rect x="3265.2" y="1147.0" width="8.6" height="7.6" fill="#b21e1d"/>
<rect x="3265.2" y="1154.5" width="8.6" height="7.6" fill="#b21e1d"/>
<rect x="3273.6" y="1132.0" width="8.6" height="7.6" fill="#d83020"/>
<rect x="3273.6" y="1139.5" width="8.6" height="7.6" fill="#b21e1d"/>
<rect x="3273.6" y="1147.0" width="8.6" height="7.6" fill="#b21e1d"/>
<rect x="3273.6" y="1154.5" width="8.6" height="7.6" fill="#3cb44a"/>
<rect x="3282.0" y="1132.0" width="8.6" height="7.6" fill="#1f2f7a"/>
<rect x="3282.0" y="1139.5" width="8.6" height="7.6" fill="#b21e1d"/>
<rect x="3282.0" y="1147.0" width="8.6" height="7.6" fill="#3cb44a"/>
<rect x="3282.0" y="1154.5" width="8.6" height="7.6" fill="#1f2f7a"/>
<rect x="3290.4" y="1132.0" width="8.6" height="7.6" fill="#b21e1d"/>
<rect x="3290.4" y="1139.5" width="8.6" height="7.6" fill="#b21e1d"/>
<rect x="3290.4" y="1147.0" width="8.6" height="7.6" fill="#c8c830"/>
<rect x="3290.4" y="1154.5" width="8.6" height="7.6" fill="#d8d030"/>
<rect x="3298.8" y="1132.0" width="8.6" height="7.6" fill="#1f2f7a"/>
<rect x="3298.8" y="1139.5" width="8.6" height="7.6" fill="#b21e1d"/>
<rect x="3298.8" y="1147.0" width="8.6" height="7.6" fill="#b21e1d"/>
<rect x="3298.8" y="1154.5" width="8.6" height="7.6" fill="#d83020"/>
<rect x="3307.2" y="1132.0" width="8.6" height="7.6" fill="#d83020"/>
<rect x="3307.2" y="1139.5" width="8.6" height="7.6" fill="#b21e1d"/>
<rect x="3307.2" y="1147.0" width="8.6" height="7.6" fill="#b21e1d"/>
<rect x="3307.2" y="1154.5" width="8.6" height="7.6" fill="#b21e1d"/>
<rect x="3315.6" y="1132.0" width="8.6" height="7.6" fill="#d8d030"/>
<rect x="3315.6" y="1139.5" width="8.6" height="7.6" fill="#b21e1d"/>
<rect x="3315.6" y="1147.0" width="8.6" height="7.6" fill="#b21e1d"/>
<rect x="3315.6" y="1154.5" width="8.6" height="7.6" fill="#b21e1d"/>
<rect x="3324.0" y="1132.0" width="8.6" height="7.6" fill="#1f2f7a"/>
<rect x="3324.0" y="1139.5" width="8.6" height="7.6" fill="#b21e1d"/>
<rect x="3324.0" y="1147.0" width="8.6" height="7.6" fill="#e06a1e"/>
<rect x="3324.0" y="1154.5" width="8.6" height="7.6" fill="#d83020"/>
<rect x="3332.4" y="1132.0" width="8.6" height="7.6" fill="#1f2f7a"/>
<rect x="3332.4" y="1139.5" width="8.6" height="7.6" fill="#b21e1d"/>
<rect x="3332.4" y="1147.0" width="8.6" height="7.6" fill="#b21e1d"/>
<rect x="3332.4" y="1154.5" width="8.6" height="7.6" fill="#d83020"/>
<rect x="3340.8" y="1132.0" width="8.6" height="7.6" fill="#b21e1d"/>
<rect x="3340.8" y="1139.5" width="8.6" height="7.6" fill="#e06a1e"/>
<rect x="3340.8" y="1147.0" width="8.6" height="7.6" fill="#3cb44a"/>
<rect x="3340.8" y="1154.5" width="8.6" height="7.6" fill="#b21e1d"/>
<rect x="3349.2" y="1132.0" width="8.6" height="7.6" fill="#1f2f7a"/>
<rect x="3349.2" y="1139.5" width="8.6" height="7.6" fill="#b21e1d"/>
<rect x="3349.2" y="1147.0" width="8.6" height="7.6" fill="#d8d030"/>
<rect x="3349.2" y="1154.5" width="8.6" height="7.6" fill="#b21e1d"/>
<rect x="3357.6" y="1132.0" width="8.6" height="7.6" fill="#1f2f7a"/>
<rect x="3357.6" y="1139.5" width="8.6" height="7.6" fill="#d83020"/>
<rect x="3357.6" y="1147.0" width="8.6" height="7.6" fill="#d83020"/>
<rect x="3357.6" y="1154.5" width="8.6" height="7.6" fill="#b21e1d"/>
<rect x="3366.0" y="1132.0" width="8.6" height="7.6" fill="#b21e1d"/>
<rect x="3366.0" y="1139.5" width="8.6" height="7.6" fill="#b21e1d"/>
<rect x="3366.0" y="1147.0" width="8.6" height="7.6" fill="#d8d030"/>
<rect x="3366.0" y="1154.5" width="8.6" height="7.6" fill="#1f2f7a"/>
<rect x="3374.4" y="1132.0" width="8.6" height="7.6" fill="#1f2f7a"/>
<rect x="3374.4" y="1139.5" width="8.6" height="7.6" fill="#b21e1d"/>
<rect x="3374.4" y="1147.0" width="8.6" height="7.6" fill="#b21e1d"/>
<rect x="3374.4" y="1154.5" width="8.6" height="7.6" fill="#b21e1d"/>
<rect x="3382.8" y="1132.0" width="8.6" height="7.6" fill="#1f2f7a"/>
<rect x="3382.8" y="1139.5" width="8.6" height="7.6" fill="#d83020"/>
<rect x="3382.8" y="1147.0" width="8.6" height="7.6" fill="#d8d030"/>
<rect x="3382.8" y="1154.5" width="8.6" height="7.6" fill="#d83020"/>
<rect x="3391.2" y="1132.0" width="8.6" height="7.6" fill="#c8c830"/>
<rect x="3391.2" y="1139.5" width="8.6" height="7.6" fill="#1f2f7a"/>
<rect x="3391.2" y="1147.0" width="8.6" height="7.6" fill="#d83020"/>
<rect x="3391.2" y="1154.5" width="8.6" height="7.6" fill="#1f2f7a"/>
<rect x="3399.6" y="1132.0" width="8.6" height="7.6" fill="#b21e1d"/>
<rect x="3399.6" y="1139.5" width="8.6" height="7.6" fill="#b21e1d"/>
<rect x="3399.6" y="1147.0" width="8.6" height="7.6" fill="#b21e1d"/>
<rect x="3399.6" y="1154.5" width="8.6" height="7.6" fill="#d83020"/>
<text x="3607.5" y="1260.5" style="font-family:'Liberation Serif',serif;font-style:italic;font-size:68px" fill="#231815">H</text>
<polyline points="1342.0,1122.0 1342.0,1117.7 1342.1,1117.7 1342.1,1113.4 1342.2,1113.4 1342.2,1109.0 1342.3,1109.0 1342.3,1104.7 1342.4,1104.7 1342.4,1100.4 1342.5,1100.4 1342.5,1096.1 1342.6,1096.1 1342.6,1091.8 1342.7,1091.8 1342.7,1087.5 1342.8,1087.5 1342.8,1083.1 1343.0,1083.1 1343.0,1078.8 1343.1,1078.8 1343.1,1074.5 1343.2,1074.5 1343.2,1070.2 1343.3,1070.2 1343.3,1065.9 1343.4,1065.9 1343.4,1061.5 1343.5,1061.5 1343.5,1057.2 1343.6,1057.2 1343.6,1052.9 1343.7,1052.9 1343.7,1049.3 1345.2,1049.3 1345.2,1045.7 1346.6,1045.7 1346.6,1042.0 1348.0,1042.0 1348.0,1038.4 1349.5,1038.4 1349.5,1034.1 1351.3,1034.1 1351.3,1029.7 1353.1,1029.7 1353.1,1025.3 1354.9,1025.3 1354.9,1021.0 1356.7,1021.0 1356.7,1024.6 1358.5,1024.6 1358.5,1028.2 1360.3,1028.2 1360.3,1031.9 1362.2,1031.9 1362.2,1035.5 1364.0,1035.5 1364.0,1039.1 1365.1,1039.1 1365.1,1042.8 1366.2,1042.8 1366.2,1046.4 1367.2,1046.4 1367.2,1050.0 1368.3,1050.0 1371.9,1050.0 1371.9,1052.9 1375.6,1052.9 1375.6,1055.8 1375.6,1052.2 1377.0,1052.2 1377.0,1048.5 1378.5,1048.5 1378.5,1044.9 1380.0,1044.9 1380.0,1041.3 1381.4,1041.3 1381.4,1037.2 1382.3,1037.2 1382.3,1033.2 1383.1,1033.2 1383.1,1029.1 1384.0,1029.1 1384.0,1025.1 1384.8,1025.1 1384.8,1021.0 1385.7,1021.0 1385.7,1017.1 1386.7,1017.1 1386.7,1013.3 1387.6,1013.3 1387.6,1009.4 1388.6,1009.4 1390.0,971.7 1394.4,971.7 1394.4,968.8 1394.4,964.4 1394.6,964.4 1394.6,960.1 1394.8,960.1 1394.8,955.8 1395.0,955.8 1395.0,951.4 1395.2,951.4 1395.2,947.0 1395.3,947.0 1395.3,942.7 1395.5,942.7 1395.5,938.4 1395.7,938.4 1395.7,934.0 1395.9,934.0 1395.9,929.7 1396.4,929.7 1396.4,925.3 1397.0,925.3 1397.0,921.0 1397.5,921.0 1397.5,916.6 1398.1,916.6 1398.1,912.3 1398.6,912.3 1398.6,908.0 1399.1,908.0 1399.1,903.6 1399.7,903.6 1399.7,899.3 1400.2,899.3 1400.2,895.2 1400.5,895.2 1400.5,891.1 1400.7,891.1 1400.7,887.0 1401.0,887.0 1401.0,882.8 1401.2,882.8 1401.2,878.7 1401.5,878.7 1401.5,874.6 1401.7,874.6 1401.7,871.0 1404.6,871.0 1404.6,867.4 1407.5,867.4 1407.5,870.8 1408.9,870.8 1408.9,874.1 1410.4,874.1 1410.4,877.5 1411.8,877.5 1414.9,877.5 1414.9,874.6 1418.0,874.6 1418.0,871.7 1418.0,867.1 1418.8,867.1 1418.8,862.6 1419.7,862.6 1419.7,858.0 1420.5,858.0 1420.5,853.6 1422.5,853.6 1422.5,849.2 1424.5,849.2 1424.5,844.8 1426.5,844.8 1426.5,840.9 1427.6,840.9 1427.6,837.1 1428.7,837.1 1428.7,833.2 1429.8,833.2 1429.8,829.3 1430.9,829.3 1430.9,825.5 1432.0,825.5 1432.0,821.6 1433.1,821.6 1433.1,817.2 1433.9,817.2 1433.9,812.8 1434.8,812.8 1434.8,808.4 1435.6,808.4 1435.6,803.9 1436.4,803.9 1436.4,799.5 1437.3,799.5 1437.3,795.1 1438.1,795.1 1438.1,791.4 1439.8,791.4 1439.8,787.7 1441.4,787.7 1441.4,783.9 1443.0,783.9 1443.0,780.2 1444.7,780.2 1444.7,776.5 1446.8,776.5 1446.8,772.8 1448.8,772.8 1448.8,769.0 1450.9,769.0 1450.9,765.3 1453.0,765.3 1453.0,761.1 1454.7,761.1 1454.7,757.0 1456.3,757.0 1456.3,752.9 1457.9,752.9 1457.9,748.7 1459.6,748.7 1459.6,744.7 1460.6,744.7 1460.6,740.8 1461.6,740.8 1461.6,736.8 1462.6,736.8 1462.6,732.9 1463.6,732.9 1463.6,728.9 1464.6,728.9 1464.6,724.8 1464.8,724.8 1464.8,720.6 1465.0,720.6 1465.0,716.5 1465.2,716.5 1465.2,712.3 1465.4,712.3 1465.4,708.2 1465.6,708.2 1465.6,704.1 1465.8,704.1 1465.8,699.9 1466.0,699.9 1466.0,695.8 1466.2,695.8 1466.2,691.5 1466.9,691.5 1466.9,687.3 1467.6,687.3 1467.6,683.0 1468.3,683.0 1468.3,678.8 1469.1,678.8 1469.1,674.5 1469.8,674.5 1469.8,670.3 1470.5,670.3 1470.5,666.0 1471.2,666.0 1471.2,662.0 1472.5,662.0 1472.5,658.0 1473.8,658.0 1473.8,654.1 1475.2,654.1 1475.2,650.1 1476.5,650.1 1476.5,646.1 1477.8,646.1 1477.8,642.1 1479.1,642.1 1479.1,638.1 1480.4,638.1 1480.4,634.2 1481.8,634.2 1481.8,630.2 1483.1,630.2 1483.1,626.2 1484.4,626.2 1484.4,622.5 1486.5,622.5 1486.5,618.8 1488.6,618.8 1488.6,615.0 1490.6,615.0 1490.6,611.3 1492.7,611.3 1496.0,611.3 1496.0,609.7 1499.3,609.7 1499.3,608.0 1502.6,608.0 1502.6,606.4 1502.6,610.5 1505.1,610.5 1505.1,614.6 1507.6,614.6 1507.6,610.3 1507.9,610.3 1507.9,606.0 1508.3,606.0 1508.3,601.7 1508.6,601.7 1508.6,597.4 1509.0,597.4 1509.0,593.1 1509.3,593.1 1509.3,589.1 1510.3,589.1 1510.3,585.1 1511.3,585.1 1511.3,581.2 1512.2,581.2 1512.2,577.2 1513.2,577.2 1513.2,573.2 1514.2,573.2 1514.2,568.8 1514.4,568.8 1514.4,564.4 1514.6,564.4 1514.6,560.0 1514.8,560.0 1514.8,555.6 1515.1,555.6 1515.1,551.2 1515.3,551.2 1515.3,546.8 1515.5,546.8 1515.5,542.4 1515.7,542.4 1515.7,538.7 1517.3,538.7 1517.3,534.9 1518.8,534.9 1518.8,531.2 1520.4,531.2 1520.4,527.4 1521.9,527.4 1521.9,523.7 1523.5,523.7 1523.5,519.4 1524.7,519.4 1524.7,515.0 1526.0,515.0 1526.0,510.7 1527.2,510.7 1527.2,506.3 1528.5,506.3 1528.5,502.0 1529.7,502.0 1532.8,502.0 1532.8,499.9 1535.9,499.9 1535.9,497.9 1539.0,497.9 1539.0,495.8 1542.2,495.8 1542.2,496.6 1545.3,496.6 1545.3,497.3 1545.3,501.2 1547.2,501.2 1547.2,505.1 1549.2,505.1 1549.2,509.0 1551.1,509.0 1551.1,512.9 1553.0,512.9 1553.0,508.5 1553.3,508.5 1553.3,504.1 1553.5,504.1 1553.5,499.7 1553.8,499.7 1553.8,495.3 1554.1,495.3 1554.1,490.9 1554.3,490.9 1554.3,486.5 1554.6,486.5 1554.6,482.8 1555.2,482.8 1555.2,479.0 1555.8,479.0 1555.8,475.3 1556.5,475.3 1556.5,471.5 1557.1,471.5 1557.1,467.8 1557.7,467.8 1557.7,464.1 1558.3,464.1 1558.3,460.4 1558.9,460.4 1558.9,456.6 1559.6,456.6 1559.6,452.9 1560.2,452.9 1560.2,449.2 1560.8,449.2 1560.8,445.0 1562.9,445.0 1562.9,440.9 1564.9,440.9 1564.9,436.7 1567.0,436.7 1570.9,436.7 1570.9,433.6 1574.8,433.6 1574.8,430.5 1574.8,434.6 1575.6,434.6 1575.6,438.8 1576.3,438.8 1576.3,442.9 1577.1,442.9 1577.1,447.1 1577.9,447.1 1577.9,451.2 1578.6,451.2 1578.6,455.4 1579.4,455.4 1579.4,451.3 1581.5,451.3 1581.5,447.1 1583.6,447.1 1583.6,443.0 1585.7,443.0 1585.7,438.8 1587.2,438.8 1587.2,434.7 1588.8,434.7 1588.8,430.5 1590.3,430.5 1590.3,427.4 1591.9,427.4 1591.9,424.3 1593.4,424.3 1593.4,421.2 1595.0,421.2 1595.0,425.1 1596.5,425.1 1596.5,428.9 1598.1,428.9 1598.1,432.8 1599.7,432.8 1599.7,436.7 1601.2,436.7 1601.2,439.9 1603.6,439.9 1603.6,443.0 1605.9,443.0 1605.9,447.1 1606.6,447.1 1606.6,451.3 1607.3,451.3 1607.3,455.4 1608.0,455.4 1608.0,459.5 1608.7,459.5 1608.7,463.7 1609.3,463.7 1609.3,467.8 1610.0,467.8 1610.0,471.9 1610.7,471.9 1610.7,476.1 1611.4,476.1 1611.4,480.2 1612.1,480.2 1612.1,475.9 1612.7,475.9 1612.7,471.6 1613.2,471.6 1613.2,467.4 1613.8,467.4 1613.8,463.1 1614.4,463.1 1614.4,458.8 1615.0,458.8 1615.0,454.6 1615.5,454.6 1615.5,450.3 1616.1,450.3 1616.1,446.0 1616.7,446.0 1616.7,449.1 1618.3,449.1 1618.3,452.3 1619.8,452.3 1619.8,455.4 1621.4,455.4 1621.4,451.0 1621.6,451.0 1621.6,446.7 1621.7,446.7 1621.7,442.3 1621.9,442.3 1621.9,438.0 1622.0,438.0 1622.0,433.6 1622.2,433.6 1622.2,429.3 1622.4,429.3 1622.4,424.9 1622.5,424.9 1622.5,420.6 1622.7,420.6 1622.7,416.2 1622.8,416.2 1622.8,411.9 1623.0,411.9 1623.0,408.8 1624.5,408.8 1624.5,405.6 1626.1,405.6 1626.1,402.5 1627.6,402.5 1630.7,402.5 1630.7,401.8 1633.8,401.8 1633.8,401.0 1633.8,404.5 1635.3,404.5 1635.3,408.0 1636.9,408.0 1636.9,411.5 1638.5,411.5 1638.5,415.0 1640.0,415.0 1640.0,418.9 1641.2,418.9 1641.2,422.8 1642.3,422.8 1642.3,426.6 1643.5,426.6 1643.5,430.5 1644.7,430.5 1644.7,434.6 1645.2,434.6 1645.2,438.8 1645.7,438.8 1645.7,442.9 1646.2,442.9 1646.2,447.1 1646.8,447.1 1646.8,451.2 1647.3,451.2 1647.3,455.4 1647.8,455.4 1647.8,451.2 1648.6,451.2 1648.6,447.1 1649.4,447.1 1649.4,442.9 1650.2,442.9 1650.2,438.8 1650.9,438.8 1650.9,434.6 1651.7,434.6 1651.7,430.5 1652.5,430.5 1652.5,426.8 1654.0,426.8 1654.0,423.1 1655.6,423.1 1655.6,419.3 1657.1,419.3 1657.1,415.6 1658.7,415.6 1658.7,411.9 1660.2,411.9 1660.2,408.3 1662.8,408.3 1662.8,404.6 1665.4,404.6 1665.4,401.0 1668.0,401.0 1668.0,404.3 1670.5,404.3 1670.5,407.6 1673.0,407.6 1677.7,407.6 1678.6,446.7 1678.6,443.0 1680.5,443.0 1680.5,439.2 1682.3,439.2 1682.3,435.5 1684.2,435.5 1684.2,438.3 1687.0,438.3 1687.0,441.1 1689.8,441.1 1689.8,445.6 1690.2,445.6 1690.2,450.2 1690.6,450.2 1690.6,454.7 1691.0,454.7 1691.0,459.2 1691.4,459.2 1691.4,463.7 1691.8,463.7 1691.8,468.3 1692.2,468.3 1692.2,472.8 1692.6,472.8 1692.6,476.5 1695.4,476.5 1695.4,472.8 1696.0,472.8 1696.0,469.0 1696.7,469.0 1696.7,465.3 1697.3,465.3 1697.3,460.9 1698.0,460.9 1698.0,456.5 1698.6,456.5 1698.6,452.1 1699.3,452.1 1699.3,447.7 1700.0,447.7 1700.0,443.3 1700.7,443.3 1700.7,438.9 1701.3,438.9 1701.3,434.5 1702.0,434.5 1702.0,430.1 1702.7,430.1 1702.7,425.7 1703.4,425.7 1703.4,421.3 1704.0,421.3 1704.0,416.9 1704.7,416.9 1708.4,416.9 1708.4,421.4 1708.6,421.4 1708.6,425.9 1708.7,425.9 1708.7,430.4 1708.9,430.4 1708.9,434.9 1709.0,434.9 1709.0,439.4 1709.2,439.4 1709.2,443.9 1709.3,443.9 1709.3,448.4 1709.5,448.4 1709.5,452.9 1709.7,452.9 1709.7,457.4 1709.8,457.4 1709.8,461.9 1710.0,461.9 1710.0,466.4 1710.1,466.4 1710.1,470.9 1710.3,470.9 1710.3,468.1 1712.2,468.1 1712.2,465.3 1714.0,465.3 1714.0,460.9 1714.3,460.9 1714.3,456.6 1714.6,456.6 1714.6,452.2 1715.0,452.2 1715.0,447.9 1715.3,447.9 1715.3,443.6 1715.6,443.6 1715.6,439.2 1715.9,439.2 1715.9,435.0 1716.8,435.0 1716.8,430.9 1717.8,430.9 1717.8,426.7 1718.7,426.7 1718.7,422.5 1719.6,422.5 1719.6,418.3 1721.0,418.3 1721.0,414.1 1722.4,414.1 1722.4,409.9 1723.8,409.9 1723.8,405.7 1725.2,405.7 1725.2,402.0 1728.0,402.0 1728.0,398.3 1730.8,398.3 1730.8,395.0 1733.2,395.0 1733.2,391.7 1735.5,391.7 1735.5,395.0 1737.8,395.0 1737.8,398.3 1740.1,398.3 1740.1,402.0 1742.4,402.0 1742.4,405.7 1744.8,405.7 1744.8,409.4 1747.1,409.4 1747.1,413.2 1749.4,413.2 1749.4,409.5 1750.2,409.5 1750.2,405.7 1750.9,405.7 1750.9,402.0 1751.7,402.0 1751.7,398.2 1752.4,398.2 1752.4,394.5 1753.2,394.5 1757.8,394.5 1757.8,391.7 1757.8,395.0 1760.2,395.0 1760.2,398.3 1762.5,398.3 1762.5,401.4 1764.0,401.4 1764.0,404.5 1765.6,404.5 1765.6,407.6 1767.1,407.6 1767.1,411.9 1768.0,411.9 1768.0,416.3 1769.0,416.3 1769.0,420.6 1769.9,420.6 1772.7,420.6 1772.7,422.5 1775.5,422.5 1775.5,424.3 1775.5,428.7 1776.7,428.7 1776.7,433.0 1778.0,433.0 1778.0,437.4 1779.2,437.4 1779.2,441.1 1779.8,441.1 1779.8,444.9 1780.5,444.9 1780.5,448.6 1781.1,448.6 1781.1,444.1 1782.2,444.1 1782.2,439.6 1783.3,439.6 1783.3,435.2 1784.5,435.2 1784.5,430.7 1785.6,430.7 1785.6,426.2 1786.7,426.2 1796.0,426.2 1796.0,429.0 1798.8,429.0 1798.8,431.8 1801.6,431.8 1801.6,435.5 1802.3,435.5 1802.3,439.2 1803.1,439.2 1803.1,443.0 1803.8,443.0 1803.8,446.7 1804.6,446.7 1804.6,450.4 1805.3,450.4 1812.8,450.4 1812.8,446.7 1815.6,446.7 1815.6,443.0 1818.4,443.0 1821.2,443.0 1821.2,443.9 1824.0,443.9 1824.0,444.8 1824.0,448.5 1825.2,448.5 1825.2,452.3 1826.5,452.3 1826.5,456.0 1827.7,456.0 1827.7,452.9 1828.9,452.9 1828.9,449.8 1830.2,449.8 1830.2,446.7 1831.4,446.7 1835.2,446.7 1835.2,442.9 1838.9,442.9 1838.9,439.2 1841.7,439.2 1841.7,436.4 1844.5,436.4 1844.5,433.7 1844.5,429.9 1848.2,429.9 1848.2,433.6 1851.0,433.6 1851.0,437.4 1853.8,437.4 1853.8,440.2 1855.7,440.2 1855.7,443.0 1857.5,443.0 1857.5,447.5 1858.2,447.5 1858.2,451.9 1859.0,451.9 1859.0,456.4 1859.7,456.4 1859.7,460.8 1860.5,460.8 1860.5,465.3 1861.2,465.3 1861.2,469.7 1861.8,469.7 1861.8,474.0 1862.5,474.0 1862.5,478.4 1863.1,478.4 1863.1,474.0 1864.3,474.0 1864.3,469.7 1865.6,469.7 1865.6,465.3 1866.8,465.3 1866.8,460.9 1867.7,460.9 1867.7,456.6 1868.7,456.6 1868.7,452.2 1869.6,452.2 1869.6,447.9 1870.5,447.9 1870.5,443.6 1871.5,443.6 1871.5,439.2 1872.4,439.2 1872.4,435.5 1874.2,435.5 1874.2,431.8 1876.1,431.8 1879.8,431.8 1879.8,430.9 1883.6,430.9 1883.6,429.9 1886.4,429.9 1886.4,427.1 1889.2,427.1 1889.2,424.3 1889.2,428.5 1891.1,428.5 1891.1,432.8 1892.9,432.8 1892.9,437.0 1894.8,437.0 1894.8,432.6 1898.6,432.6 1898.6,428.1 1902.4,428.1 1906.1,428.1 1906.1,424.8 1909.8,424.8 1909.8,421.5 1909.8,424.9 1912.3,424.9 1912.3,428.4 1914.8,428.4 1914.8,431.8 1917.3,431.8 1917.3,434.9 1918.5,434.9 1918.5,438.0 1919.8,438.0 1919.8,441.1 1921.0,441.1 1921.0,445.2 1921.7,445.2 1921.7,449.3 1922.5,449.3 1922.5,453.4 1923.2,453.4 1923.2,457.5 1924.0,457.5 1924.0,461.6 1924.7,461.6 1924.7,465.4 1926.6,465.4 1926.6,469.1 1928.4,469.1 1928.4,465.4 1929.8,465.4 1929.8,461.6 1931.2,461.6 1931.2,457.9 1932.6,457.9 1932.6,454.2 1934.0,454.2 1937.1,454.2 1937.1,453.6 1940.3,453.6 1940.3,452.9 1943.4,452.9 1943.4,452.3 1943.4,456.6 1945.2,456.6 1945.2,461.0 1947.1,461.0 1947.1,465.3 1948.9,465.3 1948.9,469.0 1951.4,469.0 1951.4,472.8 1953.9,472.8 1953.9,476.5 1956.4,476.5 1960.1,476.5 1960.1,477.4 1963.8,477.4 1963.8,478.4 1966.6,478.4 1966.6,480.2 1969.4,480.2 1969.4,482.1 1972.5,482.1 1972.5,482.7 1975.7,482.7 1975.7,483.4 1978.8,483.4 1978.8,484.0 1981.9,484.0 1981.9,485.9 1985.0,485.9 1985.0,487.7 1988.1,487.7 1988.1,489.6 1988.1,492.7 1990.6,492.7 1990.6,495.9 1993.0,495.9 1993.0,499.0 1995.5,499.0 1995.5,502.6 1997.0,502.6 1997.0,506.2 1998.6,506.2 1998.6,509.9 2000.2,509.9 2000.2,513.5 2001.7,513.5 2001.7,517.6 2003.8,517.6 2003.8,521.8 2005.9,521.8 2005.9,525.9 2008.0,525.9 2008.0,529.0 2010.1,529.0 2010.1,532.1 2012.1,532.1 2012.1,535.2 2014.2,535.2 2014.2,539.3 2016.8,539.3 2016.8,543.5 2019.3,543.5 2019.3,547.6 2021.9,547.6 2021.9,551.5 2022.7,551.5 2022.7,555.4 2023.5,555.4 2023.5,559.3 2024.2,559.3 2024.2,563.2 2025.0,563.2 2025.0,567.1 2025.8,567.1 2025.8,571.0 2026.5,571.0 2026.5,574.8 2027.3,574.8 2027.3,578.7 2028.1,578.7 2028.1,582.8 2030.2,582.8 2030.2,587.0 2032.2,587.0 2032.2,591.1 2034.3,591.1 2034.3,595.2 2036.4,595.2 2036.4,599.4 2038.5,599.4 2038.5,603.5 2040.6,603.5 2040.6,607.4 2041.8,607.4 2041.8,611.3 2042.9,611.3 2042.9,615.2 2044.0,615.2 2044.0,619.1 2045.2,619.1 2045.2,623.2 2047.3,623.2 2047.3,627.4 2049.3,627.4 2049.3,631.5 2051.4,631.5 2051.4,635.2 2052.3,635.2 2052.3,638.9 2053.3,638.9 2053.3,642.7 2054.2,642.7 2054.2,646.4 2055.2,646.4 2055.2,650.1 2056.1,650.1 2056.1,653.8 2057.0,653.8 2057.0,657.6 2057.9,657.6 2057.9,661.3 2058.9,661.3 2058.9,665.1 2059.8,665.1 2059.8,668.8 2060.7,668.8 2060.7,672.7 2062.6,672.7 2062.6,676.5 2064.6,676.5 2064.6,680.4 2066.6,680.4 2066.6,684.3 2068.5,684.3 2068.5,688.2 2070.1,688.2 2070.1,692.0 2071.6,692.0 2071.6,695.9 2073.1,695.9 2073.1,699.8 2074.7,699.8 2074.7,703.7 2075.9,703.7 2075.9,707.5 2077.1,707.5 2077.1,711.4 2078.2,711.4 2078.2,715.3 2079.4,715.3 2079.4,719.2 2080.6,719.2 2080.6,723.1 2081.7,723.1 2081.7,727.0 2082.8,727.0 2082.8,730.9 2084.0,730.9 2084.0,734.8 2085.2,734.8 2085.2,738.6 2086.3,738.6 2086.3,742.5 2087.5,742.5 2087.5,746.4 2088.7,746.4 2088.7,749.5 2090.3,749.5 2090.3,752.6 2091.8,752.6 2091.8,755.7 2093.4,755.7 2093.4,760.2 2094.1,760.2 2094.1,764.8 2094.8,764.8 2094.8,769.3 2095.5,769.3 2095.5,772.4 2098.1,772.4 2098.1,775.5 2100.7,775.5 2100.7,778.6 2103.3,778.6 2103.3,782.3 2103.9,782.3 2103.9,786.1 2104.5,786.1 2104.5,789.8 2105.2,789.8 2105.2,793.6 2105.8,793.6 2105.8,797.3 2106.4,797.3 2106.4,801.2 2107.6,801.2 2107.6,805.0 2108.8,805.0 2108.8,808.9 2109.9,808.9 2109.9,812.8 2111.1,812.8 2111.1,816.7 2112.2,816.7 2112.2,820.5 2113.4,820.5 2113.4,824.4 2114.5,824.4 2114.5,828.3 2115.7,828.3 2115.7,832.2 2117.6,832.2 2117.6,836.1 2119.6,836.1 2119.6,840.0 2121.6,840.0 2121.6,843.9 2123.5,843.9 2123.5,847.8 2124.7,847.8 2124.7,851.6 2125.8,851.6 2125.8,855.5 2126.9,855.5 2126.9,859.4 2128.1,859.4 2128.1,863.3 2129.3,863.3 2129.3,867.1 2130.4,867.1 2130.4,871.0 2131.6,871.0 2131.6,874.9 2132.8,874.9 2132.8,878.6 2133.7,878.6 2133.7,882.3 2134.7,882.3 2134.7,886.1 2135.6,886.1 2135.6,889.8 2136.6,889.8 2136.6,893.5 2137.5,893.5 2137.5,897.4 2139.4,897.4 2139.4,901.3 2141.3,901.3 2141.3,905.2 2143.3,905.2 2143.3,909.1 2145.2,909.1 2145.2,913.0 2146.4,913.0 2146.4,916.9 2147.6,916.9 2147.6,920.7 2148.7,920.7 2148.7,924.6 2149.9,924.6 2149.9,928.3 2150.8,928.3 2150.8,932.0 2151.7,932.0 2151.7,935.8 2152.7,935.8 2152.7,939.5 2153.6,939.5 2153.6,943.2 2154.5,943.2 2154.5,947.1 2156.1,947.1 2156.1,951.0 2157.6,951.0 2157.6,954.9 2159.1,954.9 2159.1,958.8 2160.7,958.8 2160.7,962.9 2162.8,962.9 2162.8,967.1 2164.9,967.1 2164.9,971.2 2167.0,971.2 2167.0,975.3 2169.1,975.3 2169.1,979.5 2171.1,979.5 2171.1,983.6 2173.2,983.6 2173.2,986.7 2175.3,986.7 2175.3,989.8 2177.3,989.8 2177.3,992.9 2179.4,992.9 2179.4,996.0 2182.0,996.0 2182.0,999.1 2184.5,999.1 2184.5,1002.2 2187.1,1002.2 2191.0,1002.2 2191.0,1005.3 2194.9,1005.3 2194.9,1008.4 2194.9,1011.5 2197.0,1011.5 2197.0,1014.7 2199.0,1014.7 2199.0,1017.8 2201.1,1017.8 2204.2,1017.8 2204.2,1017.0 2207.3,1017.0 2207.3,1016.2 2207.3,1013.1 2210.4,1013.1 2210.4,1010.0 2213.5,1010.0 2216.8,1010.0 2216.8,1011.0 2220.0,1011.0 2220.0,1012.0 2223.4,1012.0 2223.4,1013.7 2226.9,1013.7 2226.9,1015.4 2230.3,1015.4 2230.3,1017.1 2233.8,1017.1 2233.8,1015.8 2237.2,1015.8 2237.2,1014.5 2240.7,1014.5 2240.7,1013.2 2258.8,1013.2 2262.3,1013.2 2262.3,1014.5 2265.7,1014.5 2265.7,1015.8 2269.2,1015.8 2269.2,1017.1 2269.2,1021.0 2273.1,1021.0 2273.1,1024.9 2276.9,1024.9 2281.2,1024.9 2281.2,1026.6 2285.6,1026.6 2285.6,1028.4 2289.9,1028.4 2289.9,1030.1 2289.9,1033.5 2292.0,1033.5 2292.0,1037.0 2294.2,1037.0 2294.2,1040.4 2296.3,1040.4 2296.3,1043.9 2298.5,1043.9 2298.5,1047.3 2300.6,1047.3 2300.6,1050.8 2302.8,1050.8 2302.8,1054.2 2304.5,1054.2 2304.5,1057.7 2306.3,1057.7 2306.3,1061.1 2308.0,1061.1 2308.0,1064.6 2310.6,1064.6 2310.6,1068.0 2313.1,1068.0 2313.1,1071.5 2315.7,1071.5 2315.7,1074.9 2317.4,1074.9 2317.4,1078.4 2319.2,1078.4 2319.2,1081.8 2320.9,1081.8 2320.9,1085.7 2324.8,1085.7 2324.8,1089.6 2328.7,1089.6 2333.0,1089.6 2333.0,1093.0 2337.3,1093.0 2337.3,1096.5 2341.6,1096.5 2341.6,1099.9 2345.9,1099.9 2345.9,1102.5 2350.2,1102.5 2350.2,1105.1 2354.5,1105.1 2354.5,1107.7 2358.4,1107.7 2358.4,1107.0 2362.3,1107.0 2362.3,1106.4 2366.2,1106.4 2366.2,1105.8 2370.1,1105.8 2370.1,1105.1 2374.0,1105.1 2374.0,1106.4 2377.8,1106.4 2377.8,1107.7 2381.7,1107.7 2381.7,1109.0 2385.6,1109.0 2385.6,1110.3 2389.9,1110.3 2389.9,1112.0 2394.2,1112.0 2394.2,1113.7 2398.5,1113.7 2398.5,1115.4 2402.8,1115.4 2402.8,1116.7 2407.2,1116.7 2407.2,1118.0 2411.5,1118.0 2411.5,1119.3 2415.4,1119.3 2415.4,1120.0 2419.2,1120.0 2419.2,1120.6 2423.1,1120.6 2423.1,1121.2 2427.0,1121.2 2427.0,1121.9 2460.8,1122.3 2464.9,1122.3 2464.9,1121.4 2468.9,1121.4 2468.9,1120.5 2473.0,1120.5 2473.0,1119.7 2477.1,1119.7 2477.1,1118.8 2481.1,1118.8 2481.1,1117.9 2485.2,1117.9 2485.2,1117.0 2488.7,1117.0 2488.7,1114.1 2492.2,1114.1 2492.2,1111.2 2513.2,1111.2 2513.2,1114.1 2514.3,1114.1 2514.3,1117.0 2515.5,1117.0 2536.5,1117.0 2536.5,1114.1 2537.7,1114.1 2537.7,1111.2 2538.8,1111.2 2545.8,1111.2 2545.8,1114.1 2546.9,1114.1 2546.9,1117.0 2548.1,1117.0 2555.1,1117.0 2555.1,1114.1 2556.2,1114.1 2556.2,1111.2 2557.4,1111.2 2564.4,1111.2 2565.0,1106.6 2595.8,1106.6 2597.0,1112.4 2605.2,1112.4 2605.7,1106.6 2618.0,1106.6 2618.0,1108.9 2619.2,1108.9 2619.2,1111.2 2620.3,1111.2 2658.7,1111.2 2659.9,1115.9 2707.6,1115.9" fill="none" stroke="#4b4b4b" stroke-width="6.5" stroke-linejoin="miter" stroke-miterlimit="4"/>
<polyline points="1340.5,1124.0 1343.7,1124.0 1343.7,1121.0 1343.7,1116.7 1345.4,1116.7 1345.4,1112.3 1347.2,1112.3 1347.2,1108.0 1348.9,1108.0 1348.9,1103.6 1350.7,1103.6 1350.7,1099.3 1352.4,1099.3 1352.4,1095.0 1353.9,1095.0 1353.9,1090.6 1355.3,1090.6 1355.3,1086.2 1356.8,1086.2 1356.8,1081.9 1358.2,1081.9 1358.2,1077.6 1359.7,1077.6 1359.7,1073.2 1361.1,1073.2 1361.1,1068.8 1362.5,1068.8 1362.5,1064.5 1364.0,1064.5 1364.0,1060.9 1365.8,1060.9 1365.8,1057.2 1367.6,1057.2 1367.6,1053.6 1369.4,1053.6 1369.4,1050.0 1371.2,1050.0 1371.2,1046.1 1373.6,1046.1 1373.6,1042.3 1376.1,1042.3 1376.1,1038.4 1378.5,1038.4 1382.8,1038.4 1382.8,1034.1 1387.2,1034.1 1387.2,1029.7 1387.2,1025.3 1390.8,1025.3 1390.8,1021.0 1394.4,1021.0 1394.4,1017.4 1395.1,1017.4 1395.1,1013.8 1395.8,1013.8 1395.8,1010.1 1396.6,1010.1 1396.6,1006.5 1397.3,1006.5 1397.3,1002.9 1398.0,1002.9 1398.0,999.2 1398.8,999.2 1398.8,995.6 1399.5,995.6 1399.5,992.0 1400.2,992.0 1400.2,987.9 1400.6,987.9 1400.6,983.7 1401.0,983.7 1401.0,979.6 1401.4,979.6 1401.4,975.4 1401.9,975.4 1401.9,971.3 1402.3,971.3 1402.3,967.1 1402.7,967.1 1402.7,963.0 1403.1,963.0 1403.1,959.4 1404.6,959.4 1404.6,955.8 1406.0,955.8 1406.0,952.2 1407.5,952.2 1407.5,948.6 1409.0,948.6 1409.0,945.0 1410.1,945.0 1410.1,941.3 1411.2,941.3 1411.2,937.6 1412.2,937.6 1412.2,934.0 1413.3,934.0 1413.3,930.4 1414.4,930.4 1414.4,926.8 1415.4,926.8 1415.4,923.2 1416.5,923.2 1416.5,919.6 1417.6,919.6 1421.2,919.6 1421.2,918.2 1424.9,918.2 1424.9,916.7 1429.2,916.7 1429.2,913.8 1433.6,913.8 1433.6,910.9 1433.6,906.5 1437.2,906.5 1437.2,902.2 1440.8,902.2 1440.8,898.6 1441.9,898.6 1441.9,895.0 1442.9,895.0 1442.9,891.3 1444.0,891.3 1444.0,887.7 1445.1,887.7 1445.1,883.4 1447.3,883.4 1447.3,879.0 1449.5,879.0 1449.5,874.6 1449.9,874.6 1449.9,870.3 1450.2,870.3 1450.2,866.0 1450.6,866.0 1450.6,861.6 1451.0,861.6 1451.0,857.3 1451.3,857.3 1451.3,853.0 1451.6,853.0 1451.6,848.7 1451.9,848.7 1451.9,844.4 1452.1,844.4 1452.1,840.1 1452.4,840.1 1452.4,835.8 1452.7,835.8 1452.7,831.5 1453.0,831.5 1453.0,827.2 1453.7,827.2 1453.7,823.0 1454.4,823.0 1454.4,818.7 1455.1,818.7 1455.1,814.5 1455.9,814.5 1455.9,810.2 1456.6,810.2 1456.6,806.0 1457.3,806.0 1457.3,801.7 1458.0,801.7 1458.0,797.6 1458.8,797.6 1458.8,793.5 1459.7,793.5 1459.7,789.3 1460.5,789.3 1460.5,785.2 1461.3,785.2 1461.3,780.8 1462.9,780.8 1462.9,776.3 1464.6,776.3 1464.6,771.9 1466.2,771.9 1466.2,767.8 1467.5,767.8 1467.5,763.6 1468.7,763.6 1468.7,759.5 1470.0,759.5 1470.0,755.4 1471.2,755.4 1475.3,755.4 1475.3,753.7 1479.5,753.7 1479.5,752.0 1483.4,752.0 1483.4,753.1 1487.2,753.1 1487.2,754.3 1491.1,754.3 1491.1,755.4 1491.1,732.2 1491.1,727.9 1491.6,727.9 1491.6,723.7 1492.0,723.7 1492.0,719.4 1492.5,719.4 1492.5,715.2 1493.0,715.2 1493.0,710.9 1493.5,710.9 1493.5,706.7 1493.9,706.7 1493.9,702.4 1494.4,702.4 1494.4,698.1 1494.9,698.1 1494.9,693.9 1495.3,693.9 1495.3,689.6 1495.8,689.6 1495.8,685.4 1496.3,685.4 1496.3,681.1 1496.8,681.1 1496.8,676.9 1497.2,676.9 1497.2,672.6 1497.7,672.6 1501.8,672.6 1501.8,670.1 1506.0,670.1 1506.0,667.6 1509.3,667.6 1509.3,665.4 1512.6,665.4 1512.6,663.2 1515.9,663.2 1515.9,661.0 1515.9,656.9 1516.5,656.9 1516.5,652.7 1517.0,652.7 1517.0,648.6 1517.6,648.6 1517.6,644.5 1518.1,644.5 1518.1,640.3 1518.7,640.3 1518.7,636.2 1519.2,636.2 1519.2,632.1 1520.8,632.1 1520.8,627.9 1522.5,627.9 1522.5,623.8 1524.2,623.8 1524.2,619.6 1525.8,619.6 1525.8,615.2 1527.5,615.2 1527.5,610.8 1529.1,610.8 1529.1,606.4 1530.8,606.4 1530.8,602.0 1531.3,602.0 1531.3,597.6 1531.9,597.6 1531.9,593.1 1532.4,593.1 1532.4,588.7 1533.0,588.7 1533.0,584.3 1533.5,584.3 1533.5,579.9 1534.1,579.9 1534.1,575.7 1535.3,575.7 1535.3,571.5 1536.6,571.5 1536.6,567.2 1537.8,567.2 1537.8,563.0 1539.1,563.0 1539.1,559.2 1540.6,559.2 1540.6,555.5 1542.2,555.5 1542.2,551.7 1543.7,551.7 1547.3,551.7 1547.3,549.6 1551.0,549.6 1551.0,547.6 1554.6,547.6 1554.6,545.5 1554.6,541.5 1554.8,541.5 1554.8,537.5 1555.0,537.5 1555.0,533.5 1555.2,533.5 1555.2,529.5 1555.5,529.5 1555.5,525.5 1555.7,525.5 1555.7,521.5 1555.9,521.5 1555.9,517.5 1556.1,517.5 1556.1,513.5 1556.8,513.5 1556.8,509.5 1557.4,509.5 1557.4,505.5 1558.1,505.5 1558.1,501.6 1558.8,501.6 1558.8,497.6 1559.5,497.6 1559.5,493.6 1560.1,493.6 1560.1,489.6 1560.8,489.6 1560.8,485.5 1561.3,485.5 1561.3,481.3 1561.8,481.3 1561.8,477.1 1562.3,477.1 1562.3,473.0 1562.9,473.0 1562.9,468.9 1563.4,468.9 1563.4,464.7 1563.9,464.7 1563.9,460.4 1564.5,460.4 1564.5,456.0 1565.1,456.0 1565.1,451.7 1565.8,451.7 1565.8,447.3 1566.4,447.3 1566.4,443.0 1567.0,443.0 1570.9,443.0 1570.9,439.9 1574.8,439.9 1574.8,436.7 1577.9,436.7 1577.9,435.1 1581.0,435.1 1581.0,433.6 1584.1,433.6 1584.1,436.0 1587.2,436.0 1587.2,438.3 1587.2,442.1 1590.3,442.1 1590.3,446.0 1593.4,446.0 1599.6,446.0 1599.6,441.7 1600.2,441.7 1600.2,437.5 1600.8,437.5 1600.8,433.2 1601.4,433.2 1601.4,428.9 1601.9,428.9 1601.9,424.7 1602.5,424.7 1602.5,420.4 1603.1,420.4 1603.1,416.2 1603.7,416.2 1603.7,411.9 1604.3,411.9 1604.3,408.8 1605.9,408.8 1605.9,405.6 1607.4,405.6 1607.4,402.5 1609.0,402.5 1609.0,406.7 1610.5,406.7 1610.5,410.8 1612.1,410.8 1612.1,415.0 1613.6,415.0 1613.6,418.1 1615.7,418.1 1615.7,421.2 1617.7,421.2 1617.7,424.3 1619.8,424.3 1619.8,428.6 1621.0,428.6 1621.0,433.0 1622.3,433.0 1622.3,437.3 1623.5,437.3 1623.5,441.7 1624.8,441.7 1624.8,446.0 1626.0,446.0 1626.0,450.4 1627.3,450.4 1627.3,454.7 1628.5,454.7 1628.5,459.1 1629.8,459.1 1629.8,463.4 1631.0,463.4 1631.0,467.8 1632.3,467.8 1635.4,467.8 1635.4,470.1 1638.5,470.1 1638.5,472.5 1647.8,472.5 1651.7,472.5 1651.7,470.9 1655.6,470.9 1655.6,469.4 1660.0,469.4 1660.0,467.2 1663.8,467.2 1663.8,468.1 1667.5,468.1 1667.5,469.1 1671.2,469.1 1671.2,471.0 1674.9,471.0 1674.9,472.8 1674.9,469.1 1677.2,469.1 1677.2,465.3 1679.6,465.3 1679.6,461.6 1681.4,461.6 1681.4,457.9 1683.3,457.9 1683.3,454.1 1685.7,454.1 1685.7,450.4 1688.0,450.4 1708.4,450.4 1712.2,450.4 1712.2,448.5 1715.9,448.5 1715.9,446.7 1719.7,446.7 1719.7,444.9 1723.4,444.9 1723.4,443.0 1734.5,442.0 1745.7,443.0 1745.7,445.8 1747.6,445.8 1747.6,448.6 1749.4,448.6 1762.5,448.6 1762.5,445.5 1764.4,445.5 1764.4,442.3 1766.2,442.3 1766.2,439.2 1768.1,439.2 1768.1,435.5 1769.0,435.5 1769.0,431.8 1769.9,431.8 1769.9,428.0 1770.9,428.0 1770.9,424.3 1771.8,424.3 1771.8,420.0 1773.4,420.0 1773.4,415.6 1774.9,415.6 1774.9,411.3 1776.5,411.3 1781.1,411.3 1781.1,407.6 1784.2,407.6 1784.2,409.5 1787.3,409.5 1787.3,411.3 1790.4,411.3 1790.4,413.2 1793.5,413.2 1793.5,414.4 1796.6,414.4 1796.6,415.7 1799.7,415.7 1799.7,416.9 1799.7,419.7 1802.5,419.7 1802.5,422.5 1805.3,422.5 1808.1,422.5 1808.1,423.4 1810.9,423.4 1810.9,424.3 1810.9,428.0 1812.8,428.0 1812.8,431.8 1814.6,431.8 1814.6,435.5 1816.5,435.5 1816.5,431.8 1819.3,431.8 1819.3,428.1 1822.1,428.1 1822.1,424.4 1823.2,424.4 1823.2,420.6 1824.3,420.6 1824.3,416.9 1825.5,416.9 1825.5,413.1 1826.6,413.1 1826.6,409.4 1827.7,409.4 1827.7,405.7 1830.2,405.7 1830.2,402.0 1832.6,402.0 1832.6,398.3 1835.1,398.3 1838.8,398.3 1838.8,396.0 1842.6,396.0 1842.6,393.6 1845.4,393.6 1845.4,392.6 1848.2,392.6 1848.2,391.7 1848.2,395.7 1849.1,395.7 1849.1,399.6 1850.1,399.6 1850.1,403.6 1851.0,403.6 1851.0,407.6 1851.9,407.6 1851.9,411.8 1852.6,411.8 1852.6,416.0 1853.3,416.0 1853.3,420.1 1854.0,420.1 1854.0,424.3 1854.7,424.3 1854.7,428.7 1855.6,428.7 1855.6,433.0 1856.6,433.0 1856.6,437.4 1857.5,437.4 1857.5,434.3 1858.7,434.3 1858.7,431.2 1860.0,431.2 1860.0,428.1 1861.2,428.1 1861.2,424.4 1862.3,424.4 1862.3,420.6 1863.4,420.6 1863.4,416.9 1864.6,416.9 1864.6,413.1 1865.7,413.1 1865.7,409.4 1866.8,409.4 1870.5,409.4 1870.5,406.6 1874.3,406.6 1874.3,403.8 1878.0,403.8 1878.0,402.0 1881.7,402.0 1881.7,400.1 1881.7,402.9 1884.5,402.9 1884.5,405.7 1887.3,405.7 1887.3,408.8 1889.2,408.8 1889.2,411.9 1891.0,411.9 1891.0,415.0 1892.9,415.0 1892.9,419.4 1894.8,419.4 1894.8,423.7 1896.7,423.7 1896.7,428.1 1898.6,428.1 1898.6,431.8 1899.4,431.8 1899.4,435.5 1900.1,435.5 1900.1,439.3 1900.9,439.3 1900.9,443.0 1901.6,443.0 1901.6,446.7 1902.4,446.7 1902.4,450.9 1903.6,450.9 1903.6,455.1 1904.7,455.1 1904.7,459.3 1905.8,459.3 1905.8,463.5 1907.0,463.5 1910.2,463.5 1910.2,460.7 1913.5,460.7 1913.5,457.9 1913.5,454.8 1916.0,454.8 1916.0,451.7 1918.5,451.7 1918.5,448.6 1921.0,448.6 1924.1,448.6 1924.1,446.7 1927.2,446.7 1927.2,444.9 1930.3,444.9 1930.3,443.0 1930.3,439.3 1931.7,439.3 1931.7,435.6 1933.1,435.6 1933.1,431.8 1934.5,431.8 1934.5,428.1 1935.9,428.1 1935.9,423.7 1937.8,423.7 1937.8,419.4 1939.6,419.4 1939.6,415.0 1941.5,415.0 1941.5,411.3 1944.3,411.3 1944.3,407.6 1947.1,407.6 1950.8,407.6 1950.8,406.2 1954.5,406.2 1954.5,404.8 1956.8,404.8 1956.8,406.2 1959.2,406.2 1959.2,407.6 1960.1,428.1 1960.1,431.8 1962.4,431.8 1962.4,435.5 1964.8,435.5 1964.8,439.9 1965.3,439.9 1965.3,444.2 1965.7,444.2 1965.7,448.6 1966.2,448.6 1966.2,452.9 1966.7,452.9 1966.7,457.2 1967.1,457.2 1967.1,461.6 1967.6,461.6 1967.6,465.8 1968.5,465.8 1968.5,470.0 1969.4,470.0 1969.4,474.2 1970.4,474.2 1970.4,478.4 1971.3,478.4 1971.3,475.3 1972.5,475.3 1972.5,472.2 1973.8,472.2 1973.8,469.1 1975.0,469.1 1975.0,465.4 1975.4,465.4 1975.4,461.6 1975.8,461.6 1975.8,457.9 1976.1,457.9 1976.1,454.1 1976.5,454.1 1976.5,450.4 1976.9,450.4 1976.9,446.7 1979.7,446.7 1979.7,443.0 1982.5,443.0 1986.2,443.0 1986.2,440.2 1989.9,440.2 1989.9,437.4 1993.0,437.4 1993.0,436.2 1996.1,436.2 1996.1,434.9 1999.2,434.9 1999.2,433.7 2002.9,433.7 2002.9,432.8 2006.7,432.8 2006.7,431.8 2010.4,431.8 2010.4,430.9 2019.7,430.9 2019.7,435.0 2021.6,435.0 2021.6,439.2 2023.5,439.2 2023.5,443.3 2024.2,443.3 2024.2,447.4 2025.0,447.4 2025.0,451.5 2025.7,451.5 2025.7,455.6 2026.5,455.6 2026.5,459.7 2027.2,459.7 2027.2,463.6 2027.7,463.6 2027.7,467.5 2028.2,467.5 2028.2,471.5 2028.7,471.5 2028.7,475.4 2029.2,475.4 2029.2,479.3 2029.7,479.3 2029.7,483.3 2029.9,483.3 2029.9,487.3 2030.1,487.3 2030.1,491.3 2030.3,491.3 2030.3,495.3 2030.6,495.3 2030.6,499.3 2030.8,499.3 2030.8,503.3 2031.0,503.3 2031.0,507.3 2031.2,507.3 2033.6,507.3 2033.6,508.9 2035.9,508.9 2035.9,510.4 2035.9,514.7 2036.1,514.7 2036.1,518.9 2036.3,518.9 2036.3,523.2 2036.5,523.2 2036.5,527.5 2036.7,527.5 2036.7,531.7 2036.9,531.7 2036.9,536.0 2037.1,536.0 2037.1,540.2 2037.3,540.2 2037.3,544.5 2037.5,544.5 2037.5,548.5 2037.9,548.5 2037.9,552.5 2038.4,552.5 2038.4,556.5 2038.8,556.5 2038.8,560.5 2039.3,560.5 2039.3,564.5 2039.7,564.5 2039.7,568.5 2040.2,568.5 2040.2,572.5 2040.6,572.5 2044.2,572.5 2044.2,573.0 2047.8,573.0 2047.8,573.5 2051.4,573.5 2051.4,574.0 2054.5,574.0 2054.5,575.6 2057.6,575.6 2057.6,577.1 2060.7,577.1 2060.7,578.7 2064.6,578.7 2064.6,582.6 2068.5,582.6 2068.5,586.5 2072.1,586.5 2072.1,584.9 2075.8,584.9 2075.8,583.4 2079.4,583.4 2079.4,581.8 2079.4,585.7 2080.2,585.7 2080.2,589.5 2080.9,589.5 2080.9,593.4 2081.7,593.4 2081.7,597.3 2082.5,597.3 2082.5,601.2 2083.7,601.2 2083.7,605.1 2084.8,605.1 2084.8,609.0 2085.9,609.0 2085.9,612.9 2087.1,612.9 2087.1,617.2 2087.4,617.2 2087.4,621.6 2087.7,621.6 2087.7,625.9 2088.1,625.9 2088.1,630.3 2088.4,630.3 2088.4,634.6 2088.7,634.6 2091.8,634.6 2091.8,637.7 2094.9,637.7 2094.9,640.8 2098.0,640.8 2098.0,643.9 2098.0,648.0 2099.6,648.0 2099.6,652.2 2101.1,652.2 2101.1,656.3 2102.7,656.3 2102.7,660.5 2104.2,660.5 2104.2,664.6 2105.8,664.6 2105.8,668.8 2107.3,668.8 2107.3,672.5 2107.9,672.5 2107.9,676.2 2108.5,676.2 2108.5,680.0 2109.2,680.0 2109.2,683.7 2109.8,683.7 2109.8,687.4 2110.4,687.4 2110.4,691.3 2111.9,691.3 2111.9,695.1 2113.5,695.1 2113.5,699.0 2115.1,699.0 2115.1,702.9 2116.6,702.9 2116.6,707.3 2117.2,707.3 2117.2,711.6 2117.9,711.6 2117.9,716.0 2118.5,716.0 2118.5,720.3 2119.2,720.3 2119.2,724.7 2119.8,724.7 2119.8,728.7 2120.5,728.7 2120.5,732.7 2121.1,732.7 2121.1,736.7 2121.8,736.7 2121.8,740.6 2122.4,740.6 2122.4,744.6 2123.1,744.6 2123.1,748.6 2123.7,748.6 2123.7,752.6 2124.4,752.6 2124.4,757.2 2124.8,757.2 2124.8,761.8 2125.3,761.8 2125.3,766.3 2125.7,766.3 2125.7,770.9 2126.2,770.9 2126.2,775.5 2126.6,775.5 2126.6,778.6 2128.9,778.6 2128.9,781.7 2131.2,781.7 2131.2,785.9 2131.5,785.9 2131.5,790.0 2131.7,790.0 2131.7,794.2 2132.0,794.2 2132.0,798.3 2132.3,798.3 2132.3,802.5 2132.5,802.5 2132.5,806.6 2132.8,806.6 2132.8,810.6 2133.2,810.6 2133.2,814.6 2133.7,814.6 2133.7,818.6 2134.1,818.6 2134.1,822.5 2134.6,822.5 2134.6,826.5 2135.0,826.5 2135.0,830.5 2135.5,830.5 2135.5,834.5 2135.9,834.5 2135.9,837.6 2138.0,837.6 2138.0,840.8 2140.0,840.8 2140.0,843.9 2142.1,843.9 2142.1,847.0 2143.7,847.0 2143.7,850.1 2145.2,850.1 2145.2,853.2 2146.8,853.2 2146.8,857.1 2148.4,857.1 2148.4,861.0 2149.9,861.0 2149.9,864.8 2151.4,864.8 2151.4,868.7 2153.0,868.7 2153.0,873.0 2153.6,873.0 2153.6,877.4 2154.2,877.4 2154.2,881.7 2154.9,881.7 2154.9,886.1 2155.5,886.1 2155.5,890.4 2156.1,890.4 2156.1,894.8 2157.3,894.8 2157.3,899.1 2158.6,899.1 2158.6,903.5 2159.8,903.5 2159.8,907.8 2161.1,907.8 2161.1,912.2 2162.3,912.2 2162.3,916.1 2163.5,916.1 2163.5,920.0 2164.7,920.0 2164.7,923.8 2165.8,923.8 2165.8,927.7 2167.0,927.7 2167.0,931.6 2168.6,931.6 2168.6,935.5 2170.1,935.5 2170.1,939.3 2171.6,939.3 2171.6,943.2 2173.2,943.2 2176.3,943.2 2176.3,946.3 2179.4,946.3 2179.4,949.4 2182.5,949.4 2182.5,952.5 2182.5,955.6 2184.0,955.6 2184.0,958.8 2185.6,958.8 2185.6,961.9 2187.1,961.9 2187.1,965.8 2188.3,965.8 2188.3,969.6 2189.4,969.6 2189.4,973.5 2190.6,973.5 2190.6,977.4 2191.8,977.4 2191.8,981.3 2192.6,981.3 2192.6,985.1 2193.4,985.1 2193.4,989.0 2194.1,989.0 2194.1,992.9 2194.9,992.9 2198.5,992.9 2198.5,993.9 2202.2,993.9 2202.2,995.0 2205.8,995.0 2205.8,996.0 2209.7,996.0 2209.7,999.1 2213.5,999.1 2213.5,1002.2 2216.8,1002.2 2216.8,1004.5 2220.0,1004.5 2220.0,1006.8 2224.3,1006.8 2224.3,1010.2 2228.6,1010.2 2228.6,1013.7 2232.9,1013.7 2232.9,1017.1 2232.9,1021.0 2234.2,1021.0 2234.2,1024.9 2235.5,1024.9 2235.5,1028.8 2236.8,1028.8 2236.8,1032.7 2238.1,1032.7 2238.1,1036.1 2239.8,1036.1 2239.8,1039.6 2241.6,1039.6 2241.6,1043.0 2243.3,1043.0 2243.3,1047.3 2245.0,1047.3 2245.0,1051.6 2246.8,1051.6 2246.8,1055.9 2248.5,1055.9 2248.5,1059.4 2250.2,1059.4 2250.2,1062.8 2251.9,1062.8 2251.9,1066.3 2253.6,1066.3 2257.1,1066.3 2257.1,1063.7 2260.5,1063.7 2260.5,1061.1 2264.0,1061.1 2264.0,1058.5 2264.0,1062.4 2266.6,1062.4 2266.6,1066.3 2269.2,1066.3 2269.2,1069.7 2270.9,1069.7 2270.9,1073.2 2272.6,1073.2 2272.6,1076.6 2274.3,1076.6 2278.2,1076.6 2278.2,1079.2 2282.1,1079.2 2282.1,1081.8 2305.4,1080.5 2309.2,1080.5 2309.2,1083.8 2313.1,1083.8 2313.1,1087.0 2316.6,1087.0 2316.6,1086.1 2320.0,1086.1 2320.0,1085.3 2323.5,1085.3 2323.5,1084.4 2326.9,1084.4 2326.9,1086.1 2330.4,1086.1 2330.4,1087.9 2333.8,1087.9 2333.8,1089.6 2337.3,1089.6 2337.3,1093.0 2340.7,1093.0 2340.7,1096.5 2344.2,1096.5 2344.2,1099.9 2348.5,1099.9 2348.5,1100.8 2352.8,1100.8 2352.8,1101.6 2357.1,1101.6 2357.1,1102.5 2361.4,1102.5 2361.4,1104.7 2365.8,1104.7 2365.8,1106.8 2370.1,1106.8 2370.1,1109.0 2373.5,1109.0 2373.5,1106.8 2377.0,1106.8 2377.0,1104.7 2380.4,1104.7 2380.4,1102.5 2393.4,1102.5 2397.2,1102.5 2397.2,1105.8 2401.1,1105.8 2401.1,1109.0 2416.6,1109.0 2420.5,1109.0 2420.5,1107.0 2424.4,1107.0 2424.4,1105.1 2428.6,1105.1 2428.6,1105.8 2432.8,1105.8 2432.8,1106.6 2434.0,1111.2 2451.4,1111.2 2452.6,1115.9 2460.8,1115.9 2461.3,1120.6 2473.6,1120.6 2474.7,1115.9 2484.0,1115.9 2484.6,1111.2 2492.2,1111.2 2492.2,1114.1 2493.3,1114.1 2493.3,1117.0 2494.5,1117.0 2496.8,1117.0 2496.8,1118.8 2499.2,1118.8 2499.2,1120.6 2513.2,1120.6" fill="none" stroke="#dc3d3d" stroke-width="6.5" stroke-linejoin="miter" stroke-miterlimit="4"/>
<rect x="1340.4" y="133.8" width="1370" height="991.6" fill="none" stroke="#231815" stroke-width="4.4"/>
<line x1="1342" y1="875" x2="1359" y2="875" stroke="#231815" stroke-width="4.4"/>
<line x1="1342" y1="628.5" x2="1359" y2="628.5" stroke="#231815" stroke-width="4.4"/>
<line x1="1342" y1="378.3" x2="1359" y2="378.3" stroke="#231815" stroke-width="4.4"/>
<line x1="1475.2" y1="1108" x2="1475.2" y2="1124" stroke="#231815" stroke-width="4.4"/>
<line x1="1612.4" y1="1108" x2="1612.4" y2="1124" stroke="#231815" stroke-width="4.4"/>
<line x1="1749.6" y1="1108" x2="1749.6" y2="1124" stroke="#231815" stroke-width="4.4"/>
<line x1="1886.8" y1="1108" x2="1886.8" y2="1124" stroke="#231815" stroke-width="4.4"/>
<line x1="2024.0" y1="1108" x2="2024.0" y2="1124" stroke="#231815" stroke-width="4.4"/>
<line x1="2161.2" y1="1108" x2="2161.2" y2="1124" stroke="#231815" stroke-width="4.4"/>
<line x1="2298.4" y1="1108" x2="2298.4" y2="1124" stroke="#231815" stroke-width="4.4"/>
<line x1="2435.6" y1="1108" x2="2435.6" y2="1124" stroke="#231815" stroke-width="4.4"/>
<line x1="2572.8" y1="1108" x2="2572.8" y2="1124" stroke="#231815" stroke-width="4.4"/>
<text x="1318" y="898.0" text-anchor="end" style="font-family:'Liberation Serif',serif;font-size:68px" fill="#231815">1</text>
<text x="1318" y="651.5" text-anchor="end" style="font-family:'Liberation Serif',serif;font-size:68px" fill="#231815">2</text>
<text x="1318" y="401.3" text-anchor="end" style="font-family:'Liberation Serif',serif;font-size:68px" fill="#231815">3</text>
<text x="1318" y="157.0" text-anchor="end" style="font-family:'Liberation Serif',serif;font-size:68px" fill="#231815">4</text>
<text x="1301.7" y="1195" text-anchor="middle" style="font-family:'Liberation Serif',serif;font-size:68px" fill="#231815">0</text>
<text x="1475.2" y="1195" text-anchor="middle" style="font-family:'Liberation Serif',serif;font-size:68px" fill="#231815">2</text>
<text x="1612.4" y="1195" text-anchor="middle" style="font-family:'Liberation Serif',serif;font-size:68px" fill="#231815">4</text>
<text x="1749.6" y="1195" text-anchor="middle" style="font-family:'Liberation Serif',serif;font-size:68px" fill="#231815">6</text>
<text x="1886.8" y="1195" text-anchor="middle" style="font-family:'Liberation Serif',serif;font-size:68px" fill="#231815">8</text>
<text x="2024.0" y="1195" text-anchor="middle" style="font-family:'Liberation Serif',serif;font-size:68px" fill="#231815">10</text>
<text x="2161.2" y="1195" text-anchor="middle" style="font-family:'Liberation Serif',serif;font-size:68px" fill="#231815">12</text>
<text x="2298.4" y="1195" text-anchor="middle" style="font-family:'Liberation Serif',serif;font-size:68px" fill="#231815">14</text>
<text x="2435.6" y="1195" text-anchor="middle" style="font-family:'Liberation Serif',serif;font-size:68px" fill="#231815">16</text>
<text x="2572.8" y="1195" text-anchor="middle" style="font-family:'Liberation Serif',serif;font-size:68px" fill="#231815">18</text>
<text x="2710.0" y="1195" text-anchor="middle" style="font-family:'Liberation Serif',serif;font-size:68px" fill="#231815">20</text>
<text x="2026" y="1295.2" text-anchor="middle" style="font-family:'Liberation Serif',serif;font-size:67px" fill="#231815">Displacement/mm</text>
<text transform="translate(1235,629) rotate(-90)" x="0" y="0" text-anchor="middle" style="font-family:'Liberation Serif',serif;font-size:68px" fill="#231815">Force/kN</text>
<line x1="2330" y1="278" x2="2456.6" y2="278" stroke="#4b4b4b" stroke-width="7.5"/>
<line x1="2330" y1="341.4" x2="2456.6" y2="341.4" stroke="#dc3d3d" stroke-width="7.5"/>
<text x="2476.5" y="295.1" style="font-family:'Liberation Serif',serif;font-size:68px" fill="#231815">Exp.</text>
<text x="2476.5" y="371.6" style="font-family:'Liberation Serif',serif;font-size:68px" fill="#231815">FEM</text>
<line x1="1403.0" y1="1018.0" x2="1458.2" y2="1023.3" stroke="#231815" stroke-width="4.4"/>
<line x1="1501.0" y1="765.3" x2="1532.5" y2="826.6" stroke="#231815" stroke-width="4.4"/>
<line x1="1573.2" y1="376.1" x2="1577.9" y2="427.4" stroke="#231815" stroke-width="4.4"/>
<line x1="1690.7" y1="399.2" x2="1691.7" y2="446.7" stroke="#231815" stroke-width="4.4"/>
<line x1="1962.0" y1="408.5" x2="2001.1" y2="361.0" stroke="#231815" stroke-width="4.4"/>
<line x1="2087.1" y1="577.1" x2="2127.5" y2="527.5" stroke="#231815" stroke-width="4.4"/>
<line x1="2202.7" y1="986.7" x2="2243.3" y2="938.2" stroke="#231815" stroke-width="4.4"/>
<line x1="2364.9" y1="1096.0" x2="2405.0" y2="1046.9" stroke="#231815" stroke-width="4.4"/>
<text x="1459.5" y="1047.0" style="font-family:'Liberation Serif',serif;font-style:italic;font-size:68px" fill="#231815">A</text>
<text x="1538.4" y="853.0" style="font-family:'Liberation Serif',serif;font-style:italic;font-size:68px" fill="#231815">B</text>
<text x="1524.2" y="366.2" style="font-family:'Liberation Serif',serif;font-style:italic;font-size:68px" fill="#231815">C</text>
<text x="1677.6" y="379.5" style="font-family:'Liberation Serif',serif;font-style:italic;font-size:68px" fill="#231815">D</text>
<text x="2009.4" y="375.9" style="font-family:'Liberation Serif',serif;font-style:italic;font-size:68px" fill="#231815">E</text>
<text x="2139.6" y="541.4" style="font-family:'Liberation Serif',serif;font-style:italic;font-size:68px" fill="#231815">F</text>
<text x="2246.0" y="932.4" style="font-family:'Liberation Serif',serif;font-style:italic;font-size:68px" fill="#231815">G</text>
<text x="2390.2" y="1029.5" style="font-family:'Liberation Serif',serif;font-style:italic;font-size:68px" fill="#231815">H</text>
</svg>
</body></html>
